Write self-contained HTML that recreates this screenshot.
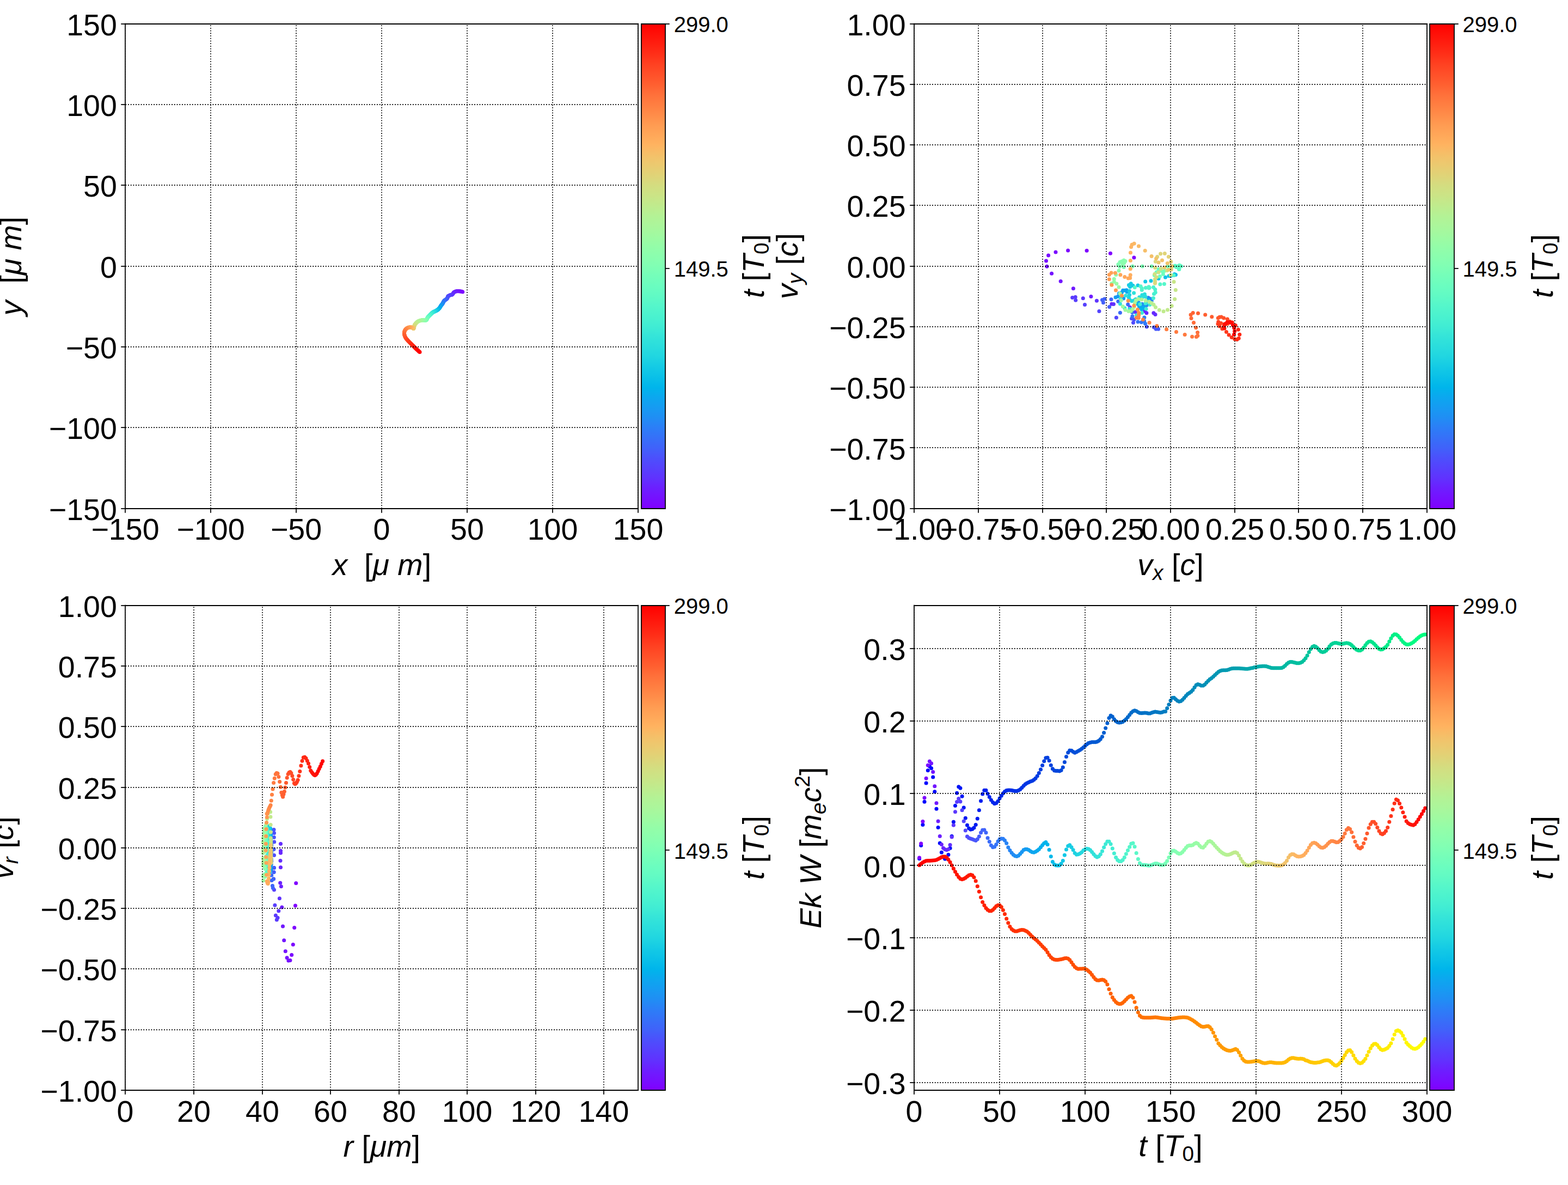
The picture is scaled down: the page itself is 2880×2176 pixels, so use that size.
<!DOCTYPE html>
<html><head><meta charset="utf-8"><title>figure</title>
<style>html,body{margin:0;padding:0;background:#fff}svg{display:block}</style></head>
<body>
<svg width="2880" height="2176" viewBox="0 0 1296 979.2" role="img" aria-label="Four-panel particle trajectory figure">
<defs><linearGradient id="rb" x1="0" y1="1" x2="0" y2="0"><stop offset="0.0000" stop-color="#8000ff"/><stop offset="0.0208" stop-color="#7610ff"/><stop offset="0.0417" stop-color="#6c1fff"/><stop offset="0.0625" stop-color="#6032fe"/><stop offset="0.0833" stop-color="#5641fd"/><stop offset="0.1042" stop-color="#4c50fc"/><stop offset="0.1250" stop-color="#4062fa"/><stop offset="0.1458" stop-color="#3670f8"/><stop offset="0.1667" stop-color="#2c7ef7"/><stop offset="0.1875" stop-color="#208ef4"/><stop offset="0.2083" stop-color="#169bf2"/><stop offset="0.2292" stop-color="#0ca7ef"/><stop offset="0.2500" stop-color="#00b5eb"/><stop offset="0.2708" stop-color="#0ac0e8"/><stop offset="0.2917" stop-color="#14cae5"/><stop offset="0.3125" stop-color="#20d5e1"/><stop offset="0.3333" stop-color="#2adddd"/><stop offset="0.3542" stop-color="#34e4d9"/><stop offset="0.3750" stop-color="#40ecd4"/><stop offset="0.3958" stop-color="#4af2cf"/><stop offset="0.4167" stop-color="#54f6cb"/><stop offset="0.4375" stop-color="#60fac5"/><stop offset="0.4583" stop-color="#6afdc0"/><stop offset="0.4792" stop-color="#74feba"/><stop offset="0.5000" stop-color="#80ffb4"/><stop offset="0.5208" stop-color="#8bfeae"/><stop offset="0.5417" stop-color="#94fda8"/><stop offset="0.5625" stop-color="#a0faa1"/><stop offset="0.5833" stop-color="#abf69b"/><stop offset="0.6042" stop-color="#b4f295"/><stop offset="0.6250" stop-color="#c0eb8d"/><stop offset="0.6458" stop-color="#cbe486"/><stop offset="0.6667" stop-color="#d4dd80"/><stop offset="0.6875" stop-color="#e0d377"/><stop offset="0.7083" stop-color="#ebca70"/><stop offset="0.7292" stop-color="#f4c069"/><stop offset="0.7500" stop-color="#ffb360"/><stop offset="0.7708" stop-color="#ffa759"/><stop offset="0.7917" stop-color="#ff9b52"/><stop offset="0.8125" stop-color="#ff8c49"/><stop offset="0.8333" stop-color="#ff7e41"/><stop offset="0.8542" stop-color="#ff703a"/><stop offset="0.8750" stop-color="#ff5f30"/><stop offset="0.8958" stop-color="#ff5029"/><stop offset="0.9167" stop-color="#ff4121"/><stop offset="0.9375" stop-color="#ff2f18"/><stop offset="0.9583" stop-color="#ff1f10"/><stop offset="0.9792" stop-color="#ff1008"/><stop offset="1.0000" stop-color="#ff0000"/></linearGradient>
<style type="text/css">*{stroke-linejoin: round; stroke-linecap: butt}
.t{font-family:"Liberation Sans","DejaVu Sans",sans-serif;font-size:25px;fill:#000000}
.s{font-family:"Liberation Sans","DejaVu Sans",sans-serif;font-size:18px;fill:#000000}
.i{font-style:italic}</style>
</defs>
<g id="figure_1">
<g id="patch_1">
<path d="M 0 979.2 L 1296 979.2 L 1296 0 L 0 0 z
" style="fill: #ffffff"/>
</g>
<g id="axes_1">
<g id="patch_2">
<path d="M 103.68 420.165818 L 527.443826 420.165818 L 527.443826 19.584 L 103.68 19.584 z
" style="fill: #ffffff"/>
</g>
<g transform="scale(0.45)"><defs><clipPath id="cp1"><rect x="230.40" y="43.52" width="941.7" height="890.18"/></clipPath><clipPath id="cp2"><rect x="1679.16" y="43.52" width="941.7" height="890.18"/></clipPath><clipPath id="cp3"><rect x="230.40" y="1111.74" width="941.7" height="890.18"/></clipPath><clipPath id="cp4"><rect x="1679.16" y="1111.74" width="941.7" height="890.18"/></clipPath></defs><g clip-path="url(#cp1)"><circle cx="849.7" cy="536.0" r="3.52" fill="#8000ff"/><circle cx="848.6" cy="535.6" r="3.52" fill="#8000ff"/><circle cx="847.4" cy="535.3" r="3.52" fill="#7e03ff"/><circle cx="846.1" cy="535.0" r="3.52" fill="#7c06ff"/><circle cx="844.9" cy="534.9" r="3.52" fill="#7a09ff"/><circle cx="843.6" cy="534.8" r="3.52" fill="#780dff"/><circle cx="842.4" cy="534.7" r="3.52" fill="#7610ff"/><circle cx="841.1" cy="534.7" r="3.52" fill="#7413ff"/><circle cx="839.8" cy="534.7" r="3.52" fill="#7413ff"/><circle cx="838.5" cy="534.7" r="3.52" fill="#7216ff"/><circle cx="837.3" cy="535.0" r="3.52" fill="#7019ff"/><circle cx="836.1" cy="535.4" r="3.52" fill="#6e1cff"/><circle cx="835.0" cy="535.9" r="3.52" fill="#6c1fff"/><circle cx="834.1" cy="536.4" r="3.52" fill="#6a22fe"/><circle cx="833.3" cy="537.1" r="3.52" fill="#6826fe"/><circle cx="832.7" cy="538.0" r="3.52" fill="#6826fe"/><circle cx="832.1" cy="538.9" r="3.52" fill="#6629fe"/><circle cx="831.6" cy="539.8" r="3.52" fill="#642cfe"/><circle cx="830.9" cy="540.6" r="3.52" fill="#622ffe"/><circle cx="830.1" cy="541.2" r="3.52" fill="#6032fe"/><circle cx="829.1" cy="541.4" r="3.52" fill="#5e35fe"/><circle cx="828.0" cy="541.6" r="3.52" fill="#5c38fd"/><circle cx="827.0" cy="541.8" r="3.52" fill="#5a3bfd"/><circle cx="826.0" cy="542.2" r="3.52" fill="#5a3bfd"/><circle cx="825.1" cy="542.7" r="3.52" fill="#583efd"/><circle cx="824.2" cy="543.2" r="3.52" fill="#5641fd"/><circle cx="823.4" cy="543.6" r="3.52" fill="#5444fd"/><circle cx="822.8" cy="544.1" r="3.52" fill="#5247fc"/><circle cx="822.5" cy="544.9" r="3.52" fill="#504afc"/><circle cx="822.2" cy="545.7" r="3.52" fill="#4e4dfc"/><circle cx="822.0" cy="546.6" r="3.52" fill="#4e4dfc"/><circle cx="821.6" cy="547.4" r="3.52" fill="#4c50fc"/><circle cx="821.2" cy="548.1" r="3.52" fill="#4a53fb"/><circle cx="820.6" cy="548.7" r="3.52" fill="#4856fb"/><circle cx="820.0" cy="549.3" r="3.52" fill="#4659fb"/><circle cx="819.3" cy="549.8" r="3.52" fill="#445cfb"/><circle cx="818.6" cy="550.2" r="3.52" fill="#425ffa"/><circle cx="817.9" cy="550.7" r="3.52" fill="#4062fa"/><circle cx="817.4" cy="551.0" r="3.52" fill="#4062fa"/><circle cx="816.9" cy="551.3" r="3.52" fill="#3e65fa"/><circle cx="816.5" cy="551.7" r="3.52" fill="#3c68f9"/><circle cx="816.1" cy="552.1" r="3.52" fill="#396bf9"/><circle cx="815.7" cy="552.5" r="3.52" fill="#386df9"/><circle cx="815.3" cy="552.9" r="3.52" fill="#3670f8"/><circle cx="815.0" cy="553.4" r="3.52" fill="#3473f8"/><circle cx="814.7" cy="553.9" r="3.52" fill="#3473f8"/><circle cx="814.4" cy="554.4" r="3.52" fill="#3176f8"/><circle cx="814.2" cy="554.9" r="3.52" fill="#3079f7"/><circle cx="814.0" cy="555.5" r="3.52" fill="#2e7bf7"/><circle cx="813.7" cy="556.0" r="3.52" fill="#2c7ef7"/><circle cx="813.5" cy="556.5" r="3.52" fill="#2981f6"/><circle cx="813.2" cy="557.0" r="3.52" fill="#2884f6"/><circle cx="812.9" cy="557.5" r="3.52" fill="#2884f6"/><circle cx="812.5" cy="557.9" r="3.52" fill="#2686f5"/><circle cx="812.2" cy="558.4" r="3.52" fill="#2489f5"/><circle cx="811.8" cy="558.8" r="3.52" fill="#218cf4"/><circle cx="811.5" cy="559.3" r="3.52" fill="#208ef4"/><circle cx="811.1" cy="559.7" r="3.52" fill="#1e91f3"/><circle cx="810.8" cy="560.2" r="3.52" fill="#1c93f3"/><circle cx="810.4" cy="560.6" r="3.52" fill="#1996f3"/><circle cx="810.1" cy="561.1" r="3.52" fill="#1996f3"/><circle cx="809.8" cy="561.6" r="3.52" fill="#1898f2"/><circle cx="809.5" cy="562.1" r="3.52" fill="#169bf2"/><circle cx="809.2" cy="562.6" r="3.52" fill="#149df1"/><circle cx="808.9" cy="563.1" r="3.52" fill="#11a0f1"/><circle cx="808.6" cy="563.6" r="3.52" fill="#10a2f0"/><circle cx="808.3" cy="564.0" r="3.52" fill="#0ea5ef"/><circle cx="808.0" cy="564.5" r="3.52" fill="#0ea5ef"/><circle cx="807.6" cy="564.9" r="3.52" fill="#0ca7ef"/><circle cx="807.3" cy="565.4" r="3.52" fill="#09a9ee"/><circle cx="806.9" cy="565.8" r="3.52" fill="#08acee"/><circle cx="806.5" cy="566.2" r="3.52" fill="#06aeed"/><circle cx="806.1" cy="566.7" r="3.52" fill="#04b0ed"/><circle cx="805.7" cy="567.1" r="3.52" fill="#01b3ec"/><circle cx="805.3" cy="567.5" r="3.52" fill="#00b5eb"/><circle cx="805.0" cy="567.8" r="3.52" fill="#00b5eb"/><circle cx="804.7" cy="568.0" r="3.52" fill="#02b7eb"/><circle cx="804.4" cy="568.3" r="3.52" fill="#04b9ea"/><circle cx="804.1" cy="568.6" r="3.52" fill="#07bbea"/><circle cx="803.7" cy="568.9" r="3.52" fill="#08bee9"/><circle cx="803.4" cy="569.1" r="3.52" fill="#0ac0e8"/><circle cx="803.1" cy="569.4" r="3.52" fill="#0dc2e8"/><circle cx="802.7" cy="569.6" r="3.52" fill="#0dc2e8"/><circle cx="802.4" cy="569.8" r="3.52" fill="#0fc4e7"/><circle cx="802.0" cy="570.1" r="3.52" fill="#10c6e6"/><circle cx="801.7" cy="570.3" r="3.52" fill="#12c8e6"/><circle cx="801.3" cy="570.5" r="3.52" fill="#14cae5"/><circle cx="800.9" cy="570.6" r="3.52" fill="#17cbe4"/><circle cx="800.6" cy="570.8" r="3.52" fill="#18cde4"/><circle cx="800.2" cy="571.0" r="3.52" fill="#18cde4"/><circle cx="799.8" cy="571.2" r="3.52" fill="#1acfe3"/><circle cx="799.4" cy="571.3" r="3.52" fill="#1dd1e2"/><circle cx="799.0" cy="571.5" r="3.52" fill="#1fd3e1"/><circle cx="798.6" cy="571.7" r="3.52" fill="#20d5e1"/><circle cx="798.2" cy="571.9" r="3.52" fill="#22d6e0"/><circle cx="797.8" cy="572.0" r="3.52" fill="#24d8df"/><circle cx="797.4" cy="572.2" r="3.52" fill="#27dade"/><circle cx="797.0" cy="572.4" r="3.52" fill="#27dade"/><circle cx="796.6" cy="572.6" r="3.52" fill="#28dbde"/><circle cx="796.2" cy="572.8" r="3.52" fill="#2adddd"/><circle cx="795.8" cy="573.0" r="3.52" fill="#2ddedc"/><circle cx="795.4" cy="573.3" r="3.52" fill="#2fe0db"/><circle cx="795.1" cy="573.5" r="3.52" fill="#30e1da"/><circle cx="794.7" cy="573.8" r="3.52" fill="#32e3da"/><circle cx="794.4" cy="574.1" r="3.52" fill="#32e3da"/><circle cx="794.0" cy="574.3" r="3.52" fill="#34e4d9"/><circle cx="793.7" cy="574.6" r="3.52" fill="#37e6d8"/><circle cx="793.4" cy="574.9" r="3.52" fill="#38e7d7"/><circle cx="793.0" cy="575.2" r="3.52" fill="#3ae8d6"/><circle cx="792.7" cy="575.5" r="3.52" fill="#3dead5"/><circle cx="792.4" cy="575.8" r="3.52" fill="#3febd5"/><circle cx="792.1" cy="576.1" r="3.52" fill="#40ecd4"/><circle cx="791.8" cy="576.4" r="3.52" fill="#40ecd4"/><circle cx="791.5" cy="576.7" r="3.52" fill="#42edd3"/><circle cx="791.2" cy="577.0" r="3.52" fill="#44eed2"/><circle cx="790.9" cy="577.3" r="3.52" fill="#46efd1"/><circle cx="790.6" cy="577.6" r="3.52" fill="#48f1d0"/><circle cx="790.3" cy="577.9" r="3.52" fill="#4af2cf"/><circle cx="790.0" cy="578.2" r="3.52" fill="#4df3ce"/><circle cx="789.7" cy="578.5" r="3.52" fill="#4df3ce"/><circle cx="789.4" cy="578.8" r="3.52" fill="#4ef3cd"/><circle cx="789.1" cy="579.1" r="3.52" fill="#50f4cc"/><circle cx="788.8" cy="579.4" r="3.52" fill="#52f5cb"/><circle cx="788.5" cy="579.7" r="3.52" fill="#54f6cb"/><circle cx="788.2" cy="580.0" r="3.52" fill="#56f7ca"/><circle cx="787.9" cy="580.3" r="3.52" fill="#58f8c9"/><circle cx="787.6" cy="580.6" r="3.52" fill="#58f8c9"/><circle cx="787.3" cy="580.9" r="3.52" fill="#5af8c8"/><circle cx="787.0" cy="581.2" r="3.52" fill="#5df9c7"/><circle cx="786.7" cy="581.5" r="3.52" fill="#5efac6"/><circle cx="786.5" cy="581.8" r="3.52" fill="#60fac5"/><circle cx="786.2" cy="582.1" r="3.52" fill="#62fbc4"/><circle cx="785.9" cy="582.5" r="3.52" fill="#64fbc3"/><circle cx="785.6" cy="582.8" r="3.52" fill="#66fcc2"/><circle cx="785.4" cy="583.1" r="3.52" fill="#66fcc2"/><circle cx="785.2" cy="583.5" r="3.52" fill="#68fcc1"/><circle cx="785.0" cy="583.9" r="3.52" fill="#6afdc0"/><circle cx="784.8" cy="584.2" r="3.52" fill="#6dfdbf"/><circle cx="784.6" cy="584.6" r="3.52" fill="#6efebe"/><circle cx="784.5" cy="585.0" r="3.52" fill="#70febc"/><circle cx="784.3" cy="585.4" r="3.52" fill="#72febb"/><circle cx="784.2" cy="585.8" r="3.52" fill="#72febb"/><circle cx="784.0" cy="586.2" r="3.52" fill="#74feba"/><circle cx="783.8" cy="586.5" r="3.52" fill="#76ffb9"/><circle cx="783.6" cy="586.9" r="3.52" fill="#78ffb8"/><circle cx="783.3" cy="587.2" r="3.52" fill="#7affb7"/><circle cx="783.0" cy="587.5" r="3.52" fill="#7dffb6"/><circle cx="782.6" cy="587.8" r="3.52" fill="#7effb5"/><circle cx="782.2" cy="588.0" r="3.52" fill="#80ffb4"/><circle cx="781.8" cy="588.2" r="3.52" fill="#80ffb4"/><circle cx="781.4" cy="588.2" r="3.52" fill="#82ffb3"/><circle cx="781.0" cy="588.3" r="3.52" fill="#84ffb2"/><circle cx="780.6" cy="588.3" r="3.52" fill="#86ffb0"/><circle cx="780.1" cy="588.2" r="3.52" fill="#88ffaf"/><circle cx="779.7" cy="588.2" r="3.52" fill="#8bfeae"/><circle cx="779.3" cy="588.1" r="3.52" fill="#8cfead"/><circle cx="778.8" cy="588.0" r="3.52" fill="#8cfead"/><circle cx="778.4" cy="587.9" r="3.52" fill="#8efeac"/><circle cx="777.9" cy="587.9" r="3.52" fill="#90feab"/><circle cx="777.4" cy="587.8" r="3.52" fill="#92fda9"/><circle cx="776.9" cy="587.8" r="3.52" fill="#94fda8"/><circle cx="776.4" cy="587.8" r="3.52" fill="#96fca7"/><circle cx="775.9" cy="587.8" r="3.52" fill="#99fca6"/><circle cx="775.4" cy="587.9" r="3.52" fill="#99fca6"/><circle cx="775.0" cy="587.9" r="3.52" fill="#9bfba5"/><circle cx="774.5" cy="588.0" r="3.52" fill="#9cfba4"/><circle cx="774.0" cy="588.1" r="3.52" fill="#9efaa2"/><circle cx="773.5" cy="588.2" r="3.52" fill="#a0faa1"/><circle cx="773.1" cy="588.3" r="3.52" fill="#a2f9a0"/><circle cx="772.6" cy="588.4" r="3.52" fill="#a4f89f"/><circle cx="772.1" cy="588.5" r="3.52" fill="#a6f89d"/><circle cx="771.6" cy="588.7" r="3.52" fill="#a6f89d"/><circle cx="771.2" cy="588.8" r="3.52" fill="#a8f79c"/><circle cx="770.5" cy="589.0" r="3.52" fill="#abf69b"/><circle cx="769.9" cy="589.3" r="3.52" fill="#acf59a"/><circle cx="769.3" cy="589.5" r="3.52" fill="#aef498"/><circle cx="768.7" cy="589.8" r="3.52" fill="#b0f397"/><circle cx="768.1" cy="590.1" r="3.52" fill="#b2f396"/><circle cx="767.5" cy="590.4" r="3.52" fill="#b2f396"/><circle cx="766.9" cy="590.8" r="3.52" fill="#b4f295"/><circle cx="766.4" cy="591.2" r="3.52" fill="#b6f193"/><circle cx="765.9" cy="591.6" r="3.52" fill="#b9ef92"/><circle cx="765.4" cy="592.1" r="3.52" fill="#bbee91"/><circle cx="764.9" cy="592.6" r="3.52" fill="#bced8f"/><circle cx="764.4" cy="593.1" r="3.52" fill="#beec8e"/><circle cx="764.1" cy="593.4" r="3.52" fill="#c0eb8d"/><circle cx="763.8" cy="593.8" r="3.52" fill="#c0eb8d"/><circle cx="763.4" cy="594.1" r="3.52" fill="#c2ea8c"/><circle cx="763.1" cy="594.5" r="3.52" fill="#c4e88a"/><circle cx="762.8" cy="594.9" r="3.52" fill="#c6e789"/><circle cx="762.5" cy="595.3" r="3.52" fill="#c8e688"/><circle cx="762.2" cy="595.7" r="3.52" fill="#cbe486"/><circle cx="762.0" cy="596.1" r="3.52" fill="#cce385"/><circle cx="761.7" cy="596.6" r="3.52" fill="#cce385"/><circle cx="761.5" cy="597.0" r="3.52" fill="#cee184"/><circle cx="761.3" cy="597.5" r="3.52" fill="#d0e082"/><circle cx="761.1" cy="598.0" r="3.52" fill="#d2de81"/><circle cx="761.0" cy="598.4" r="3.52" fill="#d4dd80"/><circle cx="760.9" cy="598.9" r="3.52" fill="#d6db7e"/><circle cx="760.8" cy="599.3" r="3.52" fill="#d9da7d"/><circle cx="760.7" cy="599.6" r="3.52" fill="#d9da7d"/><circle cx="760.7" cy="600.0" r="3.52" fill="#dbd87b"/><circle cx="760.6" cy="600.4" r="3.52" fill="#dcd67a"/><circle cx="760.6" cy="600.8" r="3.52" fill="#ded579"/><circle cx="760.5" cy="601.2" r="3.52" fill="#e0d377"/><circle cx="760.4" cy="601.6" r="3.52" fill="#e2d176"/><circle cx="760.3" cy="602.1" r="3.52" fill="#e4cf74"/><circle cx="760.1" cy="602.5" r="3.52" fill="#e6cd73"/><circle cx="760.0" cy="602.9" r="3.52" fill="#e6cd73"/><circle cx="759.7" cy="603.2" r="3.52" fill="#e8cb72"/><circle cx="759.5" cy="603.4" r="3.52" fill="#ebca70"/><circle cx="759.2" cy="603.3" r="3.52" fill="#ecc86f"/><circle cx="758.9" cy="603.1" r="3.52" fill="#eec66d"/><circle cx="758.5" cy="602.8" r="3.52" fill="#f0c46c"/><circle cx="758.2" cy="602.5" r="3.52" fill="#f2c26b"/><circle cx="757.8" cy="602.1" r="3.52" fill="#f2c26b"/><circle cx="757.4" cy="601.8" r="3.52" fill="#f4c069"/><circle cx="757.0" cy="601.5" r="3.52" fill="#f6be68"/><circle cx="756.6" cy="601.3" r="3.52" fill="#f9bb66"/><circle cx="756.2" cy="601.2" r="3.52" fill="#fbb965"/><circle cx="755.8" cy="601.1" r="3.52" fill="#fcb763"/><circle cx="755.4" cy="601.0" r="3.52" fill="#feb562"/><circle cx="755.0" cy="601.0" r="3.52" fill="#ffb360"/><circle cx="754.5" cy="600.9" r="3.52" fill="#ffb360"/><circle cx="754.0" cy="600.9" r="3.52" fill="#ffb05f"/><circle cx="753.5" cy="600.9" r="3.52" fill="#ffae5e"/><circle cx="753.0" cy="600.9" r="3.52" fill="#ffac5c"/><circle cx="752.5" cy="601.0" r="3.52" fill="#ffa95b"/><circle cx="752.0" cy="601.0" r="3.52" fill="#ffa759"/><circle cx="751.6" cy="601.1" r="3.52" fill="#ffa558"/><circle cx="751.1" cy="601.2" r="3.52" fill="#ffa558"/><circle cx="750.6" cy="601.3" r="3.52" fill="#ffa256"/><circle cx="750.1" cy="601.5" r="3.52" fill="#ffa055"/><circle cx="749.6" cy="601.6" r="3.52" fill="#ff9d53"/><circle cx="749.2" cy="601.8" r="3.52" fill="#ff9b52"/><circle cx="748.7" cy="602.0" r="3.52" fill="#ff9850"/><circle cx="748.3" cy="602.2" r="3.52" fill="#ff964f"/><circle cx="747.8" cy="602.5" r="3.52" fill="#ff964f"/><circle cx="747.3" cy="602.8" r="3.52" fill="#ff934d"/><circle cx="746.7" cy="603.2" r="3.52" fill="#ff914c"/><circle cx="746.2" cy="603.7" r="3.52" fill="#ff8e4a"/><circle cx="745.6" cy="604.1" r="3.52" fill="#ff8c49"/><circle cx="745.2" cy="604.6" r="3.52" fill="#ff8947"/><circle cx="744.7" cy="605.1" r="3.52" fill="#ff8646"/><circle cx="744.3" cy="605.7" r="3.52" fill="#ff8444"/><circle cx="744.0" cy="606.3" r="3.52" fill="#ff8444"/><circle cx="743.6" cy="606.9" r="3.52" fill="#ff8143"/><circle cx="743.4" cy="607.5" r="3.52" fill="#ff7e41"/><circle cx="743.1" cy="608.1" r="3.52" fill="#ff7b40"/><circle cx="742.9" cy="608.8" r="3.52" fill="#ff793e"/><circle cx="742.7" cy="609.5" r="3.52" fill="#ff763d"/><circle cx="742.6" cy="610.2" r="3.52" fill="#ff733b"/><circle cx="742.5" cy="610.9" r="3.52" fill="#ff733b"/><circle cx="742.4" cy="611.7" r="3.52" fill="#ff703a"/><circle cx="742.4" cy="612.4" r="3.52" fill="#ff6d38"/><circle cx="742.5" cy="613.1" r="3.52" fill="#ff6b37"/><circle cx="742.6" cy="613.8" r="3.52" fill="#ff6835"/><circle cx="742.8" cy="614.5" r="3.52" fill="#ff6533"/><circle cx="743.0" cy="615.2" r="3.52" fill="#ff6232"/><circle cx="743.2" cy="615.9" r="3.52" fill="#ff5f30"/><circle cx="743.5" cy="616.9" r="3.52" fill="#ff5f30"/><circle cx="743.9" cy="617.9" r="3.52" fill="#ff5c2f"/><circle cx="744.3" cy="618.8" r="3.52" fill="#ff592d"/><circle cx="744.8" cy="619.7" r="3.52" fill="#ff562c"/><circle cx="745.3" cy="620.5" r="3.52" fill="#ff532a"/><circle cx="745.9" cy="621.4" r="3.52" fill="#ff5029"/><circle cx="746.5" cy="622.2" r="3.52" fill="#ff4d27"/><circle cx="747.2" cy="622.9" r="3.52" fill="#ff4d27"/><circle cx="747.8" cy="623.7" r="3.52" fill="#ff4a26"/><circle cx="748.5" cy="624.5" r="3.52" fill="#ff4724"/><circle cx="749.1" cy="625.2" r="3.52" fill="#ff4422"/><circle cx="749.8" cy="626.0" r="3.52" fill="#ff4121"/><circle cx="750.5" cy="626.7" r="3.52" fill="#ff3e1f"/><circle cx="751.4" cy="627.6" r="3.52" fill="#ff3b1e"/><circle cx="752.2" cy="628.4" r="3.52" fill="#ff3b1e"/><circle cx="753.0" cy="629.3" r="3.52" fill="#ff381c"/><circle cx="753.9" cy="630.1" r="3.52" fill="#ff351b"/><circle cx="754.7" cy="630.9" r="3.52" fill="#ff3219"/><circle cx="755.6" cy="631.7" r="3.52" fill="#ff2f18"/><circle cx="756.4" cy="632.6" r="3.52" fill="#ff2c16"/><circle cx="757.2" cy="633.4" r="3.52" fill="#ff2914"/><circle cx="758.1" cy="634.3" r="3.52" fill="#ff2613"/><circle cx="758.9" cy="635.1" r="3.52" fill="#ff2613"/><circle cx="759.7" cy="635.9" r="3.52" fill="#ff2211"/><circle cx="760.6" cy="636.8" r="3.52" fill="#ff1f10"/><circle cx="761.4" cy="637.6" r="3.52" fill="#ff1c0e"/><circle cx="762.2" cy="638.5" r="3.52" fill="#ff190d"/><circle cx="763.1" cy="639.3" r="3.52" fill="#ff160b"/><circle cx="763.9" cy="640.1" r="3.52" fill="#ff1309"/><circle cx="764.8" cy="640.9" r="3.52" fill="#ff1309"/><circle cx="765.7" cy="641.7" r="3.52" fill="#ff1008"/><circle cx="766.6" cy="642.5" r="3.52" fill="#ff0d06"/><circle cx="767.5" cy="643.3" r="3.52" fill="#ff0905"/><circle cx="768.3" cy="644.1" r="3.52" fill="#ff0603"/><circle cx="769.2" cy="644.9" r="3.52" fill="#ff0302"/><circle cx="770.1" cy="645.7" r="3.52" fill="#ff0000"/><circle cx="771.0" cy="646.5" r="3.52" fill="#ff0000"/></g></g>
<g id="matplotlib.axis_1">
<g id="xtick_1">
<g id="line2d_1">
<path d="M 103.5000 420.1658 L 103.5000 19.5840" clip-path="url(#pd6aecbfa7d)" style="fill: none; stroke-dasharray: 0.8,1.32; stroke-dashoffset: 0; stroke: #000000; stroke-width: 0.8"/>
</g>
<g id="line2d_2">
<defs>
<path id="m1504cfccaf" d="M 0.0000 0.0000 L 0.0000 3.5000" style="stroke: #000000; stroke-width: 0.8"/>
</defs>
<g>
<use href="#m1504cfccaf" x="103.5000" y="420.3000" style="stroke: #000000; stroke-width: 0.8"/>
</g>
</g>
<g id="text_1">
<text class="t" x="103.5" y="446.16" text-anchor="middle">−150</text>
</g>
</g>
<g id="xtick_2">
<g id="line2d_3">
<path d="M 174.1500 420.1658 L 174.1500 19.5840" clip-path="url(#pd6aecbfa7d)" style="fill: none; stroke-dasharray: 0.8,1.32; stroke-dashoffset: 0; stroke: #000000; stroke-width: 0.8"/>
</g>
<g id="line2d_4">
<g>
<use href="#m1504cfccaf" x="174.1500" y="420.3000" style="stroke: #000000; stroke-width: 0.8"/>
</g>
</g>
<g id="text_2">
<text class="t" x="174.15" y="446.16" text-anchor="middle">−100</text>
</g>
</g>
<g id="xtick_3">
<g id="line2d_5">
<path d="M 244.8000 420.1658 L 244.8000 19.5840" clip-path="url(#pd6aecbfa7d)" style="fill: none; stroke-dasharray: 0.8,1.32; stroke-dashoffset: 0; stroke: #000000; stroke-width: 0.8"/>
</g>
<g id="line2d_6">
<g>
<use href="#m1504cfccaf" x="244.8000" y="420.3000" style="stroke: #000000; stroke-width: 0.8"/>
</g>
</g>
<g id="text_3">
<text class="t" x="244.8" y="446.16" text-anchor="middle">−50</text>
</g>
</g>
<g id="xtick_4">
<g id="line2d_7">
<path d="M 315.4500 420.1658 L 315.4500 19.5840" clip-path="url(#pd6aecbfa7d)" style="fill: none; stroke-dasharray: 0.8,1.32; stroke-dashoffset: 0; stroke: #000000; stroke-width: 0.8"/>
</g>
<g id="line2d_8">
<g>
<use href="#m1504cfccaf" x="315.4500" y="420.3000" style="stroke: #000000; stroke-width: 0.8"/>
</g>
</g>
<g id="text_4">
<text class="t" x="315.45" y="446.16" text-anchor="middle">0</text>
</g>
</g>
<g id="xtick_5">
<g id="line2d_9">
<path d="M 386.1000 420.1658 L 386.1000 19.5840" clip-path="url(#pd6aecbfa7d)" style="fill: none; stroke-dasharray: 0.8,1.32; stroke-dashoffset: 0; stroke: #000000; stroke-width: 0.8"/>
</g>
<g id="line2d_10">
<g>
<use href="#m1504cfccaf" x="386.1000" y="420.3000" style="stroke: #000000; stroke-width: 0.8"/>
</g>
</g>
<g id="text_5">
<text class="t" x="386.1" y="446.16" text-anchor="middle">50</text>
</g>
</g>
<g id="xtick_6">
<g id="line2d_11">
<path d="M 456.7500 420.1658 L 456.7500 19.5840" clip-path="url(#pd6aecbfa7d)" style="fill: none; stroke-dasharray: 0.8,1.32; stroke-dashoffset: 0; stroke: #000000; stroke-width: 0.8"/>
</g>
<g id="line2d_12">
<g>
<use href="#m1504cfccaf" x="456.7500" y="420.3000" style="stroke: #000000; stroke-width: 0.8"/>
</g>
</g>
<g id="text_6">
<text class="t" x="456.75" y="446.16" text-anchor="middle">100</text>
</g>
</g>
<g id="xtick_7">
<g id="line2d_13">
<path d="M 527.4000 420.1658 L 527.4000 19.5840" clip-path="url(#pd6aecbfa7d)" style="fill: none; stroke-dasharray: 0.8,1.32; stroke-dashoffset: 0; stroke: #000000; stroke-width: 0.8"/>
</g>
<g id="line2d_14">
<g>
<use href="#m1504cfccaf" x="527.4000" y="420.3000" style="stroke: #000000; stroke-width: 0.8"/>
</g>
</g>
<g id="text_7">
<text class="t" x="527.4" y="446.16" text-anchor="middle">150</text>
</g>
</g>
<g id="text_8">
<text class="t" x="315.56" y="475.28" text-anchor="middle"><tspan class="i">x</tspan>&#160;&#160;[<tspan class="i">μ&#160;m</tspan>]</text>
</g>
</g>
<g id="matplotlib.axis_2">
<g id="ytick_1">
<g id="line2d_15">
<path d="M 103.6800 420.3000 L 527.4438 420.3000" clip-path="url(#pd6aecbfa7d)" style="fill: none; stroke-dasharray: 0.8,1.32; stroke-dashoffset: 0; stroke: #000000; stroke-width: 0.8"/>
</g>
<g id="line2d_16">
<defs>
<path id="m5d545ce8f8" d="M 0.0000 0.0000 L -3.5000 0.0000" style="stroke: #000000; stroke-width: 0.8"/>
</defs>
<g>
<use href="#m5d545ce8f8" x="103.5000" y="420.3000" style="stroke: #000000; stroke-width: 0.8"/>
</g>
</g>
<g id="text_9">
<text class="t" x="96.7" y="429.66" text-anchor="end">−150</text>
</g>
</g>
<g id="ytick_2">
<g id="line2d_17">
<path d="M 103.6800 353.2500 L 527.4438 353.2500" clip-path="url(#pd6aecbfa7d)" style="fill: none; stroke-dasharray: 0.8,1.32; stroke-dashoffset: 0; stroke: #000000; stroke-width: 0.8"/>
</g>
<g id="line2d_18">
<g>
<use href="#m5d545ce8f8" x="103.5000" y="353.2500" style="stroke: #000000; stroke-width: 0.8"/>
</g>
</g>
<g id="text_10">
<text class="t" x="96.7" y="362.9" text-anchor="end">−100</text>
</g>
</g>
<g id="ytick_3">
<g id="line2d_19">
<path d="M 103.6800 286.6500 L 527.4438 286.6500" clip-path="url(#pd6aecbfa7d)" style="fill: none; stroke-dasharray: 0.8,1.32; stroke-dashoffset: 0; stroke: #000000; stroke-width: 0.8"/>
</g>
<g id="line2d_20">
<g>
<use href="#m5d545ce8f8" x="103.5000" y="286.6500" style="stroke: #000000; stroke-width: 0.8"/>
</g>
</g>
<g id="text_11">
<text class="t" x="96.7" y="296.14" text-anchor="end">−50</text>
</g>
</g>
<g id="ytick_4">
<g id="line2d_21">
<path d="M 103.6800 220.0500 L 527.4438 220.0500" clip-path="url(#pd6aecbfa7d)" style="fill: none; stroke-dasharray: 0.8,1.32; stroke-dashoffset: 0; stroke: #000000; stroke-width: 0.8"/>
</g>
<g id="line2d_22">
<g>
<use href="#m5d545ce8f8" x="103.5000" y="220.0500" style="stroke: #000000; stroke-width: 0.8"/>
</g>
</g>
<g id="text_12">
<text class="t" x="96.7" y="229.37" text-anchor="end">0</text>
</g>
</g>
<g id="ytick_5">
<g id="line2d_23">
<path d="M 103.6800 153.0000 L 527.4438 153.0000" clip-path="url(#pd6aecbfa7d)" style="fill: none; stroke-dasharray: 0.8,1.32; stroke-dashoffset: 0; stroke: #000000; stroke-width: 0.8"/>
</g>
<g id="line2d_24">
<g>
<use href="#m5d545ce8f8" x="103.5000" y="153.0000" style="stroke: #000000; stroke-width: 0.8"/>
</g>
</g>
<g id="text_13">
<text class="t" x="96.7" y="162.61" text-anchor="end">50</text>
</g>
</g>
<g id="ytick_6">
<g id="line2d_25">
<path d="M 103.6800 86.4000 L 527.4438 86.4000" clip-path="url(#pd6aecbfa7d)" style="fill: none; stroke-dasharray: 0.8,1.32; stroke-dashoffset: 0; stroke: #000000; stroke-width: 0.8"/>
</g>
<g id="line2d_26">
<g>
<use href="#m5d545ce8f8" x="103.5000" y="86.4000" style="stroke: #000000; stroke-width: 0.8"/>
</g>
</g>
<g id="text_14">
<text class="t" x="96.7" y="95.85" text-anchor="end">100</text>
</g>
</g>
<g id="ytick_7">
<g id="line2d_27">
<path d="M 103.6800 19.8000 L 527.4438 19.8000" clip-path="url(#pd6aecbfa7d)" style="fill: none; stroke-dasharray: 0.8,1.32; stroke-dashoffset: 0; stroke: #000000; stroke-width: 0.8"/>
</g>
<g id="line2d_28">
<g>
<use href="#m5d545ce8f8" x="103.5000" y="19.8000" style="stroke: #000000; stroke-width: 0.8"/>
</g>
</g>
<g id="text_15">
<text class="t" x="96.7" y="29.08" text-anchor="end">150</text>
</g>
</g>
<g id="text_16">
<text class="t" transform="translate(17.65 219.87) rotate(-90)" text-anchor="middle"><tspan class="i">y</tspan>&#160;&#160;[<tspan class="i">μ&#160;m</tspan>]</text>
</g>
</g>
<g id="patch_3">
<path d="M 103.5000 420.1658 L 103.5000 19.5840" style="fill: none; stroke: #000000; stroke-width: 0.8; stroke-linejoin: miter; stroke-linecap: square"/>
</g>
<g id="patch_4">
<path d="M 527.4000 420.1658 L 527.4000 19.5840" style="fill: none; stroke: #000000; stroke-width: 0.8; stroke-linejoin: miter; stroke-linecap: square"/>
</g>
<g id="patch_5">
<path d="M 103.6800 420.3000 L 527.4438 420.3000" style="fill: none; stroke: #000000; stroke-width: 0.8; stroke-linejoin: miter; stroke-linecap: square"/>
</g>
<g id="patch_6">
<path d="M 103.6800 19.8000 L 527.4438 19.8000" style="fill: none; stroke: #000000; stroke-width: 0.8; stroke-linejoin: miter; stroke-linecap: square"/>
</g>
</g>
<g id="axes_2">
<g id="patch_7">
<path d="M 529.951304 420.165818 L 549.980395 420.165818 L 549.980395 19.584 L 529.951304 19.584 z
" style="fill: #ffffff"/>
</g>
<rect x="529.951" y="19.584" width="20.029" height="400.582" fill="url(#rb)"/>
<g id="matplotlib.axis_3"/>
<g id="matplotlib.axis_4">
<g id="ytick_8">
<g id="line2d_29">
<defs>
<path id="m33c4ce201d" d="M 0.0000 0.0000 L 3.5000 0.0000" style="stroke: #000000; stroke-width: 0.8"/>
</defs>
<g>
<use href="#m33c4ce201d" x="549.9000" y="221.8500" style="stroke: #000000; stroke-width: 0.8"/>
</g>
</g>
<g id="text_17">
<text class="s" x="556.98" y="228.74">149.5</text>
</g>
</g>
<g id="ytick_9">
<g id="line2d_30">
<g>
<use href="#m33c4ce201d" x="549.9000" y="19.8000" style="stroke: #000000; stroke-width: 0.8"/>
</g>
</g>
<g id="text_18">
<text class="s" x="556.98" y="26.42">299.0</text>
</g>
</g>
<g id="text_19">
<text class="t" transform="translate(631.51 219.87) rotate(-90)" text-anchor="middle"><tspan class="i">t</tspan> [<tspan class="i">T</tspan><tspan font-size="17.5" dy="4.1">0</tspan><tspan dy="-4.1">]</tspan></text>
</g>
</g>
<g id="LineCollection_1"/>
<g id="patch_8">
<path d="M 530.1000 420.3000 L 540.0000 420.3000 L 549.9000 420.3000 L 549.9000 19.8000 L 540.0000 19.8000 L 530.1000 19.8000 L 530.1000 420.3000 z" style="fill: none; stroke: #000000; stroke-width: 0.8; stroke-linejoin: miter; stroke-linecap: square"/>
</g>
</g>
<g id="axes_3">
<g id="patch_9">
<path d="M 755.624348 420.165818 L 1179.388174 420.165818 L 1179.388174 19.584 L 755.624348 19.584 z
" style="fill: #ffffff"/>
</g>
<g transform="scale(0.45)"><g clip-path="url(#cp2)"><circle cx="2082.9" cy="473.0" r="3.52" fill="#8000ff"/><circle cx="2039.5" cy="465.3" r="3.52" fill="#8000ff"/><circle cx="1996.1" cy="460.2" r="3.52" fill="#7e03ff"/><circle cx="1961.6" cy="460.0" r="3.52" fill="#7c06ff"/><circle cx="1939.0" cy="463.1" r="3.52" fill="#7a09ff"/><circle cx="1925.6" cy="469.1" r="3.52" fill="#780dff"/><circle cx="1921.5" cy="479.0" r="3.52" fill="#7610ff"/><circle cx="1922.9" cy="489.3" r="3.52" fill="#7413ff"/><circle cx="1931.6" cy="502.3" r="3.52" fill="#7413ff"/><circle cx="1948.2" cy="516.4" r="3.52" fill="#7216ff"/><circle cx="1971.4" cy="529.8" r="3.52" fill="#7019ff"/><circle cx="2003.9" cy="544.5" r="3.52" fill="#6e1cff"/><circle cx="2041.9" cy="558.2" r="3.52" fill="#6c1fff"/><circle cx="2075.3" cy="564.3" r="3.52" fill="#6a22fe"/><circle cx="2102.7" cy="571.4" r="3.52" fill="#6826fe"/><circle cx="2105.9" cy="574.7" r="3.52" fill="#6826fe"/><circle cx="2118.9" cy="574.7" r="3.52" fill="#6629fe"/><circle cx="2122.0" cy="577.6" r="3.52" fill="#642cfe"/><circle cx="2085.3" cy="573.0" r="3.52" fill="#622ffe"/><circle cx="2045.4" cy="558.6" r="3.52" fill="#6032fe"/><circle cx="2014.4" cy="552.2" r="3.52" fill="#5e35fe"/><circle cx="1989.3" cy="547.7" r="3.52" fill="#5c38fd"/><circle cx="1975.2" cy="545.4" r="3.52" fill="#5a3bfd"/><circle cx="1969.7" cy="546.4" r="3.52" fill="#5a3bfd"/><circle cx="1975.7" cy="551.3" r="3.52" fill="#583efd"/><circle cx="1992.5" cy="559.5" r="3.52" fill="#5641fd"/><circle cx="2018.9" cy="571.4" r="3.52" fill="#5444fd"/><circle cx="2050.4" cy="583.3" r="3.52" fill="#5247fc"/><circle cx="2081.5" cy="592.6" r="3.52" fill="#504afc"/><circle cx="2078.6" cy="585.1" r="3.52" fill="#4e4dfc"/><circle cx="2082.9" cy="586.7" r="3.52" fill="#4e4dfc"/><circle cx="2106.2" cy="599.9" r="3.52" fill="#4c50fc"/><circle cx="2119.5" cy="601.0" r="3.52" fill="#4a53fb"/><circle cx="2123.3" cy="604.3" r="3.52" fill="#4856fb"/><circle cx="2127.6" cy="604.3" r="3.52" fill="#4659fb"/><circle cx="2037.6" cy="563.6" r="3.52" fill="#445cfb"/><circle cx="2026.5" cy="555.7" r="3.52" fill="#425ffa"/><circle cx="2024.5" cy="550.8" r="3.52" fill="#4062fa"/><circle cx="2028.7" cy="548.9" r="3.52" fill="#4062fa"/><circle cx="2041.0" cy="549.7" r="3.52" fill="#3e65fa"/><circle cx="2053.8" cy="553.5" r="3.52" fill="#3c68f9"/><circle cx="2057.4" cy="574.3" r="3.52" fill="#396bf9"/><circle cx="2071.7" cy="558.9" r="3.52" fill="#386df9"/><circle cx="2079.7" cy="573.4" r="3.52" fill="#3670f8"/><circle cx="2079.9" cy="580.7" r="3.52" fill="#3473f8"/><circle cx="2090.0" cy="591.0" r="3.52" fill="#3473f8"/><circle cx="2096.5" cy="591.8" r="3.52" fill="#3176f8"/><circle cx="2101.6" cy="589.6" r="3.52" fill="#3079f7"/><circle cx="2103.5" cy="594.3" r="3.52" fill="#2e7bf7"/><circle cx="2101.9" cy="582.9" r="3.52" fill="#2c7ef7"/><circle cx="2109.2" cy="546.8" r="3.52" fill="#2981f6"/><circle cx="2113.0" cy="548.7" r="3.52" fill="#2884f6"/><circle cx="2115.2" cy="552.8" r="3.52" fill="#2884f6"/><circle cx="2106.0" cy="560.4" r="3.52" fill="#2686f5"/><circle cx="2100.5" cy="562.6" r="3.52" fill="#2489f5"/><circle cx="2097.8" cy="558.2" r="3.52" fill="#218cf4"/><circle cx="2091.3" cy="555.5" r="3.52" fill="#208ef4"/><circle cx="2095.1" cy="564.7" r="3.52" fill="#1e91f3"/><circle cx="2098.4" cy="565.8" r="3.52" fill="#1c93f3"/><circle cx="2102.2" cy="560.4" r="3.52" fill="#1996f3"/><circle cx="2063.6" cy="547.9" r="3.52" fill="#1996f3"/><circle cx="2053.3" cy="544.6" r="3.52" fill="#1898f2"/><circle cx="2049.0" cy="546.0" r="3.52" fill="#169bf2"/><circle cx="2055.5" cy="538.7" r="3.52" fill="#149df1"/><circle cx="2060.4" cy="537.1" r="3.52" fill="#11a0f1"/><circle cx="2062.6" cy="533.3" r="3.52" fill="#10a2f0"/><circle cx="2065.8" cy="533.3" r="3.52" fill="#0ea5ef"/><circle cx="2069.1" cy="532.7" r="3.52" fill="#0ea5ef"/><circle cx="2070.1" cy="536.0" r="3.52" fill="#0ca7ef"/><circle cx="2092.4" cy="562.6" r="3.52" fill="#09a9ee"/><circle cx="2100.0" cy="564.7" r="3.52" fill="#08acee"/><circle cx="2094.0" cy="560.4" r="3.52" fill="#06aeed"/><circle cx="2104.9" cy="556.0" r="3.52" fill="#04b0ed"/><circle cx="2109.7" cy="550.6" r="3.52" fill="#01b3ec"/><circle cx="2096.7" cy="568.0" r="3.52" fill="#00b5eb"/><circle cx="2089.7" cy="558.2" r="3.52" fill="#00b5eb"/><circle cx="2086.4" cy="555.5" r="3.52" fill="#02b7eb"/><circle cx="2155.9" cy="505.6" r="3.52" fill="#04b9ea"/><circle cx="2159.4" cy="504.6" r="3.52" fill="#07bbea"/><circle cx="2157.3" cy="503.5" r="3.52" fill="#08bee9"/><circle cx="2150.2" cy="506.7" r="3.52" fill="#0ac0e8"/><circle cx="2147.0" cy="506.7" r="3.52" fill="#0dc2e8"/><circle cx="2140.5" cy="509.2" r="3.52" fill="#0dc2e8"/><circle cx="2128.0" cy="511.6" r="3.52" fill="#0fc4e7"/><circle cx="2114.0" cy="515.7" r="3.52" fill="#10c6e6"/><circle cx="2103.7" cy="516.9" r="3.52" fill="#12c8e6"/><circle cx="2090.0" cy="524.1" r="3.52" fill="#14cae5"/><circle cx="2081.0" cy="524.6" r="3.52" fill="#14cae5"/><circle cx="2077.2" cy="520.8" r="3.52" fill="#17cbe4"/><circle cx="2075.6" cy="526.8" r="3.52" fill="#18cde4"/><circle cx="2073.4" cy="523.5" r="3.52" fill="#18cde4"/><circle cx="2074.5" cy="534.6" r="3.52" fill="#1acfe3"/><circle cx="2074.5" cy="541.4" r="3.52" fill="#1dd1e2"/><circle cx="2073.4" cy="546.3" r="3.52" fill="#1fd3e1"/><circle cx="2075.0" cy="550.6" r="3.52" fill="#20d5e1"/><circle cx="2078.8" cy="552.8" r="3.52" fill="#22d6e0"/><circle cx="2082.6" cy="551.7" r="3.52" fill="#24d8df"/><circle cx="2085.9" cy="549.5" r="3.52" fill="#27dade"/><circle cx="2092.7" cy="545.7" r="3.52" fill="#27dade"/><circle cx="2097.8" cy="541.7" r="3.52" fill="#28dbde"/><circle cx="2102.4" cy="540.3" r="3.52" fill="#2adddd"/><circle cx="2104.1" cy="544.9" r="3.52" fill="#2ddedc"/><circle cx="2097.8" cy="546.3" r="3.52" fill="#2fe0db"/><circle cx="2082.6" cy="537.9" r="3.52" fill="#30e1da"/><circle cx="2067.7" cy="542.7" r="3.52" fill="#32e3da"/><circle cx="2058.2" cy="547.4" r="3.52" fill="#32e3da"/><circle cx="2057.4" cy="557.9" r="3.52" fill="#34e4d9"/><circle cx="2065.8" cy="565.8" r="3.52" fill="#37e6d8"/><circle cx="2074.8" cy="566.9" r="3.52" fill="#38e7d7"/><circle cx="2087.5" cy="578.8" r="3.52" fill="#3ae8d6"/><circle cx="2097.5" cy="574.5" r="3.52" fill="#3dead5"/><circle cx="2105.1" cy="567.2" r="3.52" fill="#3febd5"/><circle cx="2104.1" cy="557.1" r="3.52" fill="#40ecd4"/><circle cx="2094.0" cy="558.5" r="3.52" fill="#40ecd4"/><circle cx="2111.9" cy="559.6" r="3.52" fill="#42edd3"/><circle cx="2118.4" cy="547.4" r="3.52" fill="#44eed2"/><circle cx="2119.5" cy="539.8" r="3.52" fill="#46efd1"/><circle cx="2122.2" cy="537.1" r="3.52" fill="#48f1d0"/><circle cx="2121.7" cy="531.6" r="3.52" fill="#4af2cf"/><circle cx="2118.6" cy="527.6" r="3.52" fill="#4df3ce"/><circle cx="2111.1" cy="528.2" r="3.52" fill="#4df3ce"/><circle cx="2097.3" cy="532.4" r="3.52" fill="#4ef3cd"/><circle cx="2104.3" cy="528.4" r="3.52" fill="#50f4cc"/><circle cx="2110.3" cy="528.9" r="3.52" fill="#52f5cb"/><circle cx="2097.3" cy="529.5" r="3.52" fill="#52f5cb"/><circle cx="2130.9" cy="521.9" r="3.52" fill="#54f6cb"/><circle cx="2110.0" cy="526.8" r="3.52" fill="#54f6cb"/><circle cx="2095.1" cy="525.7" r="3.52" fill="#56f7ca"/><circle cx="2138.4" cy="521.5" r="3.52" fill="#56f7ca"/><circle cx="2084.3" cy="527.8" r="3.52" fill="#58f8c9"/><circle cx="2155.9" cy="505.6" r="3.52" fill="#58f8c9"/><circle cx="2165.7" cy="494.5" r="3.52" fill="#58f8c9"/><circle cx="2158.4" cy="488.0" r="3.52" fill="#5af8c8"/><circle cx="2166.2" cy="487.2" r="3.52" fill="#5df9c7"/><circle cx="2169.5" cy="489.1" r="3.52" fill="#5efac6"/><circle cx="2165.7" cy="494.5" r="3.52" fill="#60fac5"/><circle cx="2160.5" cy="490.5" r="3.52" fill="#62fbc4"/><circle cx="2163.2" cy="488.8" r="3.52" fill="#64fbc3"/><circle cx="2167.6" cy="487.7" r="3.52" fill="#66fcc2"/><circle cx="2145.1" cy="489.1" r="3.52" fill="#66fcc2"/><circle cx="2155.1" cy="488.8" r="3.52" fill="#68fcc1"/><circle cx="2128.0" cy="494.3" r="3.52" fill="#6afdc0"/><circle cx="2135.6" cy="498.6" r="3.52" fill="#6dfdbf"/><circle cx="2136.4" cy="503.5" r="3.52" fill="#6efebe"/><circle cx="2130.4" cy="507.5" r="3.52" fill="#70febc"/><circle cx="2124.2" cy="499.7" r="3.52" fill="#72febb"/><circle cx="2120.4" cy="505.6" r="3.52" fill="#72febb"/><circle cx="2138.8" cy="497.5" r="3.52" fill="#74feba"/><circle cx="2132.3" cy="497.0" r="3.52" fill="#76ffb9"/><circle cx="2145.1" cy="489.1" r="3.52" fill="#78ffb8"/><circle cx="2115.2" cy="489.1" r="3.52" fill="#7affb7"/><circle cx="2098.2" cy="489.1" r="3.52" fill="#7dffb6"/><circle cx="2080.2" cy="489.1" r="3.52" fill="#7effb5"/><circle cx="2064.2" cy="490.5" r="3.52" fill="#80ffb4"/><circle cx="2056.6" cy="489.4" r="3.52" fill="#80ffb4"/><circle cx="2053.9" cy="485.6" r="3.52" fill="#82ffb3"/><circle cx="2057.1" cy="481.2" r="3.52" fill="#84ffb2"/><circle cx="2060.4" cy="480.1" r="3.52" fill="#86ffb0"/><circle cx="2064.2" cy="478.0" r="3.52" fill="#88ffaf"/><circle cx="2066.9" cy="479.6" r="3.52" fill="#8bfeae"/><circle cx="2064.7" cy="482.9" r="3.52" fill="#8cfead"/><circle cx="2062.0" cy="485.0" r="3.52" fill="#8cfead"/><circle cx="2055.0" cy="497.0" r="3.52" fill="#8efeac"/><circle cx="2049.8" cy="504.6" r="3.52" fill="#90feab"/><circle cx="2046.3" cy="512.2" r="3.52" fill="#92fda9"/><circle cx="2046.3" cy="517.6" r="3.52" fill="#94fda8"/><circle cx="2041.7" cy="520.8" r="3.52" fill="#96fca7"/><circle cx="2050.9" cy="521.1" r="3.52" fill="#99fca6"/><circle cx="2055.0" cy="527.3" r="3.52" fill="#99fca6"/><circle cx="2057.1" cy="539.0" r="3.52" fill="#9bfba5"/><circle cx="2059.3" cy="551.4" r="3.52" fill="#9cfba4"/><circle cx="2062.3" cy="562.8" r="3.52" fill="#9efaa2"/><circle cx="2066.9" cy="569.3" r="3.52" fill="#a0faa1"/><circle cx="2072.9" cy="571.5" r="3.52" fill="#a4f89f"/><circle cx="2077.2" cy="571.2" r="3.52" fill="#a6f89d"/><circle cx="2080.7" cy="567.4" r="3.52" fill="#a8f79c"/><circle cx="2083.4" cy="563.1" r="3.52" fill="#abf69b"/><circle cx="2084.3" cy="556.6" r="3.52" fill="#acf59a"/><circle cx="2086.4" cy="551.7" r="3.52" fill="#aef498"/><circle cx="2090.8" cy="549.3" r="3.52" fill="#b0f397"/><circle cx="2097.0" cy="550.1" r="3.52" fill="#b2f396"/><circle cx="2104.3" cy="552.0" r="3.52" fill="#b4f295"/><circle cx="2110.8" cy="553.9" r="3.52" fill="#b6f193"/><circle cx="2115.2" cy="556.6" r="3.52" fill="#b9ef92"/><circle cx="2119.0" cy="559.6" r="3.52" fill="#bbee91"/><circle cx="2122.5" cy="564.2" r="3.52" fill="#bced8f"/><circle cx="2129.3" cy="569.3" r="3.52" fill="#beec8e"/><circle cx="2137.1" cy="571.8" r="3.52" fill="#c0eb8d"/><circle cx="2144.5" cy="569.1" r="3.52" fill="#c2ea8c"/><circle cx="2152.2" cy="561.8" r="3.52" fill="#c4e88a"/><circle cx="2157.7" cy="549.3" r="3.52" fill="#c4e88a"/><circle cx="2159.3" cy="532.6" r="3.52" fill="#c6e789"/><circle cx="2156.1" cy="517.6" r="3.52" fill="#c8e688"/><circle cx="2150.2" cy="505.1" r="3.52" fill="#cbe486"/><circle cx="2143.4" cy="496.7" r="3.52" fill="#cce385"/><circle cx="2132.3" cy="493.4" r="3.52" fill="#cce385"/><circle cx="2128.0" cy="499.9" r="3.52" fill="#cee184"/><circle cx="2120.9" cy="503.2" r="3.52" fill="#d0e082"/><circle cx="2124.2" cy="508.9" r="3.52" fill="#d2de81"/><circle cx="2121.5" cy="512.7" r="3.52" fill="#d4dd80"/><circle cx="2121.5" cy="517.0" r="3.52" fill="#d6db7e"/><circle cx="2121.5" cy="520.3" r="3.52" fill="#d9da7d"/><circle cx="2121.7" cy="491.5" r="3.52" fill="#d9da7d"/><circle cx="2122.4" cy="480.3" r="3.52" fill="#dbd87b"/><circle cx="2125.6" cy="471.5" r="3.52" fill="#dcd67a"/><circle cx="2131.6" cy="466.0" r="3.52" fill="#ded579"/><circle cx="2139.3" cy="465.4" r="3.52" fill="#e0d377"/><circle cx="2146.4" cy="471.5" r="3.52" fill="#e2d176"/><circle cx="2150.7" cy="480.6" r="3.52" fill="#e4cf74"/><circle cx="2152.7" cy="488.8" r="3.52" fill="#e6cd73"/><circle cx="2151.3" cy="494.8" r="3.52" fill="#e6cd73"/><circle cx="2146.4" cy="495.3" r="3.52" fill="#e8cb72"/><circle cx="2138.8" cy="491.3" r="3.52" fill="#ebca70"/><circle cx="2128.1" cy="482.0" r="3.52" fill="#ecc86f"/><circle cx="2152.4" cy="489.1" r="3.52" fill="#eec66d"/><circle cx="2144.3" cy="483.4" r="3.52" fill="#f0c46c"/><circle cx="2134.5" cy="478.0" r="3.52" fill="#f2c26b"/><circle cx="2123.6" cy="474.7" r="3.52" fill="#f2c26b"/><circle cx="2115.1" cy="470.5" r="3.52" fill="#f4c069"/><circle cx="2103.2" cy="460.3" r="3.52" fill="#f6be68"/><circle cx="2091.5" cy="452.0" r="3.52" fill="#f9bb66"/><circle cx="2083.2" cy="447.3" r="3.52" fill="#fbb965"/><circle cx="2079.1" cy="449.2" r="3.52" fill="#fcb763"/><circle cx="2077.6" cy="453.6" r="3.52" fill="#feb562"/><circle cx="2076.5" cy="464.1" r="3.52" fill="#ffb360"/><circle cx="2076.4" cy="478.5" r="3.52" fill="#ffb360"/><circle cx="2076.2" cy="493.7" r="3.52" fill="#ffb05f"/><circle cx="2076.2" cy="505.1" r="3.52" fill="#ffae5e"/><circle cx="2075.6" cy="510.5" r="3.52" fill="#ffac5c"/><circle cx="2072.3" cy="511.1" r="3.52" fill="#ffa95b"/><circle cx="2065.8" cy="508.6" r="3.52" fill="#ffa759"/><circle cx="2057.9" cy="504.8" r="3.52" fill="#ffa558"/><circle cx="2048.4" cy="501.3" r="3.52" fill="#ffa558"/><circle cx="2041.1" cy="501.0" r="3.52" fill="#ffa256"/><circle cx="2037.3" cy="504.6" r="3.52" fill="#ffa055"/><circle cx="2037.3" cy="512.7" r="3.52" fill="#ff9d53"/><circle cx="2041.9" cy="523.3" r="3.52" fill="#ff9b52"/><circle cx="2049.5" cy="533.0" r="3.52" fill="#ff9850"/><circle cx="2060.5" cy="543.1" r="3.52" fill="#ff964f"/><circle cx="2072.2" cy="552.2" r="3.52" fill="#ff964f"/><circle cx="2082.9" cy="561.2" r="3.52" fill="#ff934d"/><circle cx="2089.4" cy="568.6" r="3.52" fill="#ff914c"/><circle cx="2091.8" cy="574.6" r="3.52" fill="#ff8e4a"/><circle cx="2091.6" cy="579.1" r="3.52" fill="#ff8c49"/><circle cx="2091.3" cy="583.7" r="3.52" fill="#ff8947"/><circle cx="2087.5" cy="583.4" r="3.52" fill="#ff8646"/><circle cx="2099.4" cy="586.7" r="3.52" fill="#ff8444"/><circle cx="2111.1" cy="592.4" r="3.52" fill="#ff8444"/><circle cx="2124.9" cy="598.5" r="3.52" fill="#ff8143"/><circle cx="2142.6" cy="604.8" r="3.52" fill="#ff7e41"/><circle cx="2160.5" cy="609.5" r="3.52" fill="#ff7b40"/><circle cx="2176.2" cy="614.4" r="3.52" fill="#ff793e"/><circle cx="2189.6" cy="618.3" r="3.52" fill="#ff763d"/><circle cx="2197.4" cy="618.6" r="3.52" fill="#ff733b"/><circle cx="2199.8" cy="616.4" r="3.52" fill="#ff733b"/><circle cx="2199.6" cy="610.5" r="3.52" fill="#ff703a"/><circle cx="2196.6" cy="601.7" r="3.52" fill="#ff6d38"/><circle cx="2192.5" cy="592.4" r="3.52" fill="#ff6b37"/><circle cx="2188.0" cy="584.4" r="3.52" fill="#ff6835"/><circle cx="2187.1" cy="577.9" r="3.52" fill="#ff6533"/><circle cx="2191.2" cy="574.6" r="3.52" fill="#ff6232"/><circle cx="2200.5" cy="575.2" r="3.52" fill="#ff5f30"/><circle cx="2213.7" cy="577.9" r="3.52" fill="#ff5f30"/><circle cx="2225.8" cy="581.8" r="3.52" fill="#ff5c2f"/><circle cx="2237.3" cy="583.9" r="3.52" fill="#ff592d"/><circle cx="2240.0" cy="582.2" r="3.52" fill="#ff562c"/><circle cx="2243.2" cy="582.0" r="3.52" fill="#ff532a"/><circle cx="2247.8" cy="583.9" r="3.52" fill="#ff5029"/><circle cx="2254.4" cy="586.0" r="3.52" fill="#ff4d27"/><circle cx="2259.0" cy="590.4" r="3.52" fill="#ff4d27"/><circle cx="2254.6" cy="594.7" r="3.52" fill="#ff4a26"/><circle cx="2248.7" cy="595.3" r="3.52" fill="#ff4724"/><circle cx="2242.7" cy="593.6" r="3.52" fill="#ff4422"/><circle cx="2237.8" cy="590.9" r="3.52" fill="#ff4121"/><circle cx="2237.0" cy="594.7" r="3.52" fill="#ff3e1f"/><circle cx="2240.0" cy="599.1" r="3.52" fill="#ff3b1e"/><circle cx="2244.9" cy="603.7" r="3.52" fill="#ff3b1e"/><circle cx="2252.5" cy="609.6" r="3.52" fill="#ff381c"/><circle cx="2257.1" cy="615.1" r="3.52" fill="#ff351b"/><circle cx="2262.2" cy="619.4" r="3.52" fill="#ff3219"/><circle cx="2267.7" cy="622.4" r="3.52" fill="#ff2f18"/><circle cx="2272.0" cy="623.5" r="3.52" fill="#ff2c16"/><circle cx="2275.2" cy="621.3" r="3.52" fill="#ff2914"/><circle cx="2276.8" cy="614.3" r="3.52" fill="#ff2613"/><circle cx="2274.4" cy="605.3" r="3.52" fill="#ff2613"/><circle cx="2269.3" cy="597.4" r="3.52" fill="#ff2211"/><circle cx="2263.3" cy="592.0" r="3.52" fill="#ff1f10"/><circle cx="2258.4" cy="591.2" r="3.52" fill="#ff1c0e"/><circle cx="2253.5" cy="592.6" r="3.52" fill="#ff190d"/><circle cx="2249.7" cy="596.1" r="3.52" fill="#ff160b"/><circle cx="2248.9" cy="602.9" r="3.52" fill="#ff1309"/><circle cx="2248.1" cy="599.3" r="3.52" fill="#ff1309"/><circle cx="2250.3" cy="594.7" r="3.52" fill="#ff1008"/><circle cx="2254.6" cy="591.7" r="3.52" fill="#ff0d06"/><circle cx="2260.1" cy="592.6" r="3.52" fill="#ff0905"/><circle cx="2264.4" cy="596.9" r="3.52" fill="#ff0603"/><circle cx="2266.8" cy="602.3" r="3.52" fill="#ff0302"/><circle cx="2267.7" cy="608.3" r="3.52" fill="#ff0000"/><circle cx="2266.6" cy="614.3" r="3.52" fill="#ff0000"/></g></g>
<g id="matplotlib.axis_5">
<g id="xtick_8">
<g id="line2d_31">
<path d="M 755.5500 420.1658 L 755.5500 19.5840" clip-path="url(#p91a6668fea)" style="fill: none; stroke-dasharray: 0.8,1.32; stroke-dashoffset: 0; stroke: #000000; stroke-width: 0.8"/>
</g>
<g id="line2d_32">
<g>
<use href="#m1504cfccaf" x="755.5500" y="420.3000" style="stroke: #000000; stroke-width: 0.8"/>
</g>
</g>
<g id="text_20">
<text class="t" x="755.55" y="446.16" text-anchor="middle">−1.00</text>
</g>
</g>
<g id="xtick_9">
<g id="line2d_33">
<path d="M 808.6500 420.1658 L 808.6500 19.5840" clip-path="url(#p91a6668fea)" style="fill: none; stroke-dasharray: 0.8,1.32; stroke-dashoffset: 0; stroke: #000000; stroke-width: 0.8"/>
</g>
<g id="line2d_34">
<g>
<use href="#m1504cfccaf" x="808.6500" y="420.3000" style="stroke: #000000; stroke-width: 0.8"/>
</g>
</g>
<g id="text_21">
<text class="t" x="808.65" y="446.16" text-anchor="middle">−0.75</text>
</g>
</g>
<g id="xtick_10">
<g id="line2d_35">
<path d="M 861.7500 420.1658 L 861.7500 19.5840" clip-path="url(#p91a6668fea)" style="fill: none; stroke-dasharray: 0.8,1.32; stroke-dashoffset: 0; stroke: #000000; stroke-width: 0.8"/>
</g>
<g id="line2d_36">
<g>
<use href="#m1504cfccaf" x="861.7500" y="420.3000" style="stroke: #000000; stroke-width: 0.8"/>
</g>
</g>
<g id="text_22">
<text class="t" x="861.75" y="446.16" text-anchor="middle">−0.50</text>
</g>
</g>
<g id="xtick_11">
<g id="line2d_37">
<path d="M 914.4000 420.1658 L 914.4000 19.5840" clip-path="url(#p91a6668fea)" style="fill: none; stroke-dasharray: 0.8,1.32; stroke-dashoffset: 0; stroke: #000000; stroke-width: 0.8"/>
</g>
<g id="line2d_38">
<g>
<use href="#m1504cfccaf" x="914.4000" y="420.3000" style="stroke: #000000; stroke-width: 0.8"/>
</g>
</g>
<g id="text_23">
<text class="t" x="914.4" y="446.16" text-anchor="middle">−0.25</text>
</g>
</g>
<g id="xtick_12">
<g id="line2d_39">
<path d="M 967.5000 420.1658 L 967.5000 19.5840" clip-path="url(#p91a6668fea)" style="fill: none; stroke-dasharray: 0.8,1.32; stroke-dashoffset: 0; stroke: #000000; stroke-width: 0.8"/>
</g>
<g id="line2d_40">
<g>
<use href="#m1504cfccaf" x="967.5000" y="420.3000" style="stroke: #000000; stroke-width: 0.8"/>
</g>
</g>
<g id="text_24">
<text class="t" x="967.5" y="446.16" text-anchor="middle">0.00</text>
</g>
</g>
<g id="xtick_13">
<g id="line2d_41">
<path d="M 1020.6000 420.1658 L 1020.6000 19.5840" clip-path="url(#p91a6668fea)" style="fill: none; stroke-dasharray: 0.8,1.32; stroke-dashoffset: 0; stroke: #000000; stroke-width: 0.8"/>
</g>
<g id="line2d_42">
<g>
<use href="#m1504cfccaf" x="1020.6000" y="420.3000" style="stroke: #000000; stroke-width: 0.8"/>
</g>
</g>
<g id="text_25">
<text class="t" x="1020.6" y="446.16" text-anchor="middle">0.25</text>
</g>
</g>
<g id="xtick_14">
<g id="line2d_43">
<path d="M 1073.2500 420.1658 L 1073.2500 19.5840" clip-path="url(#p91a6668fea)" style="fill: none; stroke-dasharray: 0.8,1.32; stroke-dashoffset: 0; stroke: #000000; stroke-width: 0.8"/>
</g>
<g id="line2d_44">
<g>
<use href="#m1504cfccaf" x="1073.2500" y="420.3000" style="stroke: #000000; stroke-width: 0.8"/>
</g>
</g>
<g id="text_26">
<text class="t" x="1073.25" y="446.16" text-anchor="middle">0.50</text>
</g>
</g>
<g id="xtick_15">
<g id="line2d_45">
<path d="M 1126.3500 420.1658 L 1126.3500 19.5840" clip-path="url(#p91a6668fea)" style="fill: none; stroke-dasharray: 0.8,1.32; stroke-dashoffset: 0; stroke: #000000; stroke-width: 0.8"/>
</g>
<g id="line2d_46">
<g>
<use href="#m1504cfccaf" x="1126.3500" y="420.3000" style="stroke: #000000; stroke-width: 0.8"/>
</g>
</g>
<g id="text_27">
<text class="t" x="1126.35" y="446.16" text-anchor="middle">0.75</text>
</g>
</g>
<g id="xtick_16">
<g id="line2d_47">
<path d="M 1179.4500 420.1658 L 1179.4500 19.5840" clip-path="url(#p91a6668fea)" style="fill: none; stroke-dasharray: 0.8,1.32; stroke-dashoffset: 0; stroke: #000000; stroke-width: 0.8"/>
</g>
<g id="line2d_48">
<g>
<use href="#m1504cfccaf" x="1179.4500" y="420.3000" style="stroke: #000000; stroke-width: 0.8"/>
</g>
</g>
<g id="text_28">
<text class="t" x="1179.45" y="446.16" text-anchor="middle">1.00</text>
</g>
</g>
<g id="text_29">
<text class="t" x="967.5" y="475.23" text-anchor="middle"><tspan class="i">v</tspan><tspan class="i" font-size="17.5" dy="4.1">x</tspan><tspan dy="-4.1"> [</tspan><tspan class="i">c</tspan>]</text>
</g>
</g>
<g id="matplotlib.axis_6">
<g id="ytick_10">
<g id="line2d_49">
<path d="M 755.6243 420.3000 L 1179.3882 420.3000" clip-path="url(#p91a6668fea)" style="fill: none; stroke-dasharray: 0.8,1.32; stroke-dashoffset: 0; stroke: #000000; stroke-width: 0.8"/>
</g>
<g id="line2d_50">
<g>
<use href="#m5d545ce8f8" x="755.5500" y="420.3000" style="stroke: #000000; stroke-width: 0.8"/>
</g>
</g>
<g id="text_30">
<text class="t" x="748.6" y="429.66" text-anchor="end">−1.00</text>
</g>
</g>
<g id="ytick_11">
<g id="line2d_51">
<path d="M 755.6243 369.9000 L 1179.3882 369.9000" clip-path="url(#p91a6668fea)" style="fill: none; stroke-dasharray: 0.8,1.32; stroke-dashoffset: 0; stroke: #000000; stroke-width: 0.8"/>
</g>
<g id="line2d_52">
<g>
<use href="#m5d545ce8f8" x="755.5500" y="369.9000" style="stroke: #000000; stroke-width: 0.8"/>
</g>
</g>
<g id="text_31">
<text class="t" x="748.6" y="379.59" text-anchor="end">−0.75</text>
</g>
</g>
<g id="ytick_12">
<g id="line2d_53">
<path d="M 755.6243 319.9500 L 1179.3882 319.9500" clip-path="url(#p91a6668fea)" style="fill: none; stroke-dasharray: 0.8,1.32; stroke-dashoffset: 0; stroke: #000000; stroke-width: 0.8"/>
</g>
<g id="line2d_54">
<g>
<use href="#m5d545ce8f8" x="755.5500" y="319.9500" style="stroke: #000000; stroke-width: 0.8"/>
</g>
</g>
<g id="text_32">
<text class="t" x="748.6" y="329.52" text-anchor="end">−0.50</text>
</g>
</g>
<g id="ytick_13">
<g id="line2d_55">
<path d="M 755.6243 270.0000 L 1179.3882 270.0000" clip-path="url(#p91a6668fea)" style="fill: none; stroke-dasharray: 0.8,1.32; stroke-dashoffset: 0; stroke: #000000; stroke-width: 0.8"/>
</g>
<g id="line2d_56">
<g>
<use href="#m5d545ce8f8" x="755.5500" y="270.0000" style="stroke: #000000; stroke-width: 0.8"/>
</g>
</g>
<g id="text_33">
<text class="t" x="748.6" y="279.45" text-anchor="end">−0.25</text>
</g>
</g>
<g id="ytick_14">
<g id="line2d_57">
<path d="M 755.6243 220.0500 L 1179.3882 220.0500" clip-path="url(#p91a6668fea)" style="fill: none; stroke-dasharray: 0.8,1.32; stroke-dashoffset: 0; stroke: #000000; stroke-width: 0.8"/>
</g>
<g id="line2d_58">
<g>
<use href="#m5d545ce8f8" x="755.5500" y="220.0500" style="stroke: #000000; stroke-width: 0.8"/>
</g>
</g>
<g id="text_34">
<text class="t" x="748.6" y="229.37" text-anchor="end">0.00</text>
</g>
</g>
<g id="ytick_15">
<g id="line2d_59">
<path d="M 755.6243 169.6500 L 1179.3882 169.6500" clip-path="url(#p91a6668fea)" style="fill: none; stroke-dasharray: 0.8,1.32; stroke-dashoffset: 0; stroke: #000000; stroke-width: 0.8"/>
</g>
<g id="line2d_60">
<g>
<use href="#m5d545ce8f8" x="755.5500" y="169.6500" style="stroke: #000000; stroke-width: 0.8"/>
</g>
</g>
<g id="text_35">
<text class="t" x="748.6" y="179.3" text-anchor="end">0.25</text>
</g>
</g>
<g id="ytick_16">
<g id="line2d_61">
<path d="M 755.6243 119.7000 L 1179.3882 119.7000" clip-path="url(#p91a6668fea)" style="fill: none; stroke-dasharray: 0.8,1.32; stroke-dashoffset: 0; stroke: #000000; stroke-width: 0.8"/>
</g>
<g id="line2d_62">
<g>
<use href="#m5d545ce8f8" x="755.5500" y="119.7000" style="stroke: #000000; stroke-width: 0.8"/>
</g>
</g>
<g id="text_36">
<text class="t" x="748.6" y="129.23" text-anchor="end">0.50</text>
</g>
</g>
<g id="ytick_17">
<g id="line2d_63">
<path d="M 755.6243 69.7500 L 1179.3882 69.7500" clip-path="url(#p91a6668fea)" style="fill: none; stroke-dasharray: 0.8,1.32; stroke-dashoffset: 0; stroke: #000000; stroke-width: 0.8"/>
</g>
<g id="line2d_64">
<g>
<use href="#m5d545ce8f8" x="755.5500" y="69.7500" style="stroke: #000000; stroke-width: 0.8"/>
</g>
</g>
<g id="text_37">
<text class="t" x="748.6" y="79.15" text-anchor="end">0.75</text>
</g>
</g>
<g id="ytick_18">
<g id="line2d_65">
<path d="M 755.6243 19.8000 L 1179.3882 19.8000" clip-path="url(#p91a6668fea)" style="fill: none; stroke-dasharray: 0.8,1.32; stroke-dashoffset: 0; stroke: #000000; stroke-width: 0.8"/>
</g>
<g id="line2d_66">
<g>
<use href="#m5d545ce8f8" x="755.5500" y="19.8000" style="stroke: #000000; stroke-width: 0.8"/>
</g>
</g>
<g id="text_38">
<text class="t" x="748.6" y="29.08" text-anchor="end">1.00</text>
</g>
</g>
<g id="text_39">
<text class="t" transform="translate(659.1 219.87) rotate(-90)" text-anchor="middle"><tspan class="i">v</tspan><tspan class="i" font-size="17.5" dy="4.1">y</tspan><tspan dy="-4.1"> [</tspan><tspan class="i">c</tspan>]</text>
</g>
</g>
<g id="patch_10">
<path d="M 755.5500 420.1658 L 755.5500 19.5840" style="fill: none; stroke: #000000; stroke-width: 0.8; stroke-linejoin: miter; stroke-linecap: square"/>
</g>
<g id="patch_11">
<path d="M 1179.4500 420.1658 L 1179.4500 19.5840" style="fill: none; stroke: #000000; stroke-width: 0.8; stroke-linejoin: miter; stroke-linecap: square"/>
</g>
<g id="patch_12">
<path d="M 755.6243 420.3000 L 1179.3882 420.3000" style="fill: none; stroke: #000000; stroke-width: 0.8; stroke-linejoin: miter; stroke-linecap: square"/>
</g>
<g id="patch_13">
<path d="M 755.6243 19.8000 L 1179.3882 19.8000" style="fill: none; stroke: #000000; stroke-width: 0.8; stroke-linejoin: miter; stroke-linecap: square"/>
</g>
</g>
<g id="axes_4">
<g id="patch_14">
<path d="M 1181.895652 420.165818 L 1201.924743 420.165818 L 1201.924743 19.584 L 1181.895652 19.584 z
" style="fill: #ffffff"/>
</g>
<rect x="1181.896" y="19.584" width="20.029" height="400.582" fill="url(#rb)"/>
<g id="matplotlib.axis_7"/>
<g id="matplotlib.axis_8">
<g id="ytick_19">
<g id="line2d_67">
<g>
<use href="#m33c4ce201d" x="1201.9500" y="221.8500" style="stroke: #000000; stroke-width: 0.8"/>
</g>
</g>
<g id="text_40">
<text class="s" x="1208.92" y="228.74">149.5</text>
</g>
</g>
<g id="ytick_20">
<g id="line2d_68">
<g>
<use href="#m33c4ce201d" x="1201.9500" y="19.8000" style="stroke: #000000; stroke-width: 0.8"/>
</g>
</g>
<g id="text_41">
<text class="s" x="1208.92" y="26.42">299.0</text>
</g>
</g>
<g id="text_42">
<text class="t" transform="translate(1283.45 219.87) rotate(-90)" text-anchor="middle"><tspan class="i">t</tspan> [<tspan class="i">T</tspan><tspan font-size="17.5" dy="4.1">0</tspan><tspan dy="-4.1">]</tspan></text>
</g>
</g>
<g id="LineCollection_2"/>
<g id="patch_15">
<path d="M 1181.7000 420.3000 L 1192.0500 420.3000 L 1201.9500 420.3000 L 1201.9500 19.8000 L 1192.0500 19.8000 L 1181.7000 19.8000 L 1181.7000 420.3000 z" style="fill: none; stroke: #000000; stroke-width: 0.8; stroke-linejoin: miter; stroke-linecap: square"/>
</g>
</g>
<g id="axes_5">
<g id="patch_16">
<path d="M 103.68 900.864 L 527.443826 900.864 L 527.443826 500.282182 L 103.68 500.282182 z
" style="fill: #ffffff"/>
</g>
<g transform="scale(0.45)"><g clip-path="url(#cp3)"><circle cx="543.7" cy="1621.8" r="3.52" fill="#8000ff"/><circle cx="542.5" cy="1663.0" r="3.52" fill="#8000ff"/><circle cx="540.7" cy="1703.5" r="3.52" fill="#7e03ff"/><circle cx="538.3" cy="1734.4" r="3.52" fill="#7c06ff"/><circle cx="535.7" cy="1753.5" r="3.52" fill="#7a09ff"/><circle cx="532.9" cy="1763.4" r="3.52" fill="#780dff"/><circle cx="529.9" cy="1764.0" r="3.52" fill="#7610ff"/><circle cx="527.1" cy="1758.8" r="3.52" fill="#7413ff"/><circle cx="524.3" cy="1746.7" r="3.52" fill="#7413ff"/><circle cx="521.7" cy="1726.7" r="3.52" fill="#7216ff"/><circle cx="519.5" cy="1701.0" r="3.52" fill="#7019ff"/><circle cx="517.8" cy="1666.0" r="3.52" fill="#6e1cff"/><circle cx="516.4" cy="1627.7" r="3.52" fill="#6c1fff"/><circle cx="514.7" cy="1621.3" r="3.52" fill="#6a22fe"/><circle cx="515.5" cy="1592.8" r="3.52" fill="#6826fe"/><circle cx="515.5" cy="1566.2" r="3.52" fill="#6826fe"/><circle cx="515.5" cy="1562.3" r="3.52" fill="#6629fe"/><circle cx="515.5" cy="1549.4" r="3.52" fill="#642cfe"/><circle cx="515.0" cy="1580.5" r="3.52" fill="#622ffe"/><circle cx="513.4" cy="1649.7" r="3.52" fill="#6032fe"/><circle cx="511.8" cy="1672.8" r="3.52" fill="#5e35fe"/><circle cx="510.0" cy="1685.3" r="3.52" fill="#5c38fd"/><circle cx="508.3" cy="1689.1" r="3.52" fill="#5a3bfd"/><circle cx="506.4" cy="1681.0" r="3.52" fill="#5a3bfd"/><circle cx="504.9" cy="1662.3" r="3.52" fill="#583efd"/><circle cx="503.5" cy="1634.1" r="3.52" fill="#5641fd"/><circle cx="502.6" cy="1614.0" r="3.52" fill="#5444fd"/><circle cx="503.0" cy="1601.4" r="3.52" fill="#5247fc"/><circle cx="503.3" cy="1593.5" r="3.52" fill="#504afc"/><circle cx="503.5" cy="1570.5" r="3.52" fill="#4e4dfc"/><circle cx="503.7" cy="1546.1" r="3.52" fill="#4e4dfc"/><circle cx="503.5" cy="1529.8" r="3.52" fill="#4c50fc"/><circle cx="503.0" cy="1523.6" r="3.52" fill="#4a53fb"/><circle cx="503.3" cy="1537.4" r="3.52" fill="#4856fb"/><circle cx="503.0" cy="1559.5" r="3.52" fill="#4659fb"/><circle cx="503.5" cy="1593.4" r="3.52" fill="#445cfb"/><circle cx="503.0" cy="1601.4" r="3.52" fill="#425ffa"/><circle cx="502.4" cy="1614.1" r="3.52" fill="#4062fa"/><circle cx="501.3" cy="1630.4" r="3.52" fill="#4062fa"/><circle cx="500.5" cy="1626.4" r="3.52" fill="#3e65fa"/><circle cx="499.0" cy="1616.7" r="3.52" fill="#3c68f9"/><circle cx="498.7" cy="1607.3" r="3.52" fill="#396bf9"/><circle cx="498.7" cy="1581.3" r="3.52" fill="#386df9"/><circle cx="498.7" cy="1564.3" r="3.52" fill="#3670f8"/><circle cx="498.6" cy="1552.4" r="3.52" fill="#3473f8"/><circle cx="498.6" cy="1547.9" r="3.52" fill="#3473f8"/><circle cx="498.5" cy="1550.6" r="3.52" fill="#3176f8"/><circle cx="498.5" cy="1557.6" r="3.52" fill="#3079f7"/><circle cx="498.4" cy="1567.2" r="3.52" fill="#2e7bf7"/><circle cx="498.3" cy="1577.6" r="3.52" fill="#2c7ef7"/><circle cx="498.2" cy="1587.2" r="3.52" fill="#2981f6"/><circle cx="498.1" cy="1594.2" r="3.52" fill="#2884f6"/><circle cx="498.0" cy="1596.9" r="3.52" fill="#2884f6"/><circle cx="497.9" cy="1593.2" r="3.52" fill="#2686f5"/><circle cx="497.8" cy="1583.7" r="3.52" fill="#2489f5"/><circle cx="497.7" cy="1570.6" r="3.52" fill="#218cf4"/><circle cx="497.6" cy="1556.4" r="3.52" fill="#208ef4"/><circle cx="497.5" cy="1543.4" r="3.52" fill="#1e91f3"/><circle cx="497.5" cy="1533.8" r="3.52" fill="#1c93f3"/><circle cx="497.4" cy="1530.1" r="3.52" fill="#1996f3"/><circle cx="497.3" cy="1532.8" r="3.52" fill="#1996f3"/><circle cx="497.3" cy="1539.9" r="3.52" fill="#1898f2"/><circle cx="497.2" cy="1549.8" r="3.52" fill="#169bf2"/><circle cx="497.2" cy="1561.3" r="3.52" fill="#149df1"/><circle cx="497.1" cy="1572.7" r="3.52" fill="#11a0f1"/><circle cx="497.1" cy="1582.7" r="3.52" fill="#10a2f0"/><circle cx="497.1" cy="1589.8" r="3.52" fill="#0ea5ef"/><circle cx="497.0" cy="1592.4" r="3.52" fill="#0ea5ef"/><circle cx="497.0" cy="1588.5" r="3.52" fill="#0ca7ef"/><circle cx="496.9" cy="1578.3" r="3.52" fill="#09a9ee"/><circle cx="496.9" cy="1564.4" r="3.52" fill="#08acee"/><circle cx="496.8" cy="1549.3" r="3.52" fill="#06aeed"/><circle cx="496.7" cy="1535.3" r="3.52" fill="#04b0ed"/><circle cx="496.7" cy="1525.2" r="3.52" fill="#01b3ec"/><circle cx="496.6" cy="1521.2" r="3.52" fill="#00b5eb"/><circle cx="496.5" cy="1525.7" r="3.52" fill="#00b5eb"/><circle cx="496.4" cy="1537.1" r="3.52" fill="#02b7eb"/><circle cx="496.3" cy="1552.8" r="3.52" fill="#04b9ea"/><circle cx="496.2" cy="1569.8" r="3.52" fill="#07bbea"/><circle cx="496.1" cy="1585.5" r="3.52" fill="#08bee9"/><circle cx="495.9" cy="1596.9" r="3.52" fill="#0ac0e8"/><circle cx="495.8" cy="1601.3" r="3.52" fill="#0dc2e8"/><circle cx="495.6" cy="1596.7" r="3.52" fill="#0dc2e8"/><circle cx="495.5" cy="1584.6" r="3.52" fill="#0fc4e7"/><circle cx="495.3" cy="1568.1" r="3.52" fill="#10c6e6"/><circle cx="495.2" cy="1550.1" r="3.52" fill="#12c8e6"/><circle cx="495.0" cy="1533.5" r="3.52" fill="#14cae5"/><circle cx="494.8" cy="1521.5" r="3.52" fill="#17cbe4"/><circle cx="494.7" cy="1516.8" r="3.52" fill="#18cde4"/><circle cx="494.5" cy="1521.2" r="3.52" fill="#18cde4"/><circle cx="494.4" cy="1532.7" r="3.52" fill="#1acfe3"/><circle cx="494.2" cy="1548.3" r="3.52" fill="#1dd1e2"/><circle cx="494.1" cy="1565.4" r="3.52" fill="#1fd3e1"/><circle cx="493.9" cy="1581.0" r="3.52" fill="#20d5e1"/><circle cx="493.8" cy="1592.5" r="3.52" fill="#22d6e0"/><circle cx="493.6" cy="1596.9" r="3.52" fill="#24d8df"/><circle cx="493.5" cy="1593.8" r="3.52" fill="#27dade"/><circle cx="493.3" cy="1585.8" r="3.52" fill="#27dade"/><circle cx="493.2" cy="1574.4" r="3.52" fill="#28dbde"/><circle cx="493.0" cy="1561.3" r="3.52" fill="#2adddd"/><circle cx="492.9" cy="1548.2" r="3.52" fill="#2ddedc"/><circle cx="492.7" cy="1536.8" r="3.52" fill="#2fe0db"/><circle cx="492.5" cy="1528.7" r="3.52" fill="#30e1da"/><circle cx="492.4" cy="1525.7" r="3.52" fill="#32e3da"/><circle cx="492.2" cy="1529.9" r="3.52" fill="#32e3da"/><circle cx="492.1" cy="1540.7" r="3.52" fill="#34e4d9"/><circle cx="492.0" cy="1555.5" r="3.52" fill="#37e6d8"/><circle cx="491.8" cy="1571.6" r="3.52" fill="#38e7d7"/><circle cx="491.7" cy="1586.3" r="3.52" fill="#3ae8d6"/><circle cx="491.6" cy="1597.1" r="3.52" fill="#3dead5"/><circle cx="491.4" cy="1601.3" r="3.52" fill="#3febd5"/><circle cx="491.3" cy="1596.9" r="3.52" fill="#40ecd4"/><circle cx="491.2" cy="1585.5" r="3.52" fill="#40ecd4"/><circle cx="491.1" cy="1569.8" r="3.52" fill="#42edd3"/><circle cx="491.0" cy="1552.8" r="3.52" fill="#44eed2"/><circle cx="490.9" cy="1537.1" r="3.52" fill="#46efd1"/><circle cx="490.8" cy="1525.7" r="3.52" fill="#48f1d0"/><circle cx="490.7" cy="1521.2" r="3.52" fill="#4af2cf"/><circle cx="490.6" cy="1524.7" r="3.52" fill="#4df3ce"/><circle cx="490.5" cy="1533.7" r="3.52" fill="#4df3ce"/><circle cx="490.4" cy="1546.6" r="3.52" fill="#4ef3cd"/><circle cx="490.3" cy="1561.3" r="3.52" fill="#50f4cc"/><circle cx="490.2" cy="1576.0" r="3.52" fill="#52f5cb"/><circle cx="490.1" cy="1588.8" r="3.52" fill="#54f6cb"/><circle cx="490.0" cy="1597.9" r="3.52" fill="#56f7ca"/><circle cx="489.9" cy="1601.3" r="3.52" fill="#58f8c9"/><circle cx="489.8" cy="1597.4" r="3.52" fill="#58f8c9"/><circle cx="489.7" cy="1587.2" r="3.52" fill="#5af8c8"/><circle cx="489.6" cy="1573.3" r="3.52" fill="#5df9c7"/><circle cx="489.5" cy="1558.2" r="3.52" fill="#5efac6"/><circle cx="489.4" cy="1544.2" r="3.52" fill="#60fac5"/><circle cx="489.3" cy="1534.1" r="3.52" fill="#62fbc4"/><circle cx="489.2" cy="1530.1" r="3.52" fill="#64fbc3"/><circle cx="489.1" cy="1533.1" r="3.52" fill="#66fcc2"/><circle cx="489.1" cy="1540.7" r="3.52" fill="#66fcc2"/><circle cx="489.0" cy="1551.1" r="3.52" fill="#68fcc1"/><circle cx="488.9" cy="1562.5" r="3.52" fill="#6afdc0"/><circle cx="488.8" cy="1572.9" r="3.52" fill="#6dfdbf"/><circle cx="488.7" cy="1580.6" r="3.52" fill="#6efebe"/><circle cx="488.6" cy="1583.5" r="3.52" fill="#70febc"/><circle cx="488.5" cy="1580.7" r="3.52" fill="#72febb"/><circle cx="488.4" cy="1573.1" r="3.52" fill="#72febb"/><circle cx="488.3" cy="1562.4" r="3.52" fill="#74feba"/><circle cx="488.2" cy="1550.2" r="3.52" fill="#76ffb9"/><circle cx="488.1" cy="1537.9" r="3.52" fill="#78ffb8"/><circle cx="488.0" cy="1527.2" r="3.52" fill="#7affb7"/><circle cx="487.9" cy="1519.6" r="3.52" fill="#7dffb6"/><circle cx="487.8" cy="1516.8" r="3.52" fill="#7effb5"/><circle cx="487.7" cy="1520.8" r="3.52" fill="#80ffb4"/><circle cx="487.5" cy="1531.4" r="3.52" fill="#80ffb4"/><circle cx="487.4" cy="1546.3" r="3.52" fill="#82ffb3"/><circle cx="487.3" cy="1563.5" r="3.52" fill="#84ffb2"/><circle cx="487.1" cy="1580.7" r="3.52" fill="#86ffb0"/><circle cx="487.0" cy="1595.6" r="3.52" fill="#88ffaf"/><circle cx="486.8" cy="1606.2" r="3.52" fill="#8bfeae"/><circle cx="486.6" cy="1610.2" r="3.52" fill="#8cfead"/><circle cx="486.5" cy="1605.3" r="3.52" fill="#8cfead"/><circle cx="486.3" cy="1592.6" r="3.52" fill="#8efeac"/><circle cx="486.1" cy="1575.2" r="3.52" fill="#90feab"/><circle cx="485.9" cy="1556.3" r="3.52" fill="#92fda9"/><circle cx="485.7" cy="1538.9" r="3.52" fill="#94fda8"/><circle cx="485.5" cy="1526.2" r="3.52" fill="#96fca7"/><circle cx="485.3" cy="1521.2" r="3.52" fill="#99fca6"/><circle cx="485.0" cy="1531.2" r="3.52" fill="#99fca6"/><circle cx="484.7" cy="1554.9" r="3.52" fill="#9bfba5"/><circle cx="484.3" cy="1583.2" r="3.52" fill="#9cfba4"/><circle cx="484.0" cy="1607.0" r="3.52" fill="#9efaa2"/><circle cx="483.7" cy="1616.9" r="3.52" fill="#a0faa1"/><circle cx="483.5" cy="1608.8" r="3.52" fill="#a2f9a0"/><circle cx="483.4" cy="1589.5" r="3.52" fill="#a4f89f"/><circle cx="483.4" cy="1566.4" r="3.52" fill="#a6f89d"/><circle cx="483.4" cy="1547.1" r="3.52" fill="#a6f89d"/><circle cx="483.4" cy="1539.0" r="3.52" fill="#a8f79c"/><circle cx="483.4" cy="1546.0" r="3.52" fill="#abf69b"/><circle cx="483.4" cy="1561.3" r="3.52" fill="#acf59a"/><circle cx="483.4" cy="1576.6" r="3.52" fill="#aef498"/><circle cx="483.6" cy="1583.5" r="3.52" fill="#b0f397"/><circle cx="484.0" cy="1578.0" r="3.52" fill="#b2f396"/><circle cx="484.6" cy="1564.7" r="3.52" fill="#b2f396"/><circle cx="485.3" cy="1548.5" r="3.52" fill="#b4f295"/><circle cx="486.3" cy="1534.6" r="3.52" fill="#b6f193"/><circle cx="487.6" cy="1523.5" r="3.52" fill="#b9ef92"/><circle cx="489.1" cy="1512.9" r="3.52" fill="#bbee91"/><circle cx="490.5" cy="1503.4" r="3.52" fill="#bced8f"/><circle cx="492.2" cy="1493.4" r="3.52" fill="#beec8e"/><circle cx="494.1" cy="1487.8" r="3.52" fill="#c0eb8d"/><circle cx="496.6" cy="1491.0" r="3.52" fill="#c0eb8d"/><circle cx="496.9" cy="1499.9" r="3.52" fill="#c2ea8c"/><circle cx="497.1" cy="1514.5" r="3.52" fill="#c4e88a"/><circle cx="497.2" cy="1527.9" r="3.52" fill="#c6e789"/><circle cx="497.3" cy="1539.0" r="3.52" fill="#c8e688"/><circle cx="497.5" cy="1544.2" r="3.52" fill="#cbe486"/><circle cx="497.6" cy="1547.9" r="3.52" fill="#cce385"/><circle cx="497.7" cy="1551.1" r="3.52" fill="#cce385"/><circle cx="497.7" cy="1553.9" r="3.52" fill="#cee184"/><circle cx="497.8" cy="1556.8" r="3.52" fill="#d0e082"/><circle cx="497.8" cy="1560.4" r="3.52" fill="#d2de81"/><circle cx="497.8" cy="1564.2" r="3.52" fill="#d4dd80"/><circle cx="497.8" cy="1568.0" r="3.52" fill="#d6db7e"/><circle cx="497.8" cy="1572.0" r="3.52" fill="#d9da7d"/><circle cx="497.8" cy="1576.0" r="3.52" fill="#d9da7d"/><circle cx="497.8" cy="1579.1" r="3.52" fill="#dbd87b"/><circle cx="497.8" cy="1581.5" r="3.52" fill="#dcd67a"/><circle cx="497.8" cy="1583.6" r="3.52" fill="#ded579"/><circle cx="497.8" cy="1584.4" r="3.52" fill="#e0d377"/><circle cx="497.8" cy="1581.0" r="3.52" fill="#e2d176"/><circle cx="497.7" cy="1574.6" r="3.52" fill="#e4cf74"/><circle cx="497.5" cy="1566.0" r="3.52" fill="#e6cd73"/><circle cx="497.4" cy="1556.2" r="3.52" fill="#e6cd73"/><circle cx="497.2" cy="1551.5" r="3.52" fill="#e8cb72"/><circle cx="497.0" cy="1553.8" r="3.52" fill="#ebca70"/><circle cx="496.9" cy="1558.9" r="3.52" fill="#ecc86f"/><circle cx="496.6" cy="1563.5" r="3.52" fill="#eec66d"/><circle cx="496.4" cy="1566.6" r="3.52" fill="#f0c46c"/><circle cx="496.2" cy="1569.4" r="3.52" fill="#f2c26b"/><circle cx="496.0" cy="1572.4" r="3.52" fill="#f2c26b"/><circle cx="495.7" cy="1575.8" r="3.52" fill="#f4c069"/><circle cx="495.5" cy="1579.5" r="3.52" fill="#f6be68"/><circle cx="495.3" cy="1583.5" r="3.52" fill="#f9bb66"/><circle cx="495.0" cy="1588.0" r="3.52" fill="#fbb965"/><circle cx="494.8" cy="1593.4" r="3.52" fill="#fcb763"/><circle cx="494.4" cy="1599.7" r="3.52" fill="#feb562"/><circle cx="494.1" cy="1605.8" r="3.52" fill="#ffb360"/><circle cx="493.6" cy="1612.7" r="3.52" fill="#ffb360"/><circle cx="492.9" cy="1619.6" r="3.52" fill="#ffb05f"/><circle cx="492.2" cy="1622.7" r="3.52" fill="#ffae5e"/><circle cx="491.2" cy="1621.5" r="3.52" fill="#ffac5c"/><circle cx="490.3" cy="1618.3" r="3.52" fill="#ffa95b"/><circle cx="489.6" cy="1606.4" r="3.52" fill="#ffa759"/><circle cx="489.1" cy="1584.4" r="3.52" fill="#ffa558"/><circle cx="488.7" cy="1573.8" r="3.52" fill="#ffa558"/><circle cx="488.2" cy="1561.4" r="3.52" fill="#ffa256"/><circle cx="488.4" cy="1549.4" r="3.52" fill="#ffa055"/><circle cx="488.7" cy="1535.5" r="3.52" fill="#ff9d53"/><circle cx="489.1" cy="1522.6" r="3.52" fill="#ff9b52"/><circle cx="489.6" cy="1510.6" r="3.52" fill="#ff9850"/><circle cx="490.4" cy="1500.8" r="3.52" fill="#ff964f"/><circle cx="490.2" cy="1494.3" r="3.52" fill="#ff964f"/><circle cx="491.1" cy="1494.3" r="3.52" fill="#ff934d"/><circle cx="492.0" cy="1490.7" r="3.52" fill="#ff914c"/><circle cx="492.9" cy="1487.6" r="3.52" fill="#ff8e4a"/><circle cx="493.9" cy="1485.0" r="3.52" fill="#ff8c49"/><circle cx="494.9" cy="1482.7" r="3.52" fill="#ff8947"/><circle cx="496.0" cy="1480.7" r="3.52" fill="#ff8646"/><circle cx="497.1" cy="1478.6" r="3.52" fill="#ff8444"/><circle cx="498.3" cy="1470.2" r="3.52" fill="#ff8444"/><circle cx="499.5" cy="1459.2" r="3.52" fill="#ff8143"/><circle cx="501.0" cy="1448.9" r="3.52" fill="#ff7e41"/><circle cx="502.6" cy="1437.4" r="3.52" fill="#ff7b40"/><circle cx="504.3" cy="1429.3" r="3.52" fill="#ff793e"/><circle cx="506.2" cy="1421.7" r="3.52" fill="#ff763d"/><circle cx="508.1" cy="1419.5" r="3.52" fill="#ff733b"/><circle cx="510.0" cy="1420.2" r="3.52" fill="#ff733b"/><circle cx="511.9" cy="1426.4" r="3.52" fill="#ff703a"/><circle cx="513.7" cy="1435.5" r="3.52" fill="#ff6d38"/><circle cx="515.4" cy="1445.2" r="3.52" fill="#ff6b37"/><circle cx="516.9" cy="1455.3" r="3.52" fill="#ff6835"/><circle cx="518.3" cy="1460.1" r="3.52" fill="#ff6533"/><circle cx="519.6" cy="1463.2" r="3.52" fill="#ff6232"/><circle cx="520.9" cy="1458.6" r="3.52" fill="#ff5f30"/><circle cx="522.4" cy="1453.5" r="3.52" fill="#ff5f30"/><circle cx="523.9" cy="1446.0" r="3.52" fill="#ff5c2f"/><circle cx="525.5" cy="1437.4" r="3.52" fill="#ff592d"/><circle cx="527.2" cy="1428.3" r="3.52" fill="#ff562c"/><circle cx="529.1" cy="1421.6" r="3.52" fill="#ff532a"/><circle cx="531.0" cy="1418.4" r="3.52" fill="#ff5029"/><circle cx="533.0" cy="1417.6" r="3.52" fill="#ff4d27"/><circle cx="534.9" cy="1419.7" r="3.52" fill="#ff4d27"/><circle cx="536.8" cy="1424.8" r="3.52" fill="#ff4a26"/><circle cx="538.7" cy="1431.6" r="3.52" fill="#ff4724"/><circle cx="540.4" cy="1438.2" r="3.52" fill="#ff4422"/><circle cx="542.0" cy="1439.8" r="3.52" fill="#ff4121"/><circle cx="543.7" cy="1438.6" r="3.52" fill="#ff3e1f"/><circle cx="545.4" cy="1436.1" r="3.52" fill="#ff3b1e"/><circle cx="547.1" cy="1432.2" r="3.52" fill="#ff3b1e"/><circle cx="548.9" cy="1424.8" r="3.52" fill="#ff381c"/><circle cx="550.8" cy="1416.6" r="3.52" fill="#ff351b"/><circle cx="552.9" cy="1406.1" r="3.52" fill="#ff3219"/><circle cx="555.0" cy="1397.2" r="3.52" fill="#ff2f18"/><circle cx="557.3" cy="1390.9" r="3.52" fill="#ff2c16"/><circle cx="559.7" cy="1390.2" r="3.52" fill="#ff2914"/><circle cx="562.0" cy="1392.4" r="3.52" fill="#ff2613"/><circle cx="564.3" cy="1397.1" r="3.52" fill="#ff2613"/><circle cx="566.5" cy="1402.1" r="3.52" fill="#ff2211"/><circle cx="568.7" cy="1408.5" r="3.52" fill="#ff1f10"/><circle cx="570.7" cy="1415.0" r="3.52" fill="#ff1c0e"/><circle cx="572.7" cy="1418.1" r="3.52" fill="#ff190d"/><circle cx="574.6" cy="1420.6" r="3.52" fill="#ff160b"/><circle cx="576.5" cy="1422.5" r="3.52" fill="#ff1309"/><circle cx="578.4" cy="1423.8" r="3.52" fill="#ff1309"/><circle cx="580.3" cy="1422.6" r="3.52" fill="#ff1008"/><circle cx="582.2" cy="1420.1" r="3.52" fill="#ff0d06"/><circle cx="584.2" cy="1416.1" r="3.52" fill="#ff0905"/><circle cx="586.2" cy="1411.8" r="3.52" fill="#ff0603"/><circle cx="588.3" cy="1407.6" r="3.52" fill="#ff0302"/><circle cx="590.4" cy="1402.6" r="3.52" fill="#ff0000"/><circle cx="592.6" cy="1397.8" r="3.52" fill="#ff0000"/></g></g>
<g id="matplotlib.axis_9">
<g id="xtick_17">
<g id="line2d_69">
<path d="M 103.5000 900.8640 L 103.5000 500.2822" clip-path="url(#pbb51925d36)" style="fill: none; stroke-dasharray: 0.8,1.32; stroke-dashoffset: 0; stroke: #000000; stroke-width: 0.8"/>
</g>
<g id="line2d_70">
<g>
<use href="#m1504cfccaf" x="103.5000" y="900.9000" style="stroke: #000000; stroke-width: 0.8"/>
</g>
</g>
<g id="text_43">
<text class="t" x="103.5" y="926.86" text-anchor="middle">0</text>
</g>
</g>
<g id="xtick_18">
<g id="line2d_71">
<path d="M 160.2000 900.8640 L 160.2000 500.2822" clip-path="url(#pbb51925d36)" style="fill: none; stroke-dasharray: 0.8,1.32; stroke-dashoffset: 0; stroke: #000000; stroke-width: 0.8"/>
</g>
<g id="line2d_72">
<g>
<use href="#m1504cfccaf" x="160.2000" y="900.9000" style="stroke: #000000; stroke-width: 0.8"/>
</g>
</g>
<g id="text_44">
<text class="t" x="160.2" y="926.86" text-anchor="middle">20</text>
</g>
</g>
<g id="xtick_19">
<g id="line2d_73">
<path d="M 216.9000 900.8640 L 216.9000 500.2822" clip-path="url(#pbb51925d36)" style="fill: none; stroke-dasharray: 0.8,1.32; stroke-dashoffset: 0; stroke: #000000; stroke-width: 0.8"/>
</g>
<g id="line2d_74">
<g>
<use href="#m1504cfccaf" x="216.9000" y="900.9000" style="stroke: #000000; stroke-width: 0.8"/>
</g>
</g>
<g id="text_45">
<text class="t" x="216.9" y="926.86" text-anchor="middle">40</text>
</g>
</g>
<g id="xtick_20">
<g id="line2d_75">
<path d="M 273.1500 900.8640 L 273.1500 500.2822" clip-path="url(#pbb51925d36)" style="fill: none; stroke-dasharray: 0.8,1.32; stroke-dashoffset: 0; stroke: #000000; stroke-width: 0.8"/>
</g>
<g id="line2d_76">
<g>
<use href="#m1504cfccaf" x="273.1500" y="900.9000" style="stroke: #000000; stroke-width: 0.8"/>
</g>
</g>
<g id="text_46">
<text class="t" x="273.15" y="926.86" text-anchor="middle">60</text>
</g>
</g>
<g id="xtick_21">
<g id="line2d_77">
<path d="M 329.8500 900.8640 L 329.8500 500.2822" clip-path="url(#pbb51925d36)" style="fill: none; stroke-dasharray: 0.8,1.32; stroke-dashoffset: 0; stroke: #000000; stroke-width: 0.8"/>
</g>
<g id="line2d_78">
<g>
<use href="#m1504cfccaf" x="329.8500" y="900.9000" style="stroke: #000000; stroke-width: 0.8"/>
</g>
</g>
<g id="text_47">
<text class="t" x="329.85" y="926.86" text-anchor="middle">80</text>
</g>
</g>
<g id="xtick_22">
<g id="line2d_79">
<path d="M 386.1000 900.8640 L 386.1000 500.2822" clip-path="url(#pbb51925d36)" style="fill: none; stroke-dasharray: 0.8,1.32; stroke-dashoffset: 0; stroke: #000000; stroke-width: 0.8"/>
</g>
<g id="line2d_80">
<g>
<use href="#m1504cfccaf" x="386.1000" y="900.9000" style="stroke: #000000; stroke-width: 0.8"/>
</g>
</g>
<g id="text_48">
<text class="t" x="386.1" y="926.86" text-anchor="middle">100</text>
</g>
</g>
<g id="xtick_23">
<g id="line2d_81">
<path d="M 442.8000 900.8640 L 442.8000 500.2822" clip-path="url(#pbb51925d36)" style="fill: none; stroke-dasharray: 0.8,1.32; stroke-dashoffset: 0; stroke: #000000; stroke-width: 0.8"/>
</g>
<g id="line2d_82">
<g>
<use href="#m1504cfccaf" x="442.8000" y="900.9000" style="stroke: #000000; stroke-width: 0.8"/>
</g>
</g>
<g id="text_49">
<text class="t" x="442.8" y="926.86" text-anchor="middle">120</text>
</g>
</g>
<g id="xtick_24">
<g id="line2d_83">
<path d="M 499.0500 900.8640 L 499.0500 500.2822" clip-path="url(#pbb51925d36)" style="fill: none; stroke-dasharray: 0.8,1.32; stroke-dashoffset: 0; stroke: #000000; stroke-width: 0.8"/>
</g>
<g id="line2d_84">
<g>
<use href="#m1504cfccaf" x="499.0500" y="900.9000" style="stroke: #000000; stroke-width: 0.8"/>
</g>
</g>
<g id="text_50">
<text class="t" x="499.05" y="926.86" text-anchor="middle">140</text>
</g>
</g>
<g id="text_51">
<text class="t" x="315.56" y="956.02" text-anchor="middle"><tspan class="i">r</tspan> [<tspan class="i">μm</tspan>]</text>
</g>
</g>
<g id="matplotlib.axis_10">
<g id="ytick_21">
<g id="line2d_85">
<path d="M 103.6800 900.9000 L 527.4438 900.9000" clip-path="url(#pbb51925d36)" style="fill: none; stroke-dasharray: 0.8,1.32; stroke-dashoffset: 0; stroke: #000000; stroke-width: 0.8"/>
</g>
<g id="line2d_86">
<g>
<use href="#m5d545ce8f8" x="103.5000" y="900.9000" style="stroke: #000000; stroke-width: 0.8"/>
</g>
</g>
<g id="text_52">
<text class="t" x="96.7" y="910.36" text-anchor="end">−1.00</text>
</g>
</g>
<g id="ytick_22">
<g id="line2d_87">
<path d="M 103.6800 850.9500 L 527.4438 850.9500" clip-path="url(#pbb51925d36)" style="fill: none; stroke-dasharray: 0.8,1.32; stroke-dashoffset: 0; stroke: #000000; stroke-width: 0.8"/>
</g>
<g id="line2d_88">
<g>
<use href="#m5d545ce8f8" x="103.5000" y="850.9500" style="stroke: #000000; stroke-width: 0.8"/>
</g>
</g>
<g id="text_53">
<text class="t" x="96.7" y="860.29" text-anchor="end">−0.75</text>
</g>
</g>
<g id="ytick_23">
<g id="line2d_89">
<path d="M 103.6800 800.5500 L 527.4438 800.5500" clip-path="url(#pbb51925d36)" style="fill: none; stroke-dasharray: 0.8,1.32; stroke-dashoffset: 0; stroke: #000000; stroke-width: 0.8"/>
</g>
<g id="line2d_90">
<g>
<use href="#m5d545ce8f8" x="103.5000" y="800.5500" style="stroke: #000000; stroke-width: 0.8"/>
</g>
</g>
<g id="text_54">
<text class="t" x="96.7" y="810.22" text-anchor="end">−0.50</text>
</g>
</g>
<g id="ytick_24">
<g id="line2d_91">
<path d="M 103.6800 750.6000 L 527.4438 750.6000" clip-path="url(#pbb51925d36)" style="fill: none; stroke-dasharray: 0.8,1.32; stroke-dashoffset: 0; stroke: #000000; stroke-width: 0.8"/>
</g>
<g id="line2d_92">
<g>
<use href="#m5d545ce8f8" x="103.5000" y="750.6000" style="stroke: #000000; stroke-width: 0.8"/>
</g>
</g>
<g id="text_55">
<text class="t" x="96.7" y="760.14" text-anchor="end">−0.25</text>
</g>
</g>
<g id="ytick_25">
<g id="line2d_93">
<path d="M 103.6800 700.6500 L 527.4438 700.6500" clip-path="url(#pbb51925d36)" style="fill: none; stroke-dasharray: 0.8,1.32; stroke-dashoffset: 0; stroke: #000000; stroke-width: 0.8"/>
</g>
<g id="line2d_94">
<g>
<use href="#m5d545ce8f8" x="103.5000" y="700.6500" style="stroke: #000000; stroke-width: 0.8"/>
</g>
</g>
<g id="text_56">
<text class="t" x="96.7" y="710.07" text-anchor="end">0.00</text>
</g>
</g>
<g id="ytick_26">
<g id="line2d_95">
<path d="M 103.6800 650.7000 L 527.4438 650.7000" clip-path="url(#pbb51925d36)" style="fill: none; stroke-dasharray: 0.8,1.32; stroke-dashoffset: 0; stroke: #000000; stroke-width: 0.8"/>
</g>
<g id="line2d_96">
<g>
<use href="#m5d545ce8f8" x="103.5000" y="650.7000" style="stroke: #000000; stroke-width: 0.8"/>
</g>
</g>
<g id="text_57">
<text class="t" x="96.7" y="660" text-anchor="end">0.25</text>
</g>
</g>
<g id="ytick_27">
<g id="line2d_97">
<path d="M 103.6800 600.3000 L 527.4438 600.3000" clip-path="url(#pbb51925d36)" style="fill: none; stroke-dasharray: 0.8,1.32; stroke-dashoffset: 0; stroke: #000000; stroke-width: 0.8"/>
</g>
<g id="line2d_98">
<g>
<use href="#m5d545ce8f8" x="103.5000" y="600.3000" style="stroke: #000000; stroke-width: 0.8"/>
</g>
</g>
<g id="text_58">
<text class="t" x="96.7" y="609.93" text-anchor="end">0.50</text>
</g>
</g>
<g id="ytick_28">
<g id="line2d_99">
<path d="M 103.6800 550.3500 L 527.4438 550.3500" clip-path="url(#pbb51925d36)" style="fill: none; stroke-dasharray: 0.8,1.32; stroke-dashoffset: 0; stroke: #000000; stroke-width: 0.8"/>
</g>
<g id="line2d_100">
<g>
<use href="#m5d545ce8f8" x="103.5000" y="550.3500" style="stroke: #000000; stroke-width: 0.8"/>
</g>
</g>
<g id="text_59">
<text class="t" x="96.7" y="559.85" text-anchor="end">0.75</text>
</g>
</g>
<g id="ytick_29">
<g id="line2d_101">
<path d="M 103.6800 500.4000 L 527.4438 500.4000" clip-path="url(#pbb51925d36)" style="fill: none; stroke-dasharray: 0.8,1.32; stroke-dashoffset: 0; stroke: #000000; stroke-width: 0.8"/>
</g>
<g id="line2d_102">
<g>
<use href="#m5d545ce8f8" x="103.5000" y="500.4000" style="stroke: #000000; stroke-width: 0.8"/>
</g>
</g>
<g id="text_60">
<text class="t" x="96.7" y="509.78" text-anchor="end">1.00</text>
</g>
</g>
<g id="text_61">
<text class="t" transform="translate(10.74 700.57) rotate(-90)" text-anchor="middle"><tspan class="i">v</tspan><tspan class="i" font-size="17.5" dy="4.1">r</tspan><tspan dy="-4.1"> [</tspan><tspan class="i">c</tspan>]</text>
</g>
</g>
<g id="patch_17">
<path d="M 103.5000 900.8640 L 103.5000 500.2822" style="fill: none; stroke: #000000; stroke-width: 0.8; stroke-linejoin: miter; stroke-linecap: square"/>
</g>
<g id="patch_18">
<path d="M 527.4000 900.8640 L 527.4000 500.2822" style="fill: none; stroke: #000000; stroke-width: 0.8; stroke-linejoin: miter; stroke-linecap: square"/>
</g>
<g id="patch_19">
<path d="M 103.6800 900.9000 L 527.4438 900.9000" style="fill: none; stroke: #000000; stroke-width: 0.8; stroke-linejoin: miter; stroke-linecap: square"/>
</g>
<g id="patch_20">
<path d="M 103.6800 500.4000 L 527.4438 500.4000" style="fill: none; stroke: #000000; stroke-width: 0.8; stroke-linejoin: miter; stroke-linecap: square"/>
</g>
</g>
<g id="axes_6">
<g id="patch_21">
<path d="M 529.951304 900.864 L 549.980395 900.864 L 549.980395 500.282182 L 529.951304 500.282182 z
" style="fill: #ffffff"/>
</g>
<rect x="529.951" y="500.282" width="20.029" height="400.582" fill="url(#rb)"/>
<g id="matplotlib.axis_11"/>
<g id="matplotlib.axis_12">
<g id="ytick_30">
<g id="line2d_103">
<g>
<use href="#m33c4ce201d" x="549.9000" y="702.4500" style="stroke: #000000; stroke-width: 0.8"/>
</g>
</g>
<g id="text_62">
<text class="s" x="556.98" y="709.44">149.5</text>
</g>
</g>
<g id="ytick_31">
<g id="line2d_104">
<g>
<use href="#m33c4ce201d" x="549.9000" y="500.4000" style="stroke: #000000; stroke-width: 0.8"/>
</g>
</g>
<g id="text_63">
<text class="s" x="556.98" y="507.12">299.0</text>
</g>
</g>
<g id="text_64">
<text class="t" transform="translate(631.51 700.57) rotate(-90)" text-anchor="middle"><tspan class="i">t</tspan> [<tspan class="i">T</tspan><tspan font-size="17.5" dy="4.1">0</tspan><tspan dy="-4.1">]</tspan></text>
</g>
</g>
<g id="LineCollection_3"/>
<g id="patch_22">
<path d="M 530.1000 900.9000 L 540.0000 900.9000 L 549.9000 900.9000 L 549.9000 500.4000 L 540.0000 500.4000 L 530.1000 500.4000 L 530.1000 900.9000 z" style="fill: none; stroke: #000000; stroke-width: 0.8; stroke-linejoin: miter; stroke-linecap: square"/>
</g>
</g>
<g id="axes_7">
<g id="patch_23">
<path d="M 755.624348 900.864 L 1179.388174 900.864 L 1179.388174 500.282182 L 755.624348 500.282182 z
" style="fill: #ffffff"/>
</g>
<g transform="scale(0.45)"><g clip-path="url(#cp4)"><circle cx="1688.6" cy="1576.7" r="3.52" fill="#0000ff"/><circle cx="1691.7" cy="1552.4" r="3.52" fill="#0000ff"/><circle cx="1694.9" cy="1514.5" r="3.52" fill="#0001fe"/><circle cx="1698.0" cy="1472.3" r="3.52" fill="#0002fe"/><circle cx="1701.1" cy="1437.9" r="3.52" fill="#0003fe"/><circle cx="1704.3" cy="1414.7" r="3.52" fill="#0004fd"/><circle cx="1707.4" cy="1407.2" r="3.52" fill="#0005fc"/><circle cx="1710.6" cy="1410.8" r="3.52" fill="#0006fc"/><circle cx="1713.7" cy="1427.0" r="3.52" fill="#0006fc"/><circle cx="1716.8" cy="1453.8" r="3.52" fill="#0007fc"/><circle cx="1720.0" cy="1485.2" r="3.52" fill="#0008fb"/><circle cx="1723.1" cy="1519.6" r="3.52" fill="#0009fa"/><circle cx="1726.3" cy="1548.2" r="3.52" fill="#000afa"/><circle cx="1729.4" cy="1565.2" r="3.52" fill="#000bfa"/><circle cx="1732.5" cy="1573.9" r="3.52" fill="#000cf9"/><circle cx="1735.7" cy="1577.2" r="3.52" fill="#000cf9"/><circle cx="1738.8" cy="1574.6" r="3.52" fill="#000df8"/><circle cx="1741.9" cy="1569.5" r="3.52" fill="#000ef8"/><circle cx="1745.1" cy="1557.6" r="3.52" fill="#000ff8"/><circle cx="1748.2" cy="1535.5" r="3.52" fill="#0010f7"/><circle cx="1751.4" cy="1509.2" r="3.52" fill="#0011f6"/><circle cx="1754.5" cy="1479.4" r="3.52" fill="#0012f6"/><circle cx="1757.6" cy="1456.2" r="3.52" fill="#0013f6"/><circle cx="1760.8" cy="1444.7" r="3.52" fill="#0013f6"/><circle cx="1763.9" cy="1447.3" r="3.52" fill="#0014f5"/><circle cx="1767.1" cy="1462.2" r="3.52" fill="#0015f4"/><circle cx="1770.2" cy="1483.1" r="3.52" fill="#0016f4"/><circle cx="1773.3" cy="1502.2" r="3.52" fill="#0017f4"/><circle cx="1776.5" cy="1515.3" r="3.52" fill="#0018f3"/><circle cx="1779.6" cy="1521.0" r="3.52" fill="#0019f2"/><circle cx="1782.8" cy="1523.2" r="3.52" fill="#0019f2"/><circle cx="1785.9" cy="1522.5" r="3.52" fill="#001af2"/><circle cx="1789.0" cy="1520.0" r="3.52" fill="#001bf2"/><circle cx="1792.2" cy="1514.5" r="3.52" fill="#001cf1"/><circle cx="1795.3" cy="1503.3" r="3.52" fill="#001df0"/><circle cx="1798.4" cy="1487.8" r="3.52" fill="#001ef0"/><circle cx="1801.6" cy="1470.8" r="3.52" fill="#001ff0"/><circle cx="1804.7" cy="1458.1" r="3.52" fill="#0020ef"/><circle cx="1807.9" cy="1451.2" r="3.52" fill="#0020ef"/><circle cx="1811.0" cy="1451.2" r="3.52" fill="#0021ee"/><circle cx="1814.1" cy="1457.4" r="3.52" fill="#0022ee"/><circle cx="1817.3" cy="1463.6" r="3.52" fill="#0023ee"/><circle cx="1820.4" cy="1469.0" r="3.52" fill="#0024ed"/><circle cx="1823.6" cy="1473.3" r="3.52" fill="#0025ec"/><circle cx="1826.7" cy="1475.8" r="3.52" fill="#0026ec"/><circle cx="1829.8" cy="1474.8" r="3.52" fill="#0026ec"/><circle cx="1833.0" cy="1471.3" r="3.52" fill="#0027ec"/><circle cx="1836.1" cy="1466.1" r="3.52" fill="#0028eb"/><circle cx="1839.3" cy="1461.2" r="3.52" fill="#0029eb"/><circle cx="1842.4" cy="1456.7" r="3.52" fill="#002aea"/><circle cx="1845.5" cy="1453.5" r="3.52" fill="#002bea"/><circle cx="1848.7" cy="1451.6" r="3.52" fill="#002ce9"/><circle cx="1851.8" cy="1450.9" r="3.52" fill="#002ce9"/><circle cx="1854.9" cy="1450.9" r="3.52" fill="#002de8"/><circle cx="1858.1" cy="1451.3" r="3.52" fill="#002ee8"/><circle cx="1861.2" cy="1452.1" r="3.52" fill="#002fe8"/><circle cx="1864.4" cy="1452.5" r="3.52" fill="#0030e7"/><circle cx="1867.5" cy="1452.5" r="3.52" fill="#0031e6"/><circle cx="1870.6" cy="1451.6" r="3.52" fill="#0032e6"/><circle cx="1873.8" cy="1449.6" r="3.52" fill="#0033e6"/><circle cx="1876.9" cy="1446.6" r="3.52" fill="#0033e6"/><circle cx="1880.1" cy="1443.1" r="3.52" fill="#0034e5"/><circle cx="1883.2" cy="1440.1" r="3.52" fill="#0035e4"/><circle cx="1886.3" cy="1437.9" r="3.52" fill="#0036e4"/><circle cx="1889.5" cy="1436.4" r="3.52" fill="#0037e3"/><circle cx="1892.6" cy="1435.1" r="3.52" fill="#0038e3"/><circle cx="1895.8" cy="1434.0" r="3.52" fill="#0039e2"/><circle cx="1898.9" cy="1432.1" r="3.52" fill="#0039e2"/><circle cx="1902.0" cy="1429.3" r="3.52" fill="#003ae2"/><circle cx="1905.2" cy="1425.0" r="3.52" fill="#003be2"/><circle cx="1908.3" cy="1419.5" r="3.52" fill="#003ce1"/><circle cx="1911.5" cy="1413.0" r="3.52" fill="#003de0"/><circle cx="1914.6" cy="1405.5" r="3.52" fill="#003ee0"/><circle cx="1917.7" cy="1397.8" r="3.52" fill="#003fe0"/><circle cx="1920.9" cy="1391.7" r="3.52" fill="#0040df"/><circle cx="1924.0" cy="1391.3" r="3.52" fill="#0040df"/><circle cx="1927.1" cy="1396.8" r="3.52" fill="#0041de"/><circle cx="1930.3" cy="1405.3" r="3.52" fill="#0042de"/><circle cx="1933.4" cy="1411.8" r="3.52" fill="#0043de"/><circle cx="1936.6" cy="1414.9" r="3.52" fill="#0044dd"/><circle cx="1939.7" cy="1415.6" r="3.52" fill="#0045dc"/><circle cx="1942.8" cy="1415.6" r="3.52" fill="#0046dc"/><circle cx="1946.0" cy="1415.9" r="3.52" fill="#0046dc"/><circle cx="1949.1" cy="1414.4" r="3.52" fill="#0047dc"/><circle cx="1952.3" cy="1409.1" r="3.52" fill="#0048db"/><circle cx="1955.4" cy="1399.5" r="3.52" fill="#0049db"/><circle cx="1958.5" cy="1389.6" r="3.52" fill="#004ada"/><circle cx="1961.7" cy="1381.9" r="3.52" fill="#004bda"/><circle cx="1964.8" cy="1378.0" r="3.52" fill="#004cd9"/><circle cx="1968.0" cy="1378.3" r="3.52" fill="#004cd9"/><circle cx="1971.1" cy="1380.5" r="3.52" fill="#004dd8"/><circle cx="1974.2" cy="1382.2" r="3.52" fill="#004ed8"/><circle cx="1977.4" cy="1380.7" r="3.52" fill="#004fd8"/><circle cx="1980.5" cy="1379.0" r="3.52" fill="#0050d7"/><circle cx="1983.6" cy="1377.3" r="3.52" fill="#0051d6"/><circle cx="1986.8" cy="1375.1" r="3.52" fill="#0052d6"/><circle cx="1989.9" cy="1372.5" r="3.52" fill="#0053d6"/><circle cx="1993.1" cy="1369.6" r="3.52" fill="#0053d6"/><circle cx="1996.2" cy="1366.7" r="3.52" fill="#0054d5"/><circle cx="1999.3" cy="1364.5" r="3.52" fill="#0055d4"/><circle cx="2002.5" cy="1363.4" r="3.52" fill="#0056d4"/><circle cx="2005.6" cy="1362.8" r="3.52" fill="#0057d3"/><circle cx="2008.8" cy="1362.7" r="3.52" fill="#0058d3"/><circle cx="2011.9" cy="1362.7" r="3.52" fill="#0059d2"/><circle cx="2015.0" cy="1361.9" r="3.52" fill="#0059d2"/><circle cx="2018.2" cy="1360.2" r="3.52" fill="#005ad2"/><circle cx="2021.3" cy="1357.3" r="3.52" fill="#005bd2"/><circle cx="2024.5" cy="1352.7" r="3.52" fill="#005cd1"/><circle cx="2027.6" cy="1345.4" r="3.52" fill="#005dd0"/><circle cx="2030.7" cy="1337.1" r="3.52" fill="#005ed0"/><circle cx="2033.9" cy="1327.9" r="3.52" fill="#005fd0"/><circle cx="2037.0" cy="1318.5" r="3.52" fill="#0060cf"/><circle cx="2040.1" cy="1313.9" r="3.52" fill="#0060cf"/><circle cx="2043.3" cy="1316.1" r="3.52" fill="#0061ce"/><circle cx="2046.4" cy="1320.8" r="3.52" fill="#0062ce"/><circle cx="2049.6" cy="1324.3" r="3.52" fill="#0063ce"/><circle cx="2052.7" cy="1326.2" r="3.52" fill="#0064cd"/><circle cx="2055.8" cy="1326.9" r="3.52" fill="#0065cc"/><circle cx="2059.0" cy="1326.6" r="3.52" fill="#0066cc"/><circle cx="2062.1" cy="1325.5" r="3.52" fill="#0066cc"/><circle cx="2065.3" cy="1323.3" r="3.52" fill="#0067cc"/><circle cx="2068.4" cy="1320.4" r="3.52" fill="#0068cb"/><circle cx="2071.5" cy="1316.8" r="3.52" fill="#0069cb"/><circle cx="2074.7" cy="1312.7" r="3.52" fill="#006aca"/><circle cx="2077.8" cy="1308.8" r="3.52" fill="#006bca"/><circle cx="2081.0" cy="1305.9" r="3.52" fill="#006cc9"/><circle cx="2084.1" cy="1304.8" r="3.52" fill="#006cc9"/><circle cx="2087.2" cy="1305.7" r="3.52" fill="#006dc8"/><circle cx="2090.4" cy="1307.8" r="3.52" fill="#006ec8"/><circle cx="2093.5" cy="1309.3" r="3.52" fill="#006fc8"/><circle cx="2096.7" cy="1309.6" r="3.52" fill="#0070c7"/><circle cx="2099.8" cy="1309.3" r="3.52" fill="#0071c6"/><circle cx="2102.9" cy="1309.1" r="3.52" fill="#0072c6"/><circle cx="2106.1" cy="1309.3" r="3.52" fill="#0073c6"/><circle cx="2109.2" cy="1309.9" r="3.52" fill="#0073c6"/><circle cx="2112.3" cy="1309.9" r="3.52" fill="#0074c5"/><circle cx="2115.5" cy="1308.8" r="3.52" fill="#0075c4"/><circle cx="2118.6" cy="1307.7" r="3.52" fill="#0076c4"/><circle cx="2121.8" cy="1307.1" r="3.52" fill="#0077c3"/><circle cx="2124.9" cy="1307.4" r="3.52" fill="#0078c3"/><circle cx="2128.0" cy="1308.1" r="3.52" fill="#0079c2"/><circle cx="2131.2" cy="1308.6" r="3.52" fill="#0079c2"/><circle cx="2134.3" cy="1308.1" r="3.52" fill="#007ac2"/><circle cx="2137.5" cy="1306.7" r="3.52" fill="#007bc2"/><circle cx="2140.6" cy="1306.4" r="3.52" fill="#007cc1"/><circle cx="2143.7" cy="1300.6" r="3.52" fill="#007dc0"/><circle cx="2146.9" cy="1293.8" r="3.52" fill="#007ec0"/><circle cx="2150.0" cy="1286.4" r="3.52" fill="#007fc0"/><circle cx="2153.2" cy="1281.5" r="3.52" fill="#0080bf"/><circle cx="2156.3" cy="1281.3" r="3.52" fill="#0080bf"/><circle cx="2159.4" cy="1283.9" r="3.52" fill="#0081be"/><circle cx="2162.6" cy="1286.8" r="3.52" fill="#0082be"/><circle cx="2165.7" cy="1288.3" r="3.52" fill="#0083be"/><circle cx="2168.8" cy="1287.6" r="3.52" fill="#0084bd"/><circle cx="2172.0" cy="1285.0" r="3.52" fill="#0085bc"/><circle cx="2175.1" cy="1281.5" r="3.52" fill="#0086bc"/><circle cx="2178.3" cy="1277.7" r="3.52" fill="#0086bc"/><circle cx="2181.4" cy="1274.5" r="3.52" fill="#0087bc"/><circle cx="2184.5" cy="1272.4" r="3.52" fill="#0088bb"/><circle cx="2187.7" cy="1270.2" r="3.52" fill="#0089bb"/><circle cx="2190.8" cy="1267.0" r="3.52" fill="#008aba"/><circle cx="2194.0" cy="1262.2" r="3.52" fill="#008bba"/><circle cx="2197.1" cy="1257.9" r="3.52" fill="#008cb9"/><circle cx="2200.2" cy="1256.5" r="3.52" fill="#008cb9"/><circle cx="2203.4" cy="1257.5" r="3.52" fill="#008db8"/><circle cx="2206.5" cy="1258.9" r="3.52" fill="#008eb8"/><circle cx="2209.7" cy="1258.9" r="3.52" fill="#008fb8"/><circle cx="2212.8" cy="1256.9" r="3.52" fill="#0090b7"/><circle cx="2215.9" cy="1253.6" r="3.52" fill="#0091b6"/><circle cx="2219.1" cy="1250.2" r="3.52" fill="#0092b6"/><circle cx="2222.2" cy="1247.3" r="3.52" fill="#0093b6"/><circle cx="2225.3" cy="1245.2" r="3.52" fill="#0093b6"/><circle cx="2228.5" cy="1242.4" r="3.52" fill="#0094b5"/><circle cx="2231.6" cy="1239.5" r="3.52" fill="#0095b4"/><circle cx="2234.8" cy="1236.6" r="3.52" fill="#0096b4"/><circle cx="2237.9" cy="1233.7" r="3.52" fill="#0097b3"/><circle cx="2241.0" cy="1231.9" r="3.52" fill="#0098b3"/><circle cx="2244.2" cy="1231.1" r="3.52" fill="#0099b2"/><circle cx="2247.3" cy="1230.8" r="3.52" fill="#0099b2"/><circle cx="2250.5" cy="1230.8" r="3.52" fill="#009ab2"/><circle cx="2253.6" cy="1230.4" r="3.52" fill="#009bb2"/><circle cx="2256.7" cy="1229.4" r="3.52" fill="#009cb1"/><circle cx="2259.9" cy="1228.2" r="3.52" fill="#009db0"/><circle cx="2263.0" cy="1227.5" r="3.52" fill="#009eb0"/><circle cx="2266.2" cy="1227.2" r="3.52" fill="#009fb0"/><circle cx="2269.3" cy="1227.2" r="3.52" fill="#00a0af"/><circle cx="2272.4" cy="1227.2" r="3.52" fill="#00a0af"/><circle cx="2275.6" cy="1227.2" r="3.52" fill="#00a1ae"/><circle cx="2278.7" cy="1227.4" r="3.52" fill="#00a2ae"/><circle cx="2281.9" cy="1227.7" r="3.52" fill="#00a3ae"/><circle cx="2285.0" cy="1228.0" r="3.52" fill="#00a4ad"/><circle cx="2288.1" cy="1228.2" r="3.52" fill="#00a5ac"/><circle cx="2291.3" cy="1228.2" r="3.52" fill="#00a6ac"/><circle cx="2294.4" cy="1227.8" r="3.52" fill="#00a6ac"/><circle cx="2297.5" cy="1227.1" r="3.52" fill="#00a7ac"/><circle cx="2300.7" cy="1226.4" r="3.52" fill="#00a8ab"/><circle cx="2303.8" cy="1225.6" r="3.52" fill="#00a9ab"/><circle cx="2307.0" cy="1224.9" r="3.52" fill="#00aaaa"/><circle cx="2310.1" cy="1224.2" r="3.52" fill="#00abaa"/><circle cx="2313.2" cy="1223.8" r="3.52" fill="#00aca9"/><circle cx="2316.4" cy="1223.5" r="3.52" fill="#00aca9"/><circle cx="2319.5" cy="1223.2" r="3.52" fill="#00ada8"/><circle cx="2322.7" cy="1223.2" r="3.52" fill="#00aea8"/><circle cx="2325.8" cy="1223.6" r="3.52" fill="#00afa8"/><circle cx="2328.9" cy="1224.6" r="3.52" fill="#00b0a7"/><circle cx="2332.1" cy="1225.6" r="3.52" fill="#00b1a6"/><circle cx="2335.2" cy="1226.4" r="3.52" fill="#00b2a6"/><circle cx="2338.4" cy="1226.7" r="3.52" fill="#00b3a6"/><circle cx="2341.5" cy="1226.8" r="3.52" fill="#00b3a6"/><circle cx="2344.6" cy="1226.8" r="3.52" fill="#00b4a5"/><circle cx="2347.8" cy="1226.8" r="3.52" fill="#00b5a4"/><circle cx="2350.9" cy="1226.8" r="3.52" fill="#00b6a4"/><circle cx="2354.0" cy="1226.4" r="3.52" fill="#00b7a3"/><circle cx="2357.2" cy="1224.9" r="3.52" fill="#00b8a3"/><circle cx="2360.3" cy="1222.5" r="3.52" fill="#00b9a2"/><circle cx="2363.5" cy="1219.3" r="3.52" fill="#00b9a2"/><circle cx="2366.6" cy="1216.7" r="3.52" fill="#00baa2"/><circle cx="2369.7" cy="1215.5" r="3.52" fill="#00bba2"/><circle cx="2372.9" cy="1215.5" r="3.52" fill="#00bca1"/><circle cx="2376.0" cy="1216.2" r="3.52" fill="#00bda0"/><circle cx="2379.2" cy="1217.1" r="3.52" fill="#00bea0"/><circle cx="2382.3" cy="1217.8" r="3.52" fill="#00bfa0"/><circle cx="2385.4" cy="1217.8" r="3.52" fill="#00c09f"/><circle cx="2388.6" cy="1217.1" r="3.52" fill="#00c09f"/><circle cx="2391.7" cy="1215.5" r="3.52" fill="#00c19e"/><circle cx="2394.9" cy="1212.6" r="3.52" fill="#00c29e"/><circle cx="2398.0" cy="1208.7" r="3.52" fill="#00c39e"/><circle cx="2401.1" cy="1203.7" r="3.52" fill="#00c49d"/><circle cx="2404.3" cy="1197.4" r="3.52" fill="#00c59c"/><circle cx="2407.4" cy="1191.8" r="3.52" fill="#00c69c"/><circle cx="2410.6" cy="1187.7" r="3.52" fill="#00c69c"/><circle cx="2413.7" cy="1186.3" r="3.52" fill="#00c79c"/><circle cx="2416.8" cy="1187.5" r="3.52" fill="#00c89b"/><circle cx="2420.0" cy="1190.3" r="3.52" fill="#00c99b"/><circle cx="2423.1" cy="1193.8" r="3.52" fill="#00ca9a"/><circle cx="2426.2" cy="1196.4" r="3.52" fill="#00cb9a"/><circle cx="2429.4" cy="1197.6" r="3.52" fill="#00cc99"/><circle cx="2432.5" cy="1196.7" r="3.52" fill="#00cc99"/><circle cx="2435.7" cy="1194.7" r="3.52" fill="#00cd98"/><circle cx="2438.8" cy="1191.4" r="3.52" fill="#00ce98"/><circle cx="2441.9" cy="1187.0" r="3.52" fill="#00cf98"/><circle cx="2445.1" cy="1183.5" r="3.52" fill="#00d097"/><circle cx="2448.2" cy="1181.4" r="3.52" fill="#00d196"/><circle cx="2451.4" cy="1180.5" r="3.52" fill="#00d296"/><circle cx="2454.5" cy="1180.5" r="3.52" fill="#00d396"/><circle cx="2457.6" cy="1181.2" r="3.52" fill="#00d396"/><circle cx="2460.8" cy="1181.9" r="3.52" fill="#00d495"/><circle cx="2463.9" cy="1182.2" r="3.52" fill="#00d594"/><circle cx="2467.1" cy="1181.9" r="3.52" fill="#00d694"/><circle cx="2470.2" cy="1181.2" r="3.52" fill="#00d793"/><circle cx="2473.3" cy="1180.8" r="3.52" fill="#00d893"/><circle cx="2476.5" cy="1181.2" r="3.52" fill="#00d992"/><circle cx="2479.6" cy="1182.5" r="3.52" fill="#00d992"/><circle cx="2482.7" cy="1184.8" r="3.52" fill="#00da92"/><circle cx="2485.9" cy="1187.9" r="3.52" fill="#00db92"/><circle cx="2489.0" cy="1190.9" r="3.52" fill="#00dc91"/><circle cx="2492.2" cy="1193.3" r="3.52" fill="#00dd90"/><circle cx="2495.3" cy="1194.6" r="3.52" fill="#00de90"/><circle cx="2498.4" cy="1194.6" r="3.52" fill="#00df90"/><circle cx="2501.6" cy="1192.8" r="3.52" fill="#00e08f"/><circle cx="2504.7" cy="1189.2" r="3.52" fill="#00e08f"/><circle cx="2507.9" cy="1184.8" r="3.52" fill="#00e18e"/><circle cx="2511.0" cy="1180.8" r="3.52" fill="#00e28e"/><circle cx="2514.1" cy="1178.3" r="3.52" fill="#00e38e"/><circle cx="2517.3" cy="1177.8" r="3.52" fill="#00e48d"/><circle cx="2520.4" cy="1179.2" r="3.52" fill="#00e58c"/><circle cx="2523.6" cy="1181.9" r="3.52" fill="#00e68c"/><circle cx="2526.7" cy="1185.2" r="3.52" fill="#00e68c"/><circle cx="2529.8" cy="1188.8" r="3.52" fill="#00e78c"/><circle cx="2533.0" cy="1191.5" r="3.52" fill="#00e88b"/><circle cx="2536.1" cy="1192.8" r="3.52" fill="#00e98b"/><circle cx="2539.2" cy="1192.2" r="3.52" fill="#00ea8a"/><circle cx="2542.4" cy="1190.3" r="3.52" fill="#00eb8a"/><circle cx="2545.5" cy="1187.7" r="3.52" fill="#00ec89"/><circle cx="2548.7" cy="1184.1" r="3.52" fill="#00ec89"/><circle cx="2551.8" cy="1178.1" r="3.52" fill="#00ed88"/><circle cx="2554.9" cy="1172.2" r="3.52" fill="#00ee88"/><circle cx="2558.1" cy="1167.3" r="3.52" fill="#00ef88"/><circle cx="2561.2" cy="1164.8" r="3.52" fill="#00f087"/><circle cx="2564.4" cy="1165.1" r="3.52" fill="#00f186"/><circle cx="2567.5" cy="1167.3" r="3.52" fill="#00f286"/><circle cx="2570.6" cy="1170.7" r="3.52" fill="#00f386"/><circle cx="2573.8" cy="1174.9" r="3.52" fill="#00f386"/><circle cx="2576.9" cy="1178.7" r="3.52" fill="#00f485"/><circle cx="2580.1" cy="1181.6" r="3.52" fill="#00f584"/><circle cx="2583.2" cy="1183.2" r="3.52" fill="#00f684"/><circle cx="2586.3" cy="1183.5" r="3.52" fill="#00f784"/><circle cx="2589.5" cy="1182.7" r="3.52" fill="#00f883"/><circle cx="2592.6" cy="1181.2" r="3.52" fill="#00f982"/><circle cx="2595.8" cy="1179.2" r="3.52" fill="#00f982"/><circle cx="2598.9" cy="1176.8" r="3.52" fill="#00fa82"/><circle cx="2602.0" cy="1173.8" r="3.52" fill="#00fb82"/><circle cx="2605.2" cy="1171.1" r="3.52" fill="#00fc81"/><circle cx="2608.3" cy="1168.6" r="3.52" fill="#00fd80"/><circle cx="2611.4" cy="1166.7" r="3.52" fill="#00fe80"/><circle cx="2614.6" cy="1165.6" r="3.52" fill="#00ff80"/><circle cx="2617.7" cy="1165.1" r="3.52" fill="#00ff80"/><circle cx="1688.6" cy="1575.0" r="3.52" fill="#8000ff"/><circle cx="1691.7" cy="1549.0" r="3.52" fill="#8000ff"/><circle cx="1694.9" cy="1508.5" r="3.52" fill="#7e03ff"/><circle cx="1698.0" cy="1464.9" r="3.52" fill="#7c06ff"/><circle cx="1701.1" cy="1429.2" r="3.52" fill="#7a09ff"/><circle cx="1704.3" cy="1405.3" r="3.52" fill="#780dff"/><circle cx="1707.4" cy="1398.1" r="3.52" fill="#7610ff"/><circle cx="1710.6" cy="1401.7" r="3.52" fill="#7413ff"/><circle cx="1713.7" cy="1417.6" r="3.52" fill="#7413ff"/><circle cx="1716.8" cy="1443.7" r="3.52" fill="#7216ff"/><circle cx="1720.0" cy="1474.8" r="3.52" fill="#7019ff"/><circle cx="1723.1" cy="1508.0" r="3.52" fill="#6e1cff"/><circle cx="1726.3" cy="1535.5" r="3.52" fill="#6c1fff"/><circle cx="1729.4" cy="1550.7" r="3.52" fill="#6a22fe"/><circle cx="1732.5" cy="1557.2" r="3.52" fill="#6826fe"/><circle cx="1735.7" cy="1559.7" r="3.52" fill="#6826fe"/><circle cx="1738.8" cy="1560.8" r="3.52" fill="#6629fe"/><circle cx="1741.9" cy="1559.4" r="3.52" fill="#642cfe"/><circle cx="1745.1" cy="1551.4" r="3.52" fill="#622ffe"/><circle cx="1748.2" cy="1537.0" r="3.52" fill="#6032fe"/><circle cx="1751.4" cy="1515.3" r="3.52" fill="#5e35fe"/><circle cx="1754.5" cy="1490.7" r="3.52" fill="#5c38fd"/><circle cx="1757.6" cy="1472.6" r="3.52" fill="#5a3bfd"/><circle cx="1760.8" cy="1466.4" r="3.52" fill="#5a3bfd"/><circle cx="1763.9" cy="1471.9" r="3.52" fill="#583efd"/><circle cx="1767.1" cy="1487.8" r="3.52" fill="#5641fd"/><circle cx="1770.2" cy="1508.0" r="3.52" fill="#5444fd"/><circle cx="1773.3" cy="1525.1" r="3.52" fill="#5247fc"/><circle cx="1776.5" cy="1535.9" r="3.52" fill="#504afc"/><circle cx="1779.6" cy="1538.8" r="3.52" fill="#4e4dfc"/><circle cx="1782.8" cy="1539.9" r="3.52" fill="#4e4dfc"/><circle cx="1785.9" cy="1540.9" r="3.52" fill="#4c50fc"/><circle cx="1789.0" cy="1542.3" r="3.52" fill="#4a53fb"/><circle cx="1792.2" cy="1543.5" r="3.52" fill="#4856fb"/><circle cx="1795.3" cy="1540.9" r="3.52" fill="#4659fb"/><circle cx="1798.4" cy="1535.9" r="3.52" fill="#445cfb"/><circle cx="1801.6" cy="1529.0" r="3.52" fill="#425ffa"/><circle cx="1804.7" cy="1524.2" r="3.52" fill="#4062fa"/><circle cx="1807.9" cy="1523.9" r="3.52" fill="#4062fa"/><circle cx="1811.0" cy="1529.0" r="3.52" fill="#3e65fa"/><circle cx="1814.1" cy="1538.7" r="3.52" fill="#3c68f9"/><circle cx="1817.3" cy="1545.4" r="3.52" fill="#396bf9"/><circle cx="1820.4" cy="1552.2" r="3.52" fill="#386df9"/><circle cx="1823.6" cy="1555.8" r="3.52" fill="#3670f8"/><circle cx="1826.7" cy="1555.0" r="3.52" fill="#3473f8"/><circle cx="1829.8" cy="1550.7" r="3.52" fill="#3473f8"/><circle cx="1833.0" cy="1544.9" r="3.52" fill="#3176f8"/><circle cx="1836.1" cy="1541.0" r="3.52" fill="#3079f7"/><circle cx="1839.3" cy="1539.9" r="3.52" fill="#2e7bf7"/><circle cx="1842.4" cy="1540.3" r="3.52" fill="#2c7ef7"/><circle cx="1845.5" cy="1543.2" r="3.52" fill="#2981f6"/><circle cx="1848.7" cy="1548.5" r="3.52" fill="#2884f6"/><circle cx="1851.8" cy="1556.1" r="3.52" fill="#2884f6"/><circle cx="1854.9" cy="1561.6" r="3.52" fill="#2686f5"/><circle cx="1858.1" cy="1565.9" r="3.52" fill="#2489f5"/><circle cx="1861.2" cy="1569.5" r="3.52" fill="#218cf4"/><circle cx="1864.4" cy="1571.7" r="3.52" fill="#208ef4"/><circle cx="1867.5" cy="1572.4" r="3.52" fill="#1e91f3"/><circle cx="1870.6" cy="1571.2" r="3.52" fill="#1c93f3"/><circle cx="1873.8" cy="1568.1" r="3.52" fill="#1996f3"/><circle cx="1876.9" cy="1564.4" r="3.52" fill="#1996f3"/><circle cx="1880.1" cy="1560.8" r="3.52" fill="#1898f2"/><circle cx="1883.2" cy="1559.4" r="3.52" fill="#169bf2"/><circle cx="1886.3" cy="1559.4" r="3.52" fill="#149df1"/><circle cx="1889.5" cy="1560.8" r="3.52" fill="#11a0f1"/><circle cx="1892.6" cy="1563.0" r="3.52" fill="#10a2f0"/><circle cx="1895.8" cy="1564.7" r="3.52" fill="#0ea5ef"/><circle cx="1898.9" cy="1565.2" r="3.52" fill="#0ea5ef"/><circle cx="1902.0" cy="1564.0" r="3.52" fill="#0ca7ef"/><circle cx="1905.2" cy="1562.0" r="3.52" fill="#09a9ee"/><circle cx="1908.3" cy="1559.4" r="3.52" fill="#08acee"/><circle cx="1911.5" cy="1555.8" r="3.52" fill="#06aeed"/><circle cx="1914.6" cy="1551.9" r="3.52" fill="#04b0ed"/><circle cx="1917.7" cy="1548.5" r="3.52" fill="#01b3ec"/><circle cx="1920.9" cy="1546.4" r="3.52" fill="#00b5eb"/><circle cx="1924.0" cy="1550.7" r="3.52" fill="#00b5eb"/><circle cx="1927.1" cy="1560.5" r="3.52" fill="#02b7eb"/><circle cx="1930.3" cy="1572.8" r="3.52" fill="#04b9ea"/><circle cx="1933.4" cy="1582.5" r="3.52" fill="#07bbea"/><circle cx="1936.6" cy="1587.6" r="3.52" fill="#08bee9"/><circle cx="1939.7" cy="1589.0" r="3.52" fill="#0ac0e8"/><circle cx="1942.8" cy="1589.3" r="3.52" fill="#0dc2e8"/><circle cx="1946.0" cy="1589.0" r="3.52" fill="#0dc2e8"/><circle cx="1949.1" cy="1586.1" r="3.52" fill="#0fc4e7"/><circle cx="1952.3" cy="1580.4" r="3.52" fill="#10c6e6"/><circle cx="1955.4" cy="1570.2" r="3.52" fill="#12c8e6"/><circle cx="1958.5" cy="1560.1" r="3.52" fill="#14cae5"/><circle cx="1961.7" cy="1553.6" r="3.52" fill="#17cbe4"/><circle cx="1964.8" cy="1551.7" r="3.52" fill="#18cde4"/><circle cx="1968.0" cy="1555.8" r="3.52" fill="#18cde4"/><circle cx="1971.1" cy="1560.8" r="3.52" fill="#1acfe3"/><circle cx="1974.2" cy="1566.6" r="3.52" fill="#1dd1e2"/><circle cx="1977.4" cy="1569.2" r="3.52" fill="#1fd3e1"/><circle cx="1980.5" cy="1568.8" r="3.52" fill="#20d5e1"/><circle cx="1983.6" cy="1567.3" r="3.52" fill="#22d6e0"/><circle cx="1986.8" cy="1564.9" r="3.52" fill="#24d8df"/><circle cx="1989.9" cy="1561.6" r="3.52" fill="#27dade"/><circle cx="1993.1" cy="1559.4" r="3.52" fill="#27dade"/><circle cx="1996.2" cy="1558.4" r="3.52" fill="#28dbde"/><circle cx="1999.3" cy="1559.1" r="3.52" fill="#2adddd"/><circle cx="2002.5" cy="1561.1" r="3.52" fill="#2ddedc"/><circle cx="2005.6" cy="1564.4" r="3.52" fill="#2fe0db"/><circle cx="2008.8" cy="1568.5" r="3.52" fill="#30e1da"/><circle cx="2011.9" cy="1572.1" r="3.52" fill="#32e3da"/><circle cx="2015.0" cy="1573.9" r="3.52" fill="#32e3da"/><circle cx="2018.2" cy="1572.4" r="3.52" fill="#34e4d9"/><circle cx="2021.3" cy="1568.8" r="3.52" fill="#37e6d8"/><circle cx="2024.5" cy="1563.0" r="3.52" fill="#38e7d7"/><circle cx="2027.6" cy="1556.1" r="3.52" fill="#3ae8d6"/><circle cx="2030.7" cy="1550.0" r="3.52" fill="#3dead5"/><circle cx="2033.9" cy="1545.2" r="3.52" fill="#3febd5"/><circle cx="2037.0" cy="1545.2" r="3.52" fill="#40ecd4"/><circle cx="2040.1" cy="1550.0" r="3.52" fill="#40ecd4"/><circle cx="2043.3" cy="1557.9" r="3.52" fill="#42edd3"/><circle cx="2046.4" cy="1567.1" r="3.52" fill="#44eed2"/><circle cx="2049.6" cy="1574.6" r="3.52" fill="#46efd1"/><circle cx="2052.7" cy="1579.3" r="3.52" fill="#48f1d0"/><circle cx="2055.8" cy="1581.4" r="3.52" fill="#4af2cf"/><circle cx="2059.0" cy="1581.4" r="3.52" fill="#4df3ce"/><circle cx="2062.1" cy="1579.3" r="3.52" fill="#4df3ce"/><circle cx="2065.3" cy="1574.6" r="3.52" fill="#4ef3cd"/><circle cx="2068.4" cy="1568.1" r="3.52" fill="#50f4cc"/><circle cx="2071.5" cy="1561.6" r="3.52" fill="#52f5cb"/><circle cx="2074.7" cy="1555.3" r="3.52" fill="#54f6cb"/><circle cx="2077.8" cy="1549.3" r="3.52" fill="#56f7ca"/><circle cx="2081.0" cy="1548.2" r="3.52" fill="#58f8c9"/><circle cx="2084.1" cy="1554.8" r="3.52" fill="#58f8c9"/><circle cx="2087.2" cy="1566.6" r="3.52" fill="#5af8c8"/><circle cx="2090.4" cy="1577.5" r="3.52" fill="#5df9c7"/><circle cx="2093.5" cy="1585.1" r="3.52" fill="#5efac6"/><circle cx="2096.7" cy="1587.9" r="3.52" fill="#60fac5"/><circle cx="2099.8" cy="1588.3" r="3.52" fill="#62fbc4"/><circle cx="2102.9" cy="1588.3" r="3.52" fill="#64fbc3"/><circle cx="2106.1" cy="1588.8" r="3.52" fill="#66fcc2"/><circle cx="2109.2" cy="1589.3" r="3.52" fill="#66fcc2"/><circle cx="2112.3" cy="1589.3" r="3.52" fill="#68fcc1"/><circle cx="2115.5" cy="1588.3" r="3.52" fill="#6afdc0"/><circle cx="2118.6" cy="1586.9" r="3.52" fill="#6dfdbf"/><circle cx="2121.8" cy="1585.7" r="3.52" fill="#6efebe"/><circle cx="2124.9" cy="1585.7" r="3.52" fill="#70febc"/><circle cx="2128.0" cy="1586.9" r="3.52" fill="#72febb"/><circle cx="2131.2" cy="1588.0" r="3.52" fill="#72febb"/><circle cx="2134.3" cy="1588.6" r="3.52" fill="#74feba"/><circle cx="2137.5" cy="1587.9" r="3.52" fill="#76ffb9"/><circle cx="2140.6" cy="1585.4" r="3.52" fill="#78ffb8"/><circle cx="2143.7" cy="1581.1" r="3.52" fill="#7affb7"/><circle cx="2146.9" cy="1574.6" r="3.52" fill="#7dffb6"/><circle cx="2150.0" cy="1567.1" r="3.52" fill="#7effb5"/><circle cx="2153.2" cy="1562.6" r="3.52" fill="#80ffb4"/><circle cx="2156.3" cy="1562.0" r="3.52" fill="#80ffb4"/><circle cx="2159.4" cy="1563.7" r="3.52" fill="#82ffb3"/><circle cx="2162.6" cy="1566.3" r="3.52" fill="#84ffb2"/><circle cx="2165.7" cy="1567.8" r="3.52" fill="#86ffb0"/><circle cx="2168.8" cy="1567.1" r="3.52" fill="#88ffaf"/><circle cx="2172.0" cy="1564.4" r="3.52" fill="#8bfeae"/><circle cx="2175.1" cy="1560.8" r="3.52" fill="#8cfead"/><circle cx="2178.3" cy="1556.8" r="3.52" fill="#8cfead"/><circle cx="2181.4" cy="1553.6" r="3.52" fill="#8efeac"/><circle cx="2184.5" cy="1552.4" r="3.52" fill="#90feab"/><circle cx="2187.7" cy="1552.6" r="3.52" fill="#92fda9"/><circle cx="2190.8" cy="1551.7" r="3.52" fill="#94fda8"/><circle cx="2194.0" cy="1549.3" r="3.52" fill="#96fca7"/><circle cx="2197.1" cy="1547.8" r="3.52" fill="#99fca6"/><circle cx="2200.2" cy="1549.3" r="3.52" fill="#99fca6"/><circle cx="2203.4" cy="1552.9" r="3.52" fill="#9bfba5"/><circle cx="2206.5" cy="1555.8" r="3.52" fill="#9cfba4"/><circle cx="2209.7" cy="1556.5" r="3.52" fill="#9efaa2"/><circle cx="2212.8" cy="1553.6" r="3.52" fill="#a0faa1"/><circle cx="2215.9" cy="1549.3" r="3.52" fill="#a2f9a0"/><circle cx="2219.1" cy="1545.6" r="3.52" fill="#a4f89f"/><circle cx="2222.2" cy="1544.6" r="3.52" fill="#a6f89d"/><circle cx="2225.3" cy="1546.1" r="3.52" fill="#a6f89d"/><circle cx="2228.5" cy="1549.3" r="3.52" fill="#a8f79c"/><circle cx="2231.6" cy="1552.9" r="3.52" fill="#abf69b"/><circle cx="2234.8" cy="1556.5" r="3.52" fill="#acf59a"/><circle cx="2237.9" cy="1559.8" r="3.52" fill="#aef498"/><circle cx="2241.0" cy="1563.0" r="3.52" fill="#b0f397"/><circle cx="2244.2" cy="1565.6" r="3.52" fill="#b2f396"/><circle cx="2247.3" cy="1567.6" r="3.52" fill="#b2f396"/><circle cx="2250.5" cy="1569.1" r="3.52" fill="#b4f295"/><circle cx="2253.6" cy="1569.8" r="3.52" fill="#b6f193"/><circle cx="2256.7" cy="1569.5" r="3.52" fill="#b9ef92"/><circle cx="2259.9" cy="1568.5" r="3.52" fill="#bbee91"/><circle cx="2263.0" cy="1566.9" r="3.52" fill="#bced8f"/><circle cx="2266.2" cy="1565.5" r="3.52" fill="#beec8e"/><circle cx="2269.3" cy="1564.9" r="3.52" fill="#c0eb8d"/><circle cx="2272.4" cy="1566.6" r="3.52" fill="#c0eb8d"/><circle cx="2275.6" cy="1571.0" r="3.52" fill="#c2ea8c"/><circle cx="2278.7" cy="1576.7" r="3.52" fill="#c4e88a"/><circle cx="2281.9" cy="1581.8" r="3.52" fill="#c6e789"/><circle cx="2285.0" cy="1585.7" r="3.52" fill="#c8e688"/><circle cx="2288.1" cy="1588.0" r="3.52" fill="#cbe486"/><circle cx="2291.3" cy="1589.0" r="3.52" fill="#cce385"/><circle cx="2294.4" cy="1589.0" r="3.52" fill="#cce385"/><circle cx="2297.5" cy="1588.3" r="3.52" fill="#cee184"/><circle cx="2300.7" cy="1586.1" r="3.52" fill="#d0e082"/><circle cx="2303.8" cy="1584.3" r="3.52" fill="#d2de81"/><circle cx="2307.0" cy="1583.0" r="3.52" fill="#d4dd80"/><circle cx="2310.1" cy="1582.5" r="3.52" fill="#d6db7e"/><circle cx="2313.2" cy="1583.0" r="3.52" fill="#d9da7d"/><circle cx="2316.4" cy="1584.0" r="3.52" fill="#d9da7d"/><circle cx="2319.5" cy="1585.0" r="3.52" fill="#dbd87b"/><circle cx="2322.7" cy="1585.7" r="3.52" fill="#dcd67a"/><circle cx="2325.8" cy="1585.9" r="3.52" fill="#ded579"/><circle cx="2328.9" cy="1585.7" r="3.52" fill="#e0d377"/><circle cx="2332.1" cy="1585.9" r="3.52" fill="#e2d176"/><circle cx="2335.2" cy="1586.6" r="3.52" fill="#e4cf74"/><circle cx="2338.4" cy="1587.7" r="3.52" fill="#e6cd73"/><circle cx="2341.5" cy="1588.8" r="3.52" fill="#e6cd73"/><circle cx="2344.6" cy="1589.3" r="3.52" fill="#e8cb72"/><circle cx="2347.8" cy="1589.5" r="3.52" fill="#ebca70"/><circle cx="2350.9" cy="1589.5" r="3.52" fill="#ecc86f"/><circle cx="2354.0" cy="1589.0" r="3.52" fill="#eec66d"/><circle cx="2357.2" cy="1587.6" r="3.52" fill="#f0c46c"/><circle cx="2360.3" cy="1584.7" r="3.52" fill="#f2c26b"/><circle cx="2363.5" cy="1580.4" r="3.52" fill="#f2c26b"/><circle cx="2366.6" cy="1574.6" r="3.52" fill="#f4c069"/><circle cx="2369.7" cy="1570.2" r="3.52" fill="#f6be68"/><circle cx="2372.9" cy="1568.5" r="3.52" fill="#f9bb66"/><circle cx="2376.0" cy="1568.8" r="3.52" fill="#fbb965"/><circle cx="2379.2" cy="1570.7" r="3.52" fill="#fcb763"/><circle cx="2382.3" cy="1572.4" r="3.52" fill="#feb562"/><circle cx="2385.4" cy="1573.1" r="3.52" fill="#ffb360"/><circle cx="2388.6" cy="1572.7" r="3.52" fill="#ffb360"/><circle cx="2391.7" cy="1571.7" r="3.52" fill="#ffb05f"/><circle cx="2394.9" cy="1569.9" r="3.52" fill="#ffae5e"/><circle cx="2398.0" cy="1566.6" r="3.52" fill="#ffac5c"/><circle cx="2401.1" cy="1562.0" r="3.52" fill="#ffa95b"/><circle cx="2404.3" cy="1556.5" r="3.52" fill="#ffa759"/><circle cx="2407.4" cy="1551.4" r="3.52" fill="#ffa558"/><circle cx="2410.6" cy="1548.2" r="3.52" fill="#ffa558"/><circle cx="2413.7" cy="1547.5" r="3.52" fill="#ffa256"/><circle cx="2416.8" cy="1548.5" r="3.52" fill="#ffa055"/><circle cx="2420.0" cy="1551.1" r="3.52" fill="#ff9d53"/><circle cx="2423.1" cy="1554.0" r="3.52" fill="#ff9b52"/><circle cx="2426.2" cy="1556.2" r="3.52" fill="#ff9850"/><circle cx="2429.4" cy="1556.8" r="3.52" fill="#ff964f"/><circle cx="2432.5" cy="1555.5" r="3.52" fill="#ff964f"/><circle cx="2435.7" cy="1552.9" r="3.52" fill="#ff934d"/><circle cx="2438.8" cy="1549.5" r="3.52" fill="#ff914c"/><circle cx="2441.9" cy="1546.4" r="3.52" fill="#ff8e4a"/><circle cx="2445.1" cy="1544.5" r="3.52" fill="#ff8c49"/><circle cx="2448.2" cy="1544.6" r="3.52" fill="#ff8947"/><circle cx="2451.4" cy="1545.6" r="3.52" fill="#ff8646"/><circle cx="2454.5" cy="1546.8" r="3.52" fill="#ff8444"/><circle cx="2457.6" cy="1546.4" r="3.52" fill="#ff8444"/><circle cx="2460.8" cy="1544.2" r="3.52" fill="#ff8143"/><circle cx="2463.9" cy="1540.9" r="3.52" fill="#ff7e41"/><circle cx="2467.1" cy="1536.7" r="3.52" fill="#ff7b40"/><circle cx="2470.2" cy="1530.5" r="3.52" fill="#ff793e"/><circle cx="2473.3" cy="1523.7" r="3.52" fill="#ff763d"/><circle cx="2476.5" cy="1520.6" r="3.52" fill="#ff733b"/><circle cx="2479.6" cy="1522.5" r="3.52" fill="#ff733b"/><circle cx="2482.7" cy="1528.3" r="3.52" fill="#ff703a"/><circle cx="2485.9" cy="1537.0" r="3.52" fill="#ff6d38"/><circle cx="2489.0" cy="1545.4" r="3.52" fill="#ff6b37"/><circle cx="2492.2" cy="1552.4" r="3.52" fill="#ff6835"/><circle cx="2495.3" cy="1556.8" r="3.52" fill="#ff6533"/><circle cx="2498.4" cy="1557.9" r="3.52" fill="#ff6232"/><circle cx="2501.6" cy="1555.5" r="3.52" fill="#ff5f30"/><circle cx="2504.7" cy="1548.5" r="3.52" fill="#ff5f30"/><circle cx="2507.9" cy="1540.6" r="3.52" fill="#ff5c2f"/><circle cx="2511.0" cy="1530.5" r="3.52" fill="#ff592d"/><circle cx="2514.1" cy="1520.3" r="3.52" fill="#ff562c"/><circle cx="2517.3" cy="1513.4" r="3.52" fill="#ff532a"/><circle cx="2520.4" cy="1509.2" r="3.52" fill="#ff5029"/><circle cx="2523.6" cy="1509.2" r="3.52" fill="#ff4d27"/><circle cx="2526.7" cy="1512.7" r="3.52" fill="#ff4d27"/><circle cx="2529.8" cy="1519.6" r="3.52" fill="#ff4a26"/><circle cx="2533.0" cy="1526.1" r="3.52" fill="#ff4724"/><circle cx="2536.1" cy="1530.5" r="3.52" fill="#ff4422"/><circle cx="2539.2" cy="1531.9" r="3.52" fill="#ff4121"/><circle cx="2542.4" cy="1529.7" r="3.52" fill="#ff3e1f"/><circle cx="2545.5" cy="1526.1" r="3.52" fill="#ff3b1e"/><circle cx="2548.7" cy="1519.6" r="3.52" fill="#ff3b1e"/><circle cx="2551.8" cy="1509.2" r="3.52" fill="#ff381c"/><circle cx="2554.9" cy="1498.6" r="3.52" fill="#ff351b"/><circle cx="2558.1" cy="1486.6" r="3.52" fill="#ff3219"/><circle cx="2561.2" cy="1475.2" r="3.52" fill="#ff2f18"/><circle cx="2564.4" cy="1468.0" r="3.52" fill="#ff2c16"/><circle cx="2567.5" cy="1469.7" r="3.52" fill="#ff2914"/><circle cx="2570.6" cy="1475.5" r="3.52" fill="#ff2613"/><circle cx="2573.8" cy="1483.1" r="3.52" fill="#ff2613"/><circle cx="2576.9" cy="1491.7" r="3.52" fill="#ff2211"/><circle cx="2580.1" cy="1500.1" r="3.52" fill="#ff1f10"/><circle cx="2583.2" cy="1508.0" r="3.52" fill="#ff1c0e"/><circle cx="2586.3" cy="1511.6" r="3.52" fill="#ff190d"/><circle cx="2589.5" cy="1513.4" r="3.52" fill="#ff160b"/><circle cx="2592.6" cy="1514.5" r="3.52" fill="#ff1309"/><circle cx="2595.8" cy="1515.3" r="3.52" fill="#ff1309"/><circle cx="2598.9" cy="1513.5" r="3.52" fill="#ff1008"/><circle cx="2602.0" cy="1509.5" r="3.52" fill="#ff0d06"/><circle cx="2605.2" cy="1504.7" r="3.52" fill="#ff0905"/><circle cx="2608.3" cy="1499.8" r="3.52" fill="#ff0603"/><circle cx="2611.4" cy="1494.7" r="3.52" fill="#ff0302"/><circle cx="2614.6" cy="1489.2" r="3.52" fill="#ff0000"/><circle cx="2617.7" cy="1483.9" r="3.52" fill="#ff0000"/><circle cx="1688.6" cy="1588.8" r="3.52" fill="#ff0000"/><circle cx="1691.7" cy="1586.2" r="3.52" fill="#ff0000"/><circle cx="1694.9" cy="1583.7" r="3.52" fill="#ff0100"/><circle cx="1698.0" cy="1581.9" r="3.52" fill="#ff0200"/><circle cx="1701.1" cy="1580.8" r="3.52" fill="#ff0300"/><circle cx="1704.3" cy="1580.4" r="3.52" fill="#ff0400"/><circle cx="1707.4" cy="1580.4" r="3.52" fill="#ff0500"/><circle cx="1710.6" cy="1580.3" r="3.52" fill="#ff0600"/><circle cx="1713.7" cy="1580.0" r="3.52" fill="#ff0600"/><circle cx="1716.8" cy="1579.7" r="3.52" fill="#ff0700"/><circle cx="1720.0" cy="1579.0" r="3.52" fill="#ff0800"/><circle cx="1723.1" cy="1577.5" r="3.52" fill="#ff0900"/><circle cx="1726.3" cy="1575.8" r="3.52" fill="#ff0a00"/><circle cx="1729.4" cy="1573.9" r="3.52" fill="#ff0b00"/><circle cx="1732.5" cy="1572.9" r="3.52" fill="#ff0c00"/><circle cx="1735.7" cy="1572.9" r="3.52" fill="#ff0c00"/><circle cx="1738.8" cy="1574.8" r="3.52" fill="#ff0d00"/><circle cx="1741.9" cy="1578.4" r="3.52" fill="#ff0e00"/><circle cx="1745.1" cy="1583.3" r="3.52" fill="#ff0f00"/><circle cx="1748.2" cy="1589.1" r="3.52" fill="#ff1000"/><circle cx="1751.4" cy="1595.0" r="3.52" fill="#ff1100"/><circle cx="1754.5" cy="1600.8" r="3.52" fill="#ff1200"/><circle cx="1757.6" cy="1605.9" r="3.52" fill="#ff1300"/><circle cx="1760.8" cy="1610.5" r="3.52" fill="#ff1300"/><circle cx="1763.9" cy="1613.7" r="3.52" fill="#ff1400"/><circle cx="1767.1" cy="1614.8" r="3.52" fill="#ff1500"/><circle cx="1770.2" cy="1613.8" r="3.52" fill="#ff1600"/><circle cx="1773.3" cy="1612.0" r="3.52" fill="#ff1700"/><circle cx="1776.5" cy="1609.5" r="3.52" fill="#ff1800"/><circle cx="1779.6" cy="1607.2" r="3.52" fill="#ff1900"/><circle cx="1782.8" cy="1606.2" r="3.52" fill="#ff1900"/><circle cx="1785.9" cy="1607.3" r="3.52" fill="#ff1a00"/><circle cx="1789.0" cy="1610.9" r="3.52" fill="#ff1b00"/><circle cx="1792.2" cy="1617.7" r="3.52" fill="#ff1c00"/><circle cx="1795.3" cy="1627.4" r="3.52" fill="#ff1d00"/><circle cx="1798.4" cy="1637.3" r="3.52" fill="#ff1e00"/><circle cx="1801.6" cy="1647.7" r="3.52" fill="#ff1f00"/><circle cx="1804.7" cy="1656.5" r="3.52" fill="#ff2000"/><circle cx="1807.9" cy="1662.6" r="3.52" fill="#ff2000"/><circle cx="1811.0" cy="1667.6" r="3.52" fill="#ff2100"/><circle cx="1814.1" cy="1670.8" r="3.52" fill="#ff2200"/><circle cx="1817.3" cy="1672.7" r="3.52" fill="#ff2300"/><circle cx="1820.4" cy="1672.7" r="3.52" fill="#ff2400"/><circle cx="1823.6" cy="1670.8" r="3.52" fill="#ff2500"/><circle cx="1826.7" cy="1667.4" r="3.52" fill="#ff2600"/><circle cx="1829.8" cy="1664.0" r="3.52" fill="#ff2600"/><circle cx="1833.0" cy="1662.3" r="3.52" fill="#ff2700"/><circle cx="1836.1" cy="1662.3" r="3.52" fill="#ff2800"/><circle cx="1839.3" cy="1665.5" r="3.52" fill="#ff2900"/><circle cx="1842.4" cy="1671.3" r="3.52" fill="#ff2a00"/><circle cx="1845.5" cy="1678.5" r="3.52" fill="#ff2b00"/><circle cx="1848.7" cy="1686.9" r="3.52" fill="#ff2c00"/><circle cx="1851.8" cy="1694.7" r="3.52" fill="#ff2c00"/><circle cx="1854.9" cy="1701.4" r="3.52" fill="#ff2d00"/><circle cx="1858.1" cy="1706.0" r="3.52" fill="#ff2e00"/><circle cx="1861.2" cy="1708.6" r="3.52" fill="#ff2f00"/><circle cx="1864.4" cy="1709.9" r="3.52" fill="#ff3000"/><circle cx="1867.5" cy="1709.9" r="3.52" fill="#ff3100"/><circle cx="1870.6" cy="1708.9" r="3.52" fill="#ff3200"/><circle cx="1873.8" cy="1707.9" r="3.52" fill="#ff3300"/><circle cx="1876.9" cy="1707.4" r="3.52" fill="#ff3300"/><circle cx="1880.1" cy="1707.7" r="3.52" fill="#ff3400"/><circle cx="1883.2" cy="1708.9" r="3.52" fill="#ff3500"/><circle cx="1886.3" cy="1710.6" r="3.52" fill="#ff3600"/><circle cx="1889.5" cy="1713.2" r="3.52" fill="#ff3700"/><circle cx="1892.6" cy="1716.5" r="3.52" fill="#ff3800"/><circle cx="1895.8" cy="1719.7" r="3.52" fill="#ff3900"/><circle cx="1898.9" cy="1722.6" r="3.52" fill="#ff3900"/><circle cx="1902.0" cy="1725.1" r="3.52" fill="#ff3a00"/><circle cx="1905.2" cy="1727.7" r="3.52" fill="#ff3b00"/><circle cx="1908.3" cy="1730.9" r="3.52" fill="#ff3c00"/><circle cx="1911.5" cy="1734.2" r="3.52" fill="#ff3d00"/><circle cx="1914.6" cy="1737.8" r="3.52" fill="#ff3e00"/><circle cx="1917.7" cy="1740.7" r="3.52" fill="#ff3f00"/><circle cx="1920.9" cy="1744.0" r="3.52" fill="#ff4000"/><circle cx="1924.0" cy="1748.7" r="3.52" fill="#ff4000"/><circle cx="1927.1" cy="1753.7" r="3.52" fill="#ff4100"/><circle cx="1930.3" cy="1757.8" r="3.52" fill="#ff4200"/><circle cx="1933.4" cy="1760.5" r="3.52" fill="#ff4300"/><circle cx="1936.6" cy="1762.0" r="3.52" fill="#ff4400"/><circle cx="1939.7" cy="1762.4" r="3.52" fill="#ff4500"/><circle cx="1942.8" cy="1762.4" r="3.52" fill="#ff4600"/><circle cx="1946.0" cy="1762.0" r="3.52" fill="#ff4600"/><circle cx="1949.1" cy="1761.4" r="3.52" fill="#ff4700"/><circle cx="1952.3" cy="1760.7" r="3.52" fill="#ff4800"/><circle cx="1955.4" cy="1759.8" r="3.52" fill="#ff4900"/><circle cx="1958.5" cy="1759.5" r="3.52" fill="#ff4a00"/><circle cx="1961.7" cy="1760.2" r="3.52" fill="#ff4b00"/><circle cx="1964.8" cy="1762.8" r="3.52" fill="#ff4c00"/><circle cx="1968.0" cy="1767.0" r="3.52" fill="#ff4c00"/><circle cx="1971.1" cy="1771.5" r="3.52" fill="#ff4d00"/><circle cx="1974.2" cy="1775.4" r="3.52" fill="#ff4e00"/><circle cx="1977.4" cy="1778.0" r="3.52" fill="#ff4f00"/><circle cx="1980.5" cy="1779.3" r="3.52" fill="#ff5000"/><circle cx="1983.6" cy="1779.1" r="3.52" fill="#ff5100"/><circle cx="1986.8" cy="1779.0" r="3.52" fill="#ff5200"/><circle cx="1989.9" cy="1778.8" r="3.52" fill="#ff5300"/><circle cx="1993.1" cy="1779.3" r="3.52" fill="#ff5300"/><circle cx="1996.2" cy="1780.7" r="3.52" fill="#ff5400"/><circle cx="1999.3" cy="1783.2" r="3.52" fill="#ff5500"/><circle cx="2002.5" cy="1786.1" r="3.52" fill="#ff5600"/><circle cx="2005.6" cy="1790.0" r="3.52" fill="#ff5700"/><circle cx="2008.8" cy="1794.3" r="3.52" fill="#ff5800"/><circle cx="2011.9" cy="1798.1" r="3.52" fill="#ff5900"/><circle cx="2015.0" cy="1800.1" r="3.52" fill="#ff5900"/><circle cx="2018.2" cy="1800.3" r="3.52" fill="#ff5a00"/><circle cx="2021.3" cy="1799.5" r="3.52" fill="#ff5b00"/><circle cx="2024.5" cy="1799.1" r="3.52" fill="#ff5c00"/><circle cx="2027.6" cy="1799.8" r="3.52" fill="#ff5d00"/><circle cx="2030.7" cy="1802.3" r="3.52" fill="#ff5e00"/><circle cx="2033.9" cy="1807.8" r="3.52" fill="#ff5f00"/><circle cx="2037.0" cy="1816.5" r="3.52" fill="#ff6000"/><circle cx="2040.1" cy="1824.4" r="3.52" fill="#ff6000"/><circle cx="2043.3" cy="1831.4" r="3.52" fill="#ff6100"/><circle cx="2046.4" cy="1836.3" r="3.52" fill="#ff6200"/><circle cx="2049.6" cy="1840.0" r="3.52" fill="#ff6300"/><circle cx="2052.7" cy="1842.5" r="3.52" fill="#ff6400"/><circle cx="2055.8" cy="1843.5" r="3.52" fill="#ff6500"/><circle cx="2059.0" cy="1843.2" r="3.52" fill="#ff6600"/><circle cx="2062.1" cy="1841.5" r="3.52" fill="#ff6600"/><circle cx="2065.3" cy="1838.6" r="3.52" fill="#ff6700"/><circle cx="2068.4" cy="1835.3" r="3.52" fill="#ff6800"/><circle cx="2071.5" cy="1832.1" r="3.52" fill="#ff6900"/><circle cx="2074.7" cy="1829.8" r="3.52" fill="#ff6a00"/><circle cx="2077.8" cy="1828.8" r="3.52" fill="#ff6b00"/><circle cx="2081.0" cy="1831.9" r="3.52" fill="#ff6c00"/><circle cx="2084.1" cy="1839.9" r="3.52" fill="#ff6c00"/><circle cx="2087.2" cy="1850.5" r="3.52" fill="#ff6d00"/><circle cx="2090.4" cy="1859.1" r="3.52" fill="#ff6e00"/><circle cx="2093.5" cy="1864.9" r="3.52" fill="#ff6f00"/><circle cx="2096.7" cy="1867.8" r="3.52" fill="#ff7000"/><circle cx="2099.8" cy="1868.5" r="3.52" fill="#ff7100"/><circle cx="2102.9" cy="1868.8" r="3.52" fill="#ff7200"/><circle cx="2106.1" cy="1868.8" r="3.52" fill="#ff7300"/><circle cx="2109.2" cy="1868.8" r="3.52" fill="#ff7300"/><circle cx="2112.3" cy="1868.7" r="3.52" fill="#ff7400"/><circle cx="2115.5" cy="1868.5" r="3.52" fill="#ff7500"/><circle cx="2118.6" cy="1868.2" r="3.52" fill="#ff7600"/><circle cx="2121.8" cy="1868.1" r="3.52" fill="#ff7700"/><circle cx="2124.9" cy="1868.2" r="3.52" fill="#ff7800"/><circle cx="2128.0" cy="1868.7" r="3.52" fill="#ff7900"/><circle cx="2131.2" cy="1869.3" r="3.52" fill="#ff7900"/><circle cx="2134.3" cy="1869.7" r="3.52" fill="#ff7a00"/><circle cx="2137.5" cy="1870.0" r="3.52" fill="#ff7b00"/><circle cx="2140.6" cy="1870.3" r="3.52" fill="#ff7c00"/><circle cx="2143.7" cy="1870.4" r="3.52" fill="#ff7d00"/><circle cx="2146.9" cy="1870.6" r="3.52" fill="#ff7e00"/><circle cx="2150.0" cy="1870.6" r="3.52" fill="#ff7f00"/><circle cx="2153.2" cy="1870.4" r="3.52" fill="#ff8000"/><circle cx="2156.3" cy="1870.0" r="3.52" fill="#ff8000"/><circle cx="2159.4" cy="1869.5" r="3.52" fill="#ff8100"/><circle cx="2162.6" cy="1869.0" r="3.52" fill="#ff8200"/><circle cx="2165.7" cy="1868.5" r="3.52" fill="#ff8300"/><circle cx="2168.8" cy="1868.2" r="3.52" fill="#ff8400"/><circle cx="2172.0" cy="1868.1" r="3.52" fill="#ff8500"/><circle cx="2175.1" cy="1868.1" r="3.52" fill="#ff8600"/><circle cx="2178.3" cy="1868.2" r="3.52" fill="#ff8600"/><circle cx="2181.4" cy="1868.8" r="3.52" fill="#ff8700"/><circle cx="2184.5" cy="1870.0" r="3.52" fill="#ff8800"/><circle cx="2187.7" cy="1871.7" r="3.52" fill="#ff8900"/><circle cx="2190.8" cy="1873.6" r="3.52" fill="#ff8a00"/><circle cx="2194.0" cy="1875.8" r="3.52" fill="#ff8b00"/><circle cx="2197.1" cy="1877.9" r="3.52" fill="#ff8c00"/><circle cx="2200.2" cy="1880.4" r="3.52" fill="#ff8c00"/><circle cx="2203.4" cy="1882.7" r="3.52" fill="#ff8d00"/><circle cx="2206.5" cy="1884.7" r="3.52" fill="#ff8e00"/><circle cx="2209.7" cy="1885.6" r="3.52" fill="#ff8f00"/><circle cx="2212.8" cy="1885.2" r="3.52" fill="#ff9000"/><circle cx="2215.9" cy="1884.4" r="3.52" fill="#ff9100"/><circle cx="2219.1" cy="1884.2" r="3.52" fill="#ff9200"/><circle cx="2222.2" cy="1886.2" r="3.52" fill="#ff9300"/><circle cx="2225.3" cy="1890.2" r="3.52" fill="#ff9300"/><circle cx="2228.5" cy="1896.3" r="3.52" fill="#ff9400"/><circle cx="2231.6" cy="1903.0" r="3.52" fill="#ff9500"/><circle cx="2234.8" cy="1909.3" r="3.52" fill="#ff9600"/><circle cx="2237.9" cy="1916.0" r="3.52" fill="#ff9700"/><circle cx="2241.0" cy="1919.4" r="3.52" fill="#ff9800"/><circle cx="2244.2" cy="1922.7" r="3.52" fill="#ff9900"/><circle cx="2247.3" cy="1925.2" r="3.52" fill="#ff9900"/><circle cx="2250.5" cy="1927.0" r="3.52" fill="#ff9a00"/><circle cx="2253.6" cy="1928.5" r="3.52" fill="#ff9b00"/><circle cx="2256.7" cy="1929.3" r="3.52" fill="#ff9c00"/><circle cx="2259.9" cy="1929.5" r="3.52" fill="#ff9d00"/><circle cx="2263.0" cy="1928.8" r="3.52" fill="#ff9e00"/><circle cx="2266.2" cy="1927.4" r="3.52" fill="#ff9f00"/><circle cx="2269.3" cy="1926.3" r="3.52" fill="#ffa000"/><circle cx="2272.4" cy="1928.1" r="3.52" fill="#ffa000"/><circle cx="2275.6" cy="1932.4" r="3.52" fill="#ffa100"/><circle cx="2278.7" cy="1938.2" r="3.52" fill="#ffa200"/><circle cx="2281.9" cy="1944.0" r="3.52" fill="#ffa300"/><circle cx="2285.0" cy="1947.6" r="3.52" fill="#ffa400"/><circle cx="2288.1" cy="1949.4" r="3.52" fill="#ffa500"/><circle cx="2291.3" cy="1950.0" r="3.52" fill="#ffa600"/><circle cx="2294.4" cy="1950.0" r="3.52" fill="#ffa600"/><circle cx="2297.5" cy="1949.8" r="3.52" fill="#ffa700"/><circle cx="2300.7" cy="1949.3" r="3.52" fill="#ffa800"/><circle cx="2303.8" cy="1948.7" r="3.52" fill="#ffa900"/><circle cx="2307.0" cy="1948.2" r="3.52" fill="#ffaa00"/><circle cx="2310.1" cy="1948.2" r="3.52" fill="#ffab00"/><circle cx="2313.2" cy="1949.1" r="3.52" fill="#ffac00"/><circle cx="2316.4" cy="1950.5" r="3.52" fill="#ffac00"/><circle cx="2319.5" cy="1951.8" r="3.52" fill="#ffad00"/><circle cx="2322.7" cy="1952.3" r="3.52" fill="#ffae00"/><circle cx="2325.8" cy="1952.0" r="3.52" fill="#ffaf00"/><circle cx="2328.9" cy="1951.2" r="3.52" fill="#ffb000"/><circle cx="2332.1" cy="1950.7" r="3.52" fill="#ffb100"/><circle cx="2335.2" cy="1950.7" r="3.52" fill="#ffb200"/><circle cx="2338.4" cy="1951.2" r="3.52" fill="#ffb300"/><circle cx="2341.5" cy="1951.8" r="3.52" fill="#ffb300"/><circle cx="2344.6" cy="1952.1" r="3.52" fill="#ffb400"/><circle cx="2347.8" cy="1952.1" r="3.52" fill="#ffb500"/><circle cx="2350.9" cy="1952.1" r="3.52" fill="#ffb600"/><circle cx="2354.0" cy="1952.0" r="3.52" fill="#ffb700"/><circle cx="2357.2" cy="1951.6" r="3.52" fill="#ffb800"/><circle cx="2360.3" cy="1950.5" r="3.52" fill="#ffb900"/><circle cx="2363.5" cy="1948.4" r="3.52" fill="#ffb900"/><circle cx="2366.6" cy="1945.8" r="3.52" fill="#ffba00"/><circle cx="2369.7" cy="1943.7" r="3.52" fill="#ffbb00"/><circle cx="2372.9" cy="1942.7" r="3.52" fill="#ffbc00"/><circle cx="2376.0" cy="1942.7" r="3.52" fill="#ffbd00"/><circle cx="2379.2" cy="1943.4" r="3.52" fill="#ffbe00"/><circle cx="2382.3" cy="1944.0" r="3.52" fill="#ffbf00"/><circle cx="2385.4" cy="1944.2" r="3.52" fill="#ffc000"/><circle cx="2388.6" cy="1944.0" r="3.52" fill="#ffc000"/><circle cx="2391.7" cy="1944.2" r="3.52" fill="#ffc100"/><circle cx="2394.9" cy="1945.1" r="3.52" fill="#ffc200"/><circle cx="2398.0" cy="1946.9" r="3.52" fill="#ffc300"/><circle cx="2401.1" cy="1947.8" r="3.52" fill="#ffc400"/><circle cx="2404.3" cy="1949.3" r="3.52" fill="#ffc500"/><circle cx="2407.4" cy="1950.4" r="3.52" fill="#ffc600"/><circle cx="2410.6" cy="1951.1" r="3.52" fill="#ffc600"/><circle cx="2413.7" cy="1951.4" r="3.52" fill="#ffc700"/><circle cx="2416.8" cy="1951.4" r="3.52" fill="#ffc800"/><circle cx="2420.0" cy="1951.1" r="3.52" fill="#ffc900"/><circle cx="2423.1" cy="1950.7" r="3.52" fill="#ffca00"/><circle cx="2426.2" cy="1949.7" r="3.52" fill="#ffcb00"/><circle cx="2429.4" cy="1948.5" r="3.52" fill="#ffcc00"/><circle cx="2432.5" cy="1947.5" r="3.52" fill="#ffcc00"/><circle cx="2435.7" cy="1947.1" r="3.52" fill="#ffcd00"/><circle cx="2438.8" cy="1947.1" r="3.52" fill="#ffce00"/><circle cx="2441.9" cy="1948.1" r="3.52" fill="#ffcf00"/><circle cx="2445.1" cy="1950.4" r="3.52" fill="#ffd000"/><circle cx="2448.2" cy="1953.6" r="3.52" fill="#ffd100"/><circle cx="2451.4" cy="1956.1" r="3.52" fill="#ffd200"/><circle cx="2454.5" cy="1956.8" r="3.52" fill="#ffd300"/><circle cx="2457.6" cy="1955.0" r="3.52" fill="#ffd300"/><circle cx="2460.8" cy="1951.9" r="3.52" fill="#ffd400"/><circle cx="2463.9" cy="1947.8" r="3.52" fill="#ffd500"/><circle cx="2467.1" cy="1942.7" r="3.52" fill="#ffd600"/><circle cx="2470.2" cy="1937.4" r="3.52" fill="#ffd700"/><circle cx="2473.3" cy="1932.2" r="3.52" fill="#ffd800"/><circle cx="2476.5" cy="1929.0" r="3.52" fill="#ffd900"/><circle cx="2479.6" cy="1928.6" r="3.52" fill="#ffd900"/><circle cx="2482.7" cy="1931.9" r="3.52" fill="#ffda00"/><circle cx="2485.9" cy="1938.0" r="3.52" fill="#ffdb00"/><circle cx="2489.0" cy="1943.9" r="3.52" fill="#ffdc00"/><circle cx="2492.2" cy="1948.5" r="3.52" fill="#ffdd00"/><circle cx="2495.3" cy="1951.4" r="3.52" fill="#ffde00"/><circle cx="2498.4" cy="1952.4" r="3.52" fill="#ffdf00"/><circle cx="2501.6" cy="1951.4" r="3.52" fill="#ffe000"/><circle cx="2504.7" cy="1948.5" r="3.52" fill="#ffe000"/><circle cx="2507.9" cy="1944.2" r="3.52" fill="#ffe100"/><circle cx="2511.0" cy="1938.0" r="3.52" fill="#ffe200"/><circle cx="2514.1" cy="1931.2" r="3.52" fill="#ffe300"/><circle cx="2517.3" cy="1925.1" r="3.52" fill="#ffe400"/><circle cx="2520.4" cy="1920.0" r="3.52" fill="#ffe500"/><circle cx="2523.6" cy="1917.0" r="3.52" fill="#ffe600"/><circle cx="2526.7" cy="1916.7" r="3.52" fill="#ffe600"/><circle cx="2529.8" cy="1918.9" r="3.52" fill="#ffe700"/><circle cx="2533.0" cy="1923.2" r="3.52" fill="#ffe800"/><circle cx="2536.1" cy="1926.8" r="3.52" fill="#ffe900"/><circle cx="2539.2" cy="1928.3" r="3.52" fill="#ffea00"/><circle cx="2542.4" cy="1927.6" r="3.52" fill="#ffeb00"/><circle cx="2545.5" cy="1926.1" r="3.52" fill="#ffec00"/><circle cx="2548.7" cy="1924.2" r="3.52" fill="#ffec00"/><circle cx="2551.8" cy="1920.6" r="3.52" fill="#ffed00"/><circle cx="2554.9" cy="1915.7" r="3.52" fill="#ffee00"/><circle cx="2558.1" cy="1908.0" r="3.52" fill="#ffef00"/><circle cx="2561.2" cy="1899.8" r="3.52" fill="#fff000"/><circle cx="2564.4" cy="1893.3" r="3.52" fill="#fff100"/><circle cx="2567.5" cy="1892.1" r="3.52" fill="#fff200"/><circle cx="2570.6" cy="1893.6" r="3.52" fill="#fff300"/><circle cx="2573.8" cy="1896.5" r="3.52" fill="#fff300"/><circle cx="2576.9" cy="1901.8" r="3.52" fill="#fff400"/><circle cx="2580.1" cy="1908.0" r="3.52" fill="#fff500"/><circle cx="2583.2" cy="1914.5" r="3.52" fill="#fff600"/><circle cx="2586.3" cy="1918.2" r="3.52" fill="#fff700"/><circle cx="2589.5" cy="1921.0" r="3.52" fill="#fff800"/><circle cx="2592.6" cy="1923.7" r="3.52" fill="#fff900"/><circle cx="2595.8" cy="1925.4" r="3.52" fill="#fff900"/><circle cx="2598.9" cy="1926.1" r="3.52" fill="#fffa00"/><circle cx="2602.0" cy="1925.1" r="3.52" fill="#fffb00"/><circle cx="2605.2" cy="1922.9" r="3.52" fill="#fffc00"/><circle cx="2608.3" cy="1920.0" r="3.52" fill="#fffd00"/><circle cx="2611.4" cy="1916.7" r="3.52" fill="#fffe00"/><circle cx="2614.6" cy="1912.8" r="3.52" fill="#ffff00"/><circle cx="2617.7" cy="1908.0" r="3.52" fill="#ffff00"/></g></g>
<g id="matplotlib.axis_13">
<g id="xtick_25">
<g id="line2d_105">
<path d="M 755.5500 900.8640 L 755.5500 500.2822" clip-path="url(#p9573fd72ad)" style="fill: none; stroke-dasharray: 0.8,1.32; stroke-dashoffset: 0; stroke: #000000; stroke-width: 0.8"/>
</g>
<g id="line2d_106">
<g>
<use href="#m1504cfccaf" x="755.5500" y="900.9000" style="stroke: #000000; stroke-width: 0.8"/>
</g>
</g>
<g id="text_65">
<text class="t" x="755.55" y="926.86" text-anchor="middle">0</text>
</g>
</g>
<g id="xtick_26">
<g id="line2d_107">
<path d="M 826.2000 900.8640 L 826.2000 500.2822" clip-path="url(#p9573fd72ad)" style="fill: none; stroke-dasharray: 0.8,1.32; stroke-dashoffset: 0; stroke: #000000; stroke-width: 0.8"/>
</g>
<g id="line2d_108">
<g>
<use href="#m1504cfccaf" x="826.2000" y="900.9000" style="stroke: #000000; stroke-width: 0.8"/>
</g>
</g>
<g id="text_66">
<text class="t" x="826.2" y="926.86" text-anchor="middle">50</text>
</g>
</g>
<g id="xtick_27">
<g id="line2d_109">
<path d="M 896.8500 900.8640 L 896.8500 500.2822" clip-path="url(#p9573fd72ad)" style="fill: none; stroke-dasharray: 0.8,1.32; stroke-dashoffset: 0; stroke: #000000; stroke-width: 0.8"/>
</g>
<g id="line2d_110">
<g>
<use href="#m1504cfccaf" x="896.8500" y="900.9000" style="stroke: #000000; stroke-width: 0.8"/>
</g>
</g>
<g id="text_67">
<text class="t" x="896.85" y="926.86" text-anchor="middle">100</text>
</g>
</g>
<g id="xtick_28">
<g id="line2d_111">
<path d="M 967.5000 900.8640 L 967.5000 500.2822" clip-path="url(#p9573fd72ad)" style="fill: none; stroke-dasharray: 0.8,1.32; stroke-dashoffset: 0; stroke: #000000; stroke-width: 0.8"/>
</g>
<g id="line2d_112">
<g>
<use href="#m1504cfccaf" x="967.5000" y="900.9000" style="stroke: #000000; stroke-width: 0.8"/>
</g>
</g>
<g id="text_68">
<text class="t" x="967.5" y="926.86" text-anchor="middle">150</text>
</g>
</g>
<g id="xtick_29">
<g id="line2d_113">
<path d="M 1038.1500 900.8640 L 1038.1500 500.2822" clip-path="url(#p9573fd72ad)" style="fill: none; stroke-dasharray: 0.8,1.32; stroke-dashoffset: 0; stroke: #000000; stroke-width: 0.8"/>
</g>
<g id="line2d_114">
<g>
<use href="#m1504cfccaf" x="1038.1500" y="900.9000" style="stroke: #000000; stroke-width: 0.8"/>
</g>
</g>
<g id="text_69">
<text class="t" x="1038.15" y="926.86" text-anchor="middle">200</text>
</g>
</g>
<g id="xtick_30">
<g id="line2d_115">
<path d="M 1108.8000 900.8640 L 1108.8000 500.2822" clip-path="url(#p9573fd72ad)" style="fill: none; stroke-dasharray: 0.8,1.32; stroke-dashoffset: 0; stroke: #000000; stroke-width: 0.8"/>
</g>
<g id="line2d_116">
<g>
<use href="#m1504cfccaf" x="1108.8000" y="900.9000" style="stroke: #000000; stroke-width: 0.8"/>
</g>
</g>
<g id="text_70">
<text class="t" x="1108.8" y="926.86" text-anchor="middle">250</text>
</g>
</g>
<g id="xtick_31">
<g id="line2d_117">
<path d="M 1179.4500 900.8640 L 1179.4500 500.2822" clip-path="url(#p9573fd72ad)" style="fill: none; stroke-dasharray: 0.8,1.32; stroke-dashoffset: 0; stroke: #000000; stroke-width: 0.8"/>
</g>
<g id="line2d_118">
<g>
<use href="#m1504cfccaf" x="1179.4500" y="900.9000" style="stroke: #000000; stroke-width: 0.8"/>
</g>
</g>
<g id="text_71">
<text class="t" x="1179.45" y="926.86" text-anchor="middle">300</text>
</g>
</g>
<g id="text_72">
<text class="t" x="967.5" y="955.3" text-anchor="middle"><tspan class="i">t</tspan> [<tspan class="i">T</tspan><tspan font-size="17.5" dy="4.1">0</tspan><tspan dy="-4.1">]</tspan></text>
</g>
</g>
<g id="matplotlib.axis_14">
<g id="ytick_32">
<g id="line2d_119">
<path d="M 755.6243 894.6000 L 1179.3882 894.6000" clip-path="url(#p9573fd72ad)" style="fill: none; stroke-dasharray: 0.8,1.32; stroke-dashoffset: 0; stroke: #000000; stroke-width: 0.8"/>
</g>
<g id="line2d_120">
<g>
<use href="#m5d545ce8f8" x="755.5500" y="894.6000" style="stroke: #000000; stroke-width: 0.8"/>
</g>
</g>
<g id="text_73">
<text class="t" x="748.6" y="904.1" text-anchor="end">−0.3</text>
</g>
</g>
<g id="ytick_33">
<g id="line2d_121">
<path d="M 755.6243 834.7500 L 1179.3882 834.7500" clip-path="url(#p9573fd72ad)" style="fill: none; stroke-dasharray: 0.8,1.32; stroke-dashoffset: 0; stroke: #000000; stroke-width: 0.8"/>
</g>
<g id="line2d_122">
<g>
<use href="#m5d545ce8f8" x="755.5500" y="834.7500" style="stroke: #000000; stroke-width: 0.8"/>
</g>
</g>
<g id="text_74">
<text class="t" x="748.6" y="844.32" text-anchor="end">−0.2</text>
</g>
</g>
<g id="ytick_34">
<g id="line2d_123">
<path d="M 755.6243 774.9000 L 1179.3882 774.9000" clip-path="url(#p9573fd72ad)" style="fill: none; stroke-dasharray: 0.8,1.32; stroke-dashoffset: 0; stroke: #000000; stroke-width: 0.8"/>
</g>
<g id="line2d_124">
<g>
<use href="#m5d545ce8f8" x="755.5500" y="774.9000" style="stroke: #000000; stroke-width: 0.8"/>
</g>
</g>
<g id="text_75">
<text class="t" x="748.6" y="784.55" text-anchor="end">−0.1</text>
</g>
</g>
<g id="ytick_35">
<g id="line2d_125">
<path d="M 755.6243 715.0500 L 1179.3882 715.0500" clip-path="url(#p9573fd72ad)" style="fill: none; stroke-dasharray: 0.8,1.32; stroke-dashoffset: 0; stroke: #000000; stroke-width: 0.8"/>
</g>
<g id="line2d_126">
<g>
<use href="#m5d545ce8f8" x="755.5500" y="715.0500" style="stroke: #000000; stroke-width: 0.8"/>
</g>
</g>
<g id="text_76">
<text class="t" x="748.6" y="724.77" text-anchor="end">0.0</text>
</g>
</g>
<g id="ytick_36">
<g id="line2d_127">
<path d="M 755.6243 655.6500 L 1179.3882 655.6500" clip-path="url(#p9573fd72ad)" style="fill: none; stroke-dasharray: 0.8,1.32; stroke-dashoffset: 0; stroke: #000000; stroke-width: 0.8"/>
</g>
<g id="line2d_128">
<g>
<use href="#m5d545ce8f8" x="755.5500" y="655.6500" style="stroke: #000000; stroke-width: 0.8"/>
</g>
</g>
<g id="text_77">
<text class="t" x="748.6" y="665" text-anchor="end">0.1</text>
</g>
</g>
<g id="ytick_37">
<g id="line2d_129">
<path d="M 755.6243 595.8000 L 1179.3882 595.8000" clip-path="url(#p9573fd72ad)" style="fill: none; stroke-dasharray: 0.8,1.32; stroke-dashoffset: 0; stroke: #000000; stroke-width: 0.8"/>
</g>
<g id="line2d_130">
<g>
<use href="#m5d545ce8f8" x="755.5500" y="595.8000" style="stroke: #000000; stroke-width: 0.8"/>
</g>
</g>
<g id="text_78">
<text class="t" x="748.6" y="605.22" text-anchor="end">0.2</text>
</g>
</g>
<g id="ytick_38">
<g id="line2d_131">
<path d="M 755.6243 535.9500 L 1179.3882 535.9500" clip-path="url(#p9573fd72ad)" style="fill: none; stroke-dasharray: 0.8,1.32; stroke-dashoffset: 0; stroke: #000000; stroke-width: 0.8"/>
</g>
<g id="line2d_132">
<g>
<use href="#m5d545ce8f8" x="755.5500" y="535.9500" style="stroke: #000000; stroke-width: 0.8"/>
</g>
</g>
<g id="text_79">
<text class="t" x="748.6" y="545.45" text-anchor="end">0.3</text>
</g>
</g>
<g id="text_80">
<text class="t" transform="translate(678.61 700.57) rotate(-90)" text-anchor="middle"><tspan class="i">Ek W</tspan> [<tspan class="i">m</tspan><tspan class="i" font-size="17.5" dy="4.1">e</tspan><tspan class="i" dy="-4.1">c</tspan><tspan font-size="17.5" dy="-9.6">2</tspan><tspan dy="9.6">]</tspan></text>
</g>
</g>
<g id="patch_24">
<path d="M 755.5500 900.8640 L 755.5500 500.2822" style="fill: none; stroke: #000000; stroke-width: 0.8; stroke-linejoin: miter; stroke-linecap: square"/>
</g>
<g id="patch_25">
<path d="M 1179.4500 900.8640 L 1179.4500 500.2822" style="fill: none; stroke: #000000; stroke-width: 0.8; stroke-linejoin: miter; stroke-linecap: square"/>
</g>
<g id="patch_26">
<path d="M 755.6243 900.9000 L 1179.3882 900.9000" style="fill: none; stroke: #000000; stroke-width: 0.8; stroke-linejoin: miter; stroke-linecap: square"/>
</g>
<g id="patch_27">
<path d="M 755.6243 500.4000 L 1179.3882 500.4000" style="fill: none; stroke: #000000; stroke-width: 0.8; stroke-linejoin: miter; stroke-linecap: square"/>
</g>
</g>
<g id="axes_8">
<g id="patch_28">
<path d="M 1181.895652 900.864 L 1201.924743 900.864 L 1201.924743 500.282182 L 1181.895652 500.282182 z
" style="fill: #ffffff"/>
</g>
<rect x="1181.896" y="500.282" width="20.029" height="400.582" fill="url(#rb)"/>
<g id="matplotlib.axis_15"/>
<g id="matplotlib.axis_16">
<g id="ytick_39">
<g id="line2d_133">
<g>
<use href="#m33c4ce201d" x="1201.9500" y="702.4500" style="stroke: #000000; stroke-width: 0.8"/>
</g>
</g>
<g id="text_81">
<text class="s" x="1208.92" y="709.44">149.5</text>
</g>
</g>
<g id="ytick_40">
<g id="line2d_134">
<g>
<use href="#m33c4ce201d" x="1201.9500" y="500.4000" style="stroke: #000000; stroke-width: 0.8"/>
</g>
</g>
<g id="text_82">
<text class="s" x="1208.92" y="507.12">299.0</text>
</g>
</g>
<g id="text_83">
<text class="t" transform="translate(1283.45 700.57) rotate(-90)" text-anchor="middle"><tspan class="i">t</tspan> [<tspan class="i">T</tspan><tspan font-size="17.5" dy="4.1">0</tspan><tspan dy="-4.1">]</tspan></text>
</g>
</g>
<g id="LineCollection_4"/>
<g id="patch_29">
<path d="M 1181.7000 900.9000 L 1192.0500 900.9000 L 1201.9500 900.9000 L 1201.9500 500.4000 L 1192.0500 500.4000 L 1181.7000 500.4000 L 1181.7000 900.9000 z" style="fill: none; stroke: #000000; stroke-width: 0.8; stroke-linejoin: miter; stroke-linecap: square"/>
</g>
</g>
</g>
<defs>
<clipPath id="pd6aecbfa7d">
<rect x="103.68" y="19.584" width="423.763826" height="400.581818"/>
</clipPath>
<clipPath id="p91a6668fea">
<rect x="755.624348" y="19.584" width="423.763826" height="400.581818"/>
</clipPath>
<clipPath id="pbb51925d36">
<rect x="103.68" y="500.282182" width="423.763826" height="400.581818"/>
</clipPath>
<clipPath id="p9573fd72ad">
<rect x="755.624348" y="500.282182" width="423.763826" height="400.581818"/>
</clipPath>
</defs>
</svg>

</body></html>
